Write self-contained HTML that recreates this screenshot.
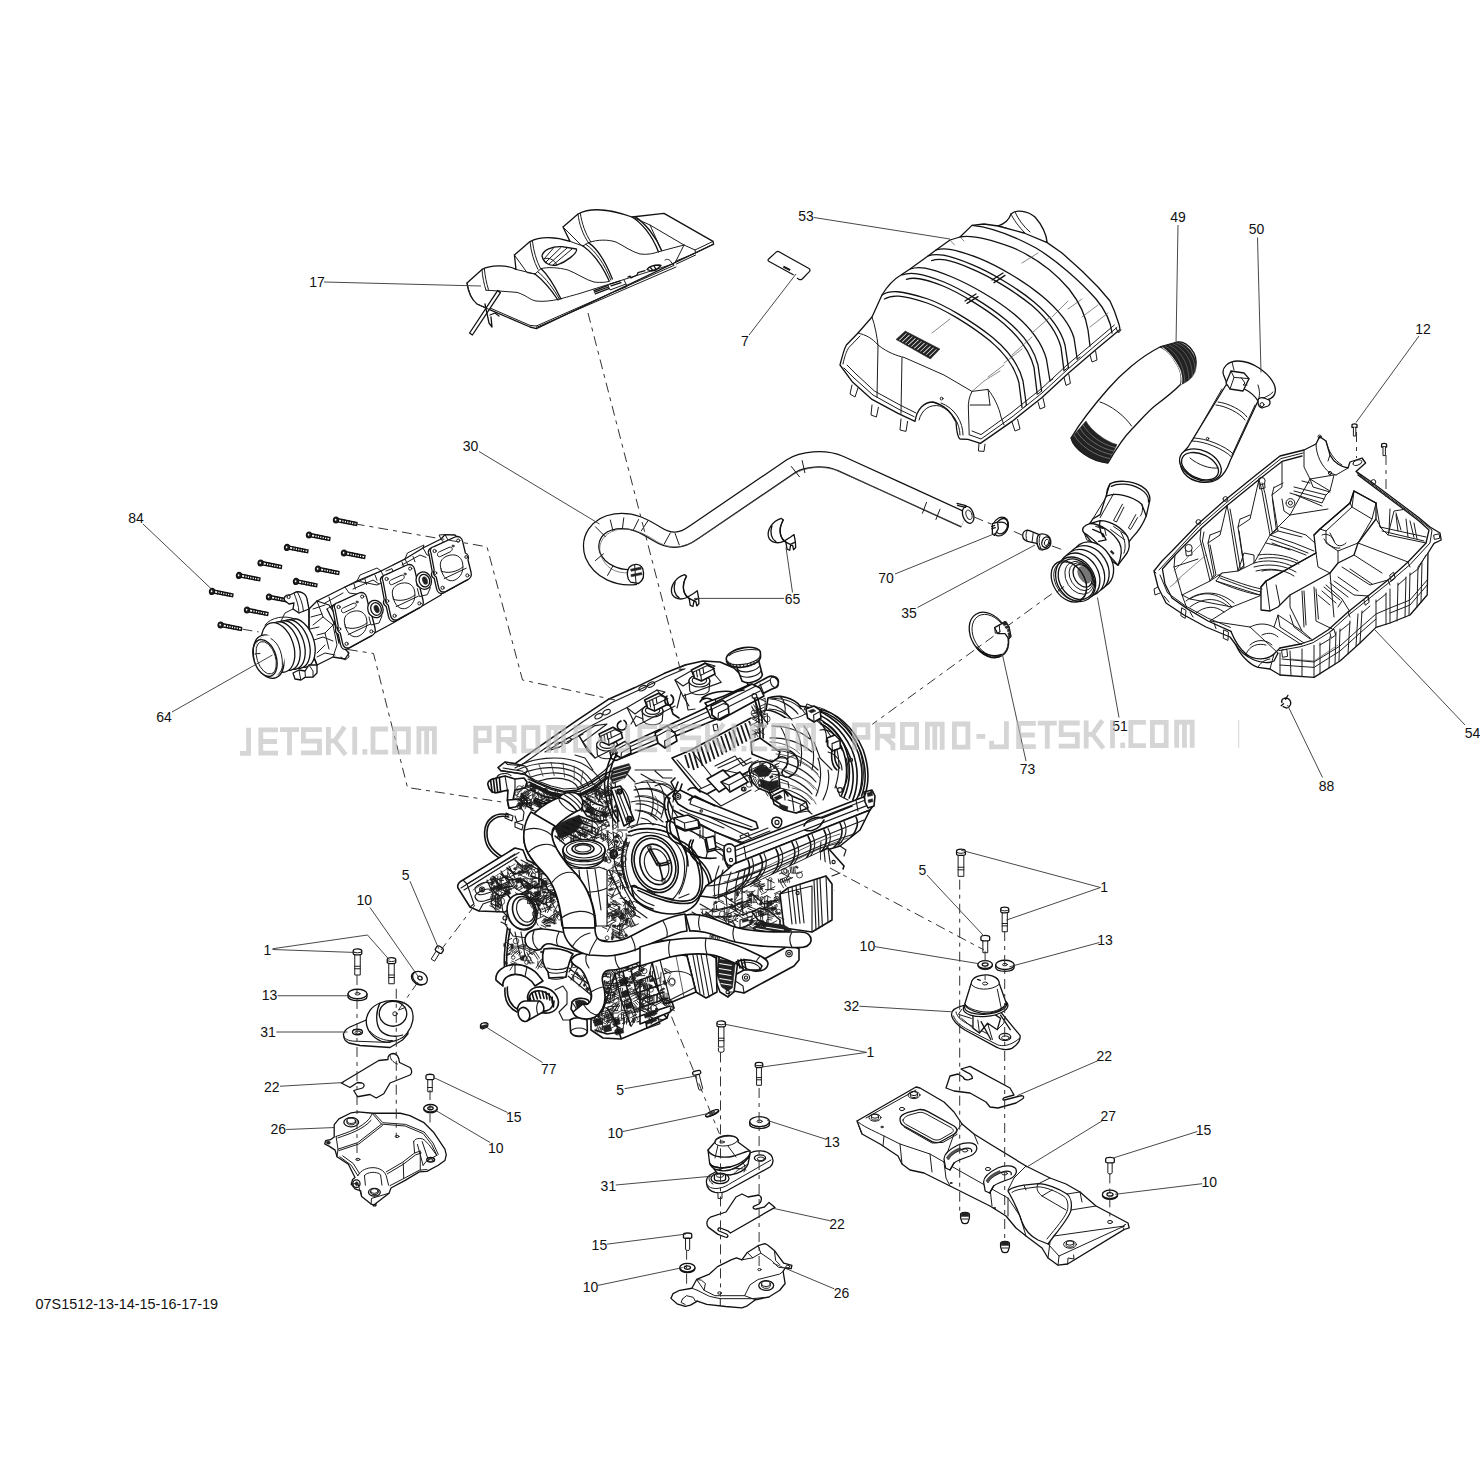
<!DOCTYPE html>
<html><head><meta charset="utf-8"><title>07S1512</title>
<style>
html,body{margin:0;padding:0;background:#fff;}
body{width:1480px;height:1480px;overflow:hidden;font-family:"Liberation Sans",sans-serif;}
svg{display:block}
svg *{vector-effect:non-scaling-stroke}
.l{fill:none;stroke:#1c1c1c;stroke-width:1;stroke-linecap:round;stroke-linejoin:round}
.f{fill:#fff;stroke:#1c1c1c;stroke-width:1;stroke-linecap:round;stroke-linejoin:round}
.k{fill:none;stroke:#111;stroke-width:1.3;stroke-linecap:round;stroke-linejoin:round}
.fk{fill:#fff;stroke:#111;stroke-width:1.3;stroke-linecap:round;stroke-linejoin:round}
.t{fill:none;stroke:#555;stroke-width:.7;stroke-linecap:round;stroke-linejoin:round}
.ft{fill:#fff;stroke:#555;stroke-width:.7}
.b{fill:#222;stroke:#222;stroke-width:.5}
.w{fill:#fff;stroke:none}
.d{fill:none;stroke:#333;stroke-width:1;stroke-dasharray:10 5 4 5}
.ld{fill:none;stroke:#333;stroke-width:.9}
.eng .k,.eng .fk{stroke-width:1.6}
.eng .l,.eng .f{stroke-width:1.15}
.eng .t{stroke-width:.8;stroke:#333}
.fin{fill:none;stroke:#1a1a1a;stroke-width:1.8;stroke-linecap:butt}
text{font-family:"Liberation Sans",sans-serif;font-size:14px;fill:#111}
.wm{fill:none;stroke:#bcbcbc;stroke-width:4.8;stroke-linecap:butt;stroke-linejoin:miter;opacity:.62}
</style></head><body>
<svg width="1480" height="1480" viewBox="0 0 1480 1480">
<rect width="1480" height="1480" fill="#fff"/>
<!-- 20_engineA.svg -->
<g class="eng" transform="translate(455,630) scale(.2)">
<!-- valve cover body -->
<path class="w" d="M215,688 L250,660 L300,668 L615,448 L765,348 L900,288 L1045,218 L1150,175 L1240,155 L1325,160 L1395,190 L1450,245 L1480,300 L1480,700 L800,700 L745,720 L680,765 L610,800 L545,808 L480,790 L400,758 L350,722 L228,703 Z"/>
<path class="k" d="M215,688 L250,660 L300,668 L615,448 L765,348 L900,288 L1045,218 L1150,175 L1240,155 L1325,160 L1395,190 L1450,245 L1480,300 M800,700 L745,720 L680,765 L610,800 L545,808 L480,790 L400,758 L350,722 L228,703 L215,688"/>
<path class="l" d="M228,703 L350,722 L362,700 L350,680 L300,668 M250,660 L262,672 L350,680 M240,690 L340,706"/>
<path class="l" d="M322,682 L632,464 L782,364 L912,304 L1056,234 L1150,194"/>
<path class="l" d="M350,722 L400,750 L480,780 L545,795 L610,790 L680,755 L745,705 L800,650"/>
<path class="l" d="M365,745 L480,797 L550,814 L620,807 L700,768 L760,722"/>
<!-- ovals on top of cover -->
<path class="l" d="M700,440 a18,10 -30 1,0 36,-18 a18,10 -30 1,0 -36,18 M740,420 a18,10 -30 1,0 36,-18 a18,10 -30 1,0 -36,18 M920,300 a18,10 -30 1,0 36,-18 a18,10 -30 1,0 -36,18 M962,282 a18,10 -30 1,0 36,-18 a18,10 -30 1,0 -36,18 M500,585 a18,10 -30 1,0 36,-18 a18,10 -30 1,0 -36,18 M545,562 a18,10 -30 1,0 36,-18 a18,10 -30 1,0 -36,18"/>
<path class="l" d="M1130,185 L1160,172 M1140,195 L1120,200"/>
<!-- coil recess frames -->
<path class="l" d="M620,528 L700,478 L760,470 L640,560 Z M860,388 L1010,300 L1050,310 L900,420 Z M1100,250 L1250,165 L1300,180 L1140,280 Z"/>
<path class="l" d="M620,528 L660,600 L700,640 M860,388 L905,480 M1100,250 L1140,330 L1170,380 M1010,300 L1090,400 M1250,165 L1330,260"/>
<!-- coils: 3 -->
<g id="coil">
<ellipse class="f" cx="760" cy="575" rx="52" ry="30"/>
<path class="f" d="M708,575 L712,625 C730,650 790,650 808,625 L812,575"/>
<ellipse class="f" cx="760" cy="575" rx="52" ry="30"/>
<ellipse class="l" cx="760" cy="572" rx="36" ry="20"/>
<path class="fk" d="M720,520 L790,486 L830,510 L838,540 L770,575 L735,560 Z"/>
<path class="l" d="M735,560 L730,530 L800,498 L830,510 M770,575 L768,545 L836,512 M745,525 L750,555 M760,518 L765,548 M778,510 L782,540"/>
</g>
<use href="#coil" x="228" y="-170"/>
<use href="#coil" x="462" y="-320"/>
<!-- small clips/wires between coils -->
<path class="k" d="M1060,330 C1040,350 1050,380 1075,375 C1095,370 1100,340 1080,325 M1075,375 L1090,420 L1120,440"/>
<path class="l" d="M1130,310 L1110,390 M1150,320 L1165,400 L1200,395"/>
<path class="k" d="M830,455 C800,470 810,500 835,500 C860,498 865,465 845,452"/>
<path class="l" d="M880,470 L905,430 L940,445 M600,625 L650,640 L690,700"/>
<!-- fuel rail -->
<path class="fk" d="M775,612 L1270,382 L1300,368 L1345,355 L1365,385 L1350,430 L1310,445 L805,652 L782,642 Z"/>
<path class="l" d="M790,622 L1290,396 M798,638 L1305,420 M1270,382 L1300,435 M1345,355 L1320,380 L1330,430"/>
<path class="w" d="M1250,365 L1345,330 L1480,270 L1480,330 L1365,395 L1290,420 Z"/>
<path class="k" d="M1250,365 L1345,330 L1480,270 M1480,330 L1365,395 L1290,420 L1250,365"/>
<path class="l" d="M1262,385 L1480,290 M1300,345 L1320,400"/>
<path class="l" d="M1290,475 L1310,470 L1316,500 L1296,505 Z"/>
<!-- rail clamps/injector blocks -->
<path class="fk" d="M1000,515 L1060,480 L1100,515 L1110,555 L1050,590 L1015,565 Z"/>
<path class="l" d="M1015,565 L1010,530 L1065,500 L1100,515 M1050,590 L1048,555 L1105,523"/>
<path class="fk" d="M800,585 L850,557 L875,580 L880,615 L830,640 L805,625 Z"/>
<path class="l" d="M805,625 L808,597 L854,573 M830,640 L832,613 L876,589"/>
<!-- ECU finned box -->
<path class="w" d="M1085,640 L1180,600 L1480,440 L1480,700 L1260,820 L1215,800 Z"/>
<path class="k" d="M1085,640 L1180,600 L1480,440 M1480,700 L1260,820 L1215,800 L1085,640"/>
<path class="l" d="M1110,650 L1230,790 M1180,600 L1290,740 L1480,640 M1215,800 L1300,760 L1290,740"/>
<path class="fin" d="M1150,625 L1170,690 M1170,615 L1195,700 M1190,604 L1215,690 M1210,594 L1238,680 M1230,583 L1258,668 M1250,572 L1278,658 M1270,562 L1298,646 M1290,551 L1318,634 M1310,540 L1338,624 M1330,530 L1358,612 M1350,519 L1378,602 M1370,508 L1398,590 M1390,498 L1418,580 M1410,487 L1438,568 M1430,476 L1458,558 M1450,466 L1478,546 M1470,455 L1480,480"/>
<path class="l" d="M1300,680 L1400,630 L1440,680 L1480,660 M1340,700 L1480,730 M1260,820 L1330,880 L1480,800"/>
<path class="fk" d="M1260,745 L1340,700 L1400,760 L1320,810 Z"/>
<!-- bracket plate under rail -->
<path class="w" d="M1060,830 L1100,800 L1175,840 L1480,1000 L1480,1080 L1300,1010 L1090,900 Z"/>
<path class="k" d="M1060,830 L1100,800 L1175,840 L1480,1000 M1480,1080 L1300,1010 L1090,900 L1060,830"/>
<path class="l" d="M1100,800 L1090,860 M1175,840 L1165,880 L1480,1040"/>
<circle class="l" cx="1105" cy="832" r="14"/><circle class="l" cx="1105" cy="832" r="7"/>
<circle class="l" cx="1240" cy="910" r="6"/><circle class="l" cx="1395" cy="745" r="6"/><circle class="l" cx="1440" cy="795" r="8"/>
</g>
<!-- 21_engineA2.svg -->
<g class="eng" transform="translate(455,630) scale(.2)">
<!-- cylinder head side under valve cover: dark busy region -->

<!-- left sensor (ribbed cylinder) -->
<path class="fk" d="M165,775 C160,760 175,745 200,742 L250,730 L300,745 L345,740 L360,760 L350,790 L300,800 L290,850 L300,880 L270,890 L262,850 L265,800 L215,812 C190,818 170,805 165,775 Z"/>
<path class="k" d="M178,752 L186,812 M192,747 L200,814 M206,744 L214,812 M222,740 L228,808"/>
<path class="l" d="M250,730 L262,800 M300,745 L300,800 M270,890 L300,900 L330,890 L345,910 L340,950 L310,960 L300,930"/>
<path class="fk" d="M262,850 L330,845 L340,870 L300,885 L270,890 Z"/>
<path class="l" d="M210,735 C220,715 260,712 280,728"/>
<!-- wire loop left -->
<path class="k" d="M268,925 C200,905 150,950 148,1010 C146,1070 170,1110 230,1145 L300,1185 M268,935 C205,920 160,960 160,1010 C158,1065 182,1100 238,1135"/>
<path class="l" d="M255,915 L290,930 L285,955 L250,940 Z M300,960 L340,975 L335,1000 L300,985 Z"/>
<!-- detail blocks under cover (dark) -->
<path class="k" d="M380,800 L440,830 L520,850 M400,840 L470,870 M560,830 L640,850 L700,900 L760,920 M620,870 L660,930 L740,960 M640,820 C660,850 700,870 740,880"/>
<path class="b" d="M395,845 l40,18 l-5,22 l-40,-18 Z M570,845 l30,10 l-6,30 l-30,-12 Z M660,880 l35,15 l-8,25 l-35,-15 Z M735,905 l28,10 l-6,26 l-28,-12 Z"/>
<path class="l" d="M330,820 L380,850 L380,900 L420,910 M440,890 L500,900 M700,800 L760,830 L820,800 M700,830 L740,870 M780,760 L790,1000 M800,750 L815,990 M820,780 C860,800 880,860 880,940 L870,980 M760,790 C800,820 820,880 815,960"/>
<circle class="l" cx="822" cy="808" r="12"/><circle class="l" cx="878" cy="945" r="12"/><circle class="l" cx="822" cy="808" r="5"/>
<!-- thin tube going up to rail -->
<path class="k" d="M795,606 C775,640 755,690 748,758 C746,800 752,830 760,855 M812,612 C792,648 772,696 765,760 C763,800 768,828 776,850"/>
<!-- manifold/plenum contour lines in middle -->
<path class="l" d="M900,800 C980,780 1040,800 1060,830 M880,860 C960,840 1020,870 1060,900 M900,900 C960,900 1010,930 1040,960 M1000,780 C1040,760 1080,770 1090,800 M860,990 C920,960 1000,960 1060,990"/>
<path class="t" d="M910,830 C960,820 1010,840 1040,870 M930,760 C980,740 1040,750 1080,780 M1000,830 C1020,860 1020,900 1000,930"/>
<!-- dark area inside hose bend -->
<path class="b" d="M500,990 C520,960 580,940 620,925 L640,960 L600,1010 L560,1030 L520,1040 Z"/>
<path class="k" d="M520,1000 L640,1050 M540,980 L660,1030 M560,965 L680,1010 M590,950 L700,990 M500,1030 L560,1080 L640,1090 M620,930 L700,960 L760,950 M650,905 L720,930"/>
<!-- flywheel cover -->
<ellipse class="fk" cx="1000" cy="1170" rx="112" ry="146" transform="rotate(-20 1000 1170)"/>
<ellipse class="k" cx="1000" cy="1170" rx="100" ry="132" transform="rotate(-20 1000 1170)"/>
<ellipse class="k" cx="1004" cy="1172" rx="76" ry="104" transform="rotate(-20 1004 1172)"/>
<ellipse class="l" cx="1008" cy="1174" rx="58" ry="82" transform="rotate(-20 1008 1174)"/>
<path class="k" d="M1020,1170 L975,1090 M1020,1170 L1065,1160 M1020,1170 L1040,1250 M1010,1175 L968,1098 M1022,1180 L1062,1172"/>
<circle class="l" cx="972" cy="1088" r="9"/><circle class="l" cx="1068" cy="1160" r="9"/><circle class="l" cx="1042" cy="1252" r="9"/><circle class="l" cx="1020" cy="1172" r="8"/>
<!-- casing around flywheel -->
<path class="l" d="M870,1010 C920,990 1000,990 1060,1010 M860,1040 C830,1100 830,1200 870,1290 M1150,1080 C1170,1150 1160,1250 1120,1320 M790,1100 L800,1180 L850,1300 M780,1120 a14,14 0 1,0 28,0 a14,14 0 1,0 -28,0 M770,1200 L830,1330 L900,1400"/>
<!-- wires right of flywheel -->
<path class="k" d="M1065,950 C1050,980 1060,1040 1100,1060 C1160,1080 1200,1120 1215,1180 C1235,1260 1230,1330 1180,1350 C1120,1370 1000,1330 920,1290 L880,1280 M1078,948 C1066,985 1076,1030 1110,1048 C1170,1070 1212,1110 1228,1175 C1248,1260 1240,1340 1185,1362 C1120,1382 1000,1345 915,1302"/>
<path class="k" d="M1180,1050 C1160,1080 1170,1120 1200,1150 C1260,1200 1280,1260 1270,1330 M1192,1050 C1175,1080 1182,1112 1210,1140 C1270,1190 1295,1255 1282,1330"/>
<path class="fk" d="M1100,950 L1180,935 L1220,960 L1225,990 L1150,1005 L1105,985 Z"/>
<path class="l" d="M1140,945 L1146,1000 M1180,938 L1186,992 M1090,940 L1070,955"/>
<path class="fk" d="M1250,1050 L1290,1040 L1300,1100 L1262,1110 Z"/>
<path class="l" d="M1300,1100 L1340,1130 L1340,1150 M1262,1110 L1255,1140"/>
<!-- runner clamps right -->
<path class="w" d="M1345,1120 C1340,1100 1360,1085 1380,1090 L1480,1060 L1480,1180 L1420,1210 L1380,1200 C1360,1190 1345,1150 1345,1120 Z"/>
<path class="k" d="M1345,1120 C1340,1100 1360,1085 1380,1090 L1480,1060 M1480,1180 L1420,1210 L1380,1200 C1360,1190 1345,1150 1345,1120 L1345,1120"/>
<path class="l" d="M1360,1105 L1372,1190 M1380,1090 L1400,1200 M1365,1140 a12,12 0 1,0 24,0 a12,12 0 1,0 -24,0"/>
<path class="l" d="M1300,1010 L1480,1090 M1090,900 C1150,1000 1250,1050 1340,1100"/>
</g>
<!-- 22_engineB.svg -->
<g class="eng" transform="translate(640,630) scale(.2)">
<!-- oil filler cap -->
<path class="fk" d="M478,170 L510,255 C540,275 600,255 612,225 L590,140 Z"/>
<path class="l" d="M490,200 C520,220 580,205 598,180 M500,228 C530,246 590,232 605,205"/>
<path class="fk" d="M432,150 C425,125 470,95 520,88 C570,82 600,95 602,112 L603,135 C600,160 560,180 510,186 C460,190 432,175 432,150 Z"/>
<path class="l" d="M432,150 C440,170 470,178 515,172 C560,166 598,148 602,125 M445,128 C470,105 540,92 590,100"/>
<path class="l" d="M440,158 L441,172 M452,166 L453,180 M466,171 L467,185 M482,174 L483,188 M500,175 L501,188 M518,174 L519,186 M536,171 L537,183 M554,166 L555,178 M570,160 L571,172 M585,152 L586,163 M596,142 L597,152"/>
<!-- rail end tube -->
<path class="fk" d="M520,300 L640,235 C660,225 690,235 692,255 C695,275 680,290 660,295 L560,345 Z"/>
<ellipse class="l" cx="672" cy="262" rx="18" ry="28" transform="rotate(-25 672 262)"/>
<path class="l" d="M540,310 L650,250 M600,270 L620,320"/>
<!-- upper rail (thick) -->
<path class="fk" d="M330,385 L560,270 L600,290 L620,330 L400,450 L355,440 Z"/>
<path class="l" d="M345,400 L580,280 M360,425 L600,305 M400,450 L395,415 L355,400"/>
<path class="fk" d="M355,380 L415,352 L440,375 L445,420 L390,448 L360,425 Z"/>
<path class="l" d="M360,425 L362,395 L418,368 L440,375 M390,448 L392,415 L444,390"/>
<path class="l" d="M560,330 a12,12 0 1,0 24,0 a12,12 0 1,0 -24,0 M572,342 L600,420 L640,470"/>
<path class="k" d="M300,360 C310,340 340,335 360,350 M310,340 C350,310 420,300 470,310 L520,300"/>
<!-- turbo-like duct on right top -->
<path class="fk" d="M640,340 C700,320 770,340 800,380 L830,420 C800,440 760,450 730,440 C700,420 660,400 630,400 Z"/>
<path class="l" d="M660,345 C700,350 760,380 790,420 M640,370 C690,380 730,410 750,440"/>
<!-- plenum big curves -->
<path class="w" d="M800,380 C900,390 1008,455 1074,575 C1120,665 1120,775 1084,845 L1060,880 L700,1000 L640,800 L640,470 L730,440 C760,450 800,440 830,420 Z"/>
<path class="k" d="M800,380 C900,390 1008,455 1074,575 C1120,665 1120,775 1084,845 L1060,880"/>
<path class="k" d="M830,420 C900,430 988,500 1036,600 C1074,680 1074,770 1046,840 M850,410 C930,425 1010,495 1058,595 C1094,680 1094,775 1064,850"/>
<path class="l" d="M880,440 C920,470 940,520 930,560 C960,540 1000,560 1010,600 M900,500 C940,490 980,520 990,560 M940,610 C980,620 1010,660 1010,700 M870,560 L900,640 L960,700 M1030,640 C1050,700 1040,760 1010,800 M980,780 L1000,830 L1040,850"/>
<path class="l" d="M820,400 L835,370 L860,380 L850,410 M860,380 C950,390 1046,468 1094,588 C1124,668 1124,758 1096,828"/>
<circle class="l" cx="1000" cy="800" r="12"/><circle class="l" cx="968" cy="560" r="10"/><circle class="l" cx="1055" cy="650" r="8"/>
<path class="t" d="M700,640 C780,640 860,680 900,740 M720,720 C800,720 860,760 890,810 M760,790 C820,800 860,830 880,870 M650,560 C700,560 760,580 800,620"/>
<!-- S hose center -->
<path class="fk" d="M690,600 C720,590 760,600 780,630 C800,660 790,700 770,720 L745,735 C720,740 700,720 715,700 C735,680 745,660 735,645 C725,632 705,632 690,640 Z"/>
<path class="l" d="M735,645 C750,630 770,625 780,630 M715,700 C730,712 755,725 770,720"/>
<!-- sensor / dark connector center -->
<path class="fk" d="M545,700 C550,670 590,650 630,660 C670,670 700,700 695,740 L700,790 L650,815 L590,790 L560,760 Z"/>
<path class="b" d="M565,705 C575,685 610,675 635,685 L660,705 L640,730 L600,735 Z M600,745 L650,760 L690,750 L695,785 L650,808 L605,785 Z"/>
<path class="l" d="M590,690 a22,14 0 1,0 44,0 a22,14 0 1,0 -44,0"/>
<path class="fk" d="M660,830 L720,800 L760,830 L830,860 L840,890 L780,915 L720,900 L670,870 Z"/>
<path class="b" d="M700,870 l40,14 l-4,20 l-40,-14 Z M670,838 l30,-14 l12,14 l-30,14 Z"/>
<path class="l" d="M720,800 L725,850 M760,830 L770,905 M830,860 L800,880 L805,910 M780,915 L840,905 L860,920"/>
<!-- ECU rest (right part) and bracket below -->
<path class="fk" d="M555,560 L600,540 L700,610 L690,640 L660,660 L560,620 Z"/>
<path class="l" d="M390,690 L500,640 L530,670 M470,740 a6,6 0 1,0 12,0 a6,6 0 1,0 -12,0 M510,795 a10,10 0 1,0 20,0 a10,10 0 1,0 -20,0"/>
<path class="fk" d="M405,760 L500,710 L540,760 L450,810 Z"/>
<path class="l" d="M450,810 L445,775 L405,760 M445,775 L535,728"/>
<!-- triangular bracket -->
<path class="fk" d="M165,830 L200,800 L260,830 L580,960 L590,990 L560,1000 L240,900 L190,870 Z"/>
<path class="l" d="M260,830 L250,870 L560,985 M300,905 a6,6 0 1,0 12,0 a6,6 0 1,0 -12,0"/>
<circle class="l" cx="190" cy="832" r="14"/><circle class="l" cx="190" cy="832" r="6"/>
<path class="k" d="M190,760 L165,830 M210,770 L200,800 M240,800 C260,780 290,790 300,810"/>
<!-- lower long fuel rail -->
<path class="fk" d="M430,1100 L1130,830 L1160,850 L1165,880 L1150,900 L470,1170 L440,1150 Z"/>
<path class="l" d="M445,1115 L1140,845 M460,1140 L1150,872 M470,1170 L465,1135 M520,1080 L530,1140 M1080,850 L1090,905"/>
<path class="fk" d="M420,1090 C420,1075 440,1065 460,1072 L475,1085 L480,1160 L465,1180 L440,1175 C425,1165 420,1120 420,1090 Z"/>
<circle class="l" cx="445" cy="1100" r="10"/><circle class="l" cx="455" cy="1150" r="8"/>
<path class="fk" d="M1120,810 L1160,800 L1175,830 L1170,880 L1140,890 L1125,860 Z"/>
<path class="b" d="M1135,815 l25,-6 l4,18 l-25,6 Z M1140,850 l22,-6 l3,14 l-22,6 Z"/>
<path class="k" d="M820,980 C830,950 880,930 910,940 L1060,880 M825,1000 C850,1010 880,1000 900,980 L920,950"/>
<path class="fk" d="M660,950 C665,935 690,930 705,945 C715,960 705,985 690,990 C670,990 655,970 660,950 Z"/>
<circle class="l" cx="685" cy="962" r="10"/>
<path class="l" d="M640,990 L490,1050 M650,1005 L500,1065 M500,1030 l40,-16 l6,14 l-40,16 Z"/>
<!-- runners under rail -->
<path class="fk" d="M470,1170 L1150,900 L1100,1000 L1000,1080 L900,1110 L520,1290 L380,1340 L300,1330 L330,1280 L400,1230 Z"/>
<path class="k" d="M540,1150 C560,1200 540,1260 480,1300 M600,1125 C630,1180 600,1240 540,1280 M680,1095 C710,1150 690,1210 630,1245 M760,1062 C790,1115 770,1170 720,1205 M840,1030 C870,1080 850,1135 800,1170 M920,1000 C945,1045 930,1095 885,1130 M1000,965 C1020,1005 1010,1050 970,1085 M1080,935 C1095,965 1085,1005 1055,1035"/>
<path class="l" d="M560,1142 C580,1195 560,1250 505,1292 M620,1118 C648,1170 622,1232 562,1270 M700,1088 C730,1140 708,1200 650,1236 M780,1055 C808,1108 790,1160 740,1196 M860,1022 C888,1072 870,1126 820,1160 M940,992 C965,1038 948,1088 905,1120 M1020,958 C1040,998 1030,1042 990,1076"/>
<path class="l" d="M400,1230 C480,1220 560,1190 640,1150 M330,1280 C420,1275 520,1240 620,1195 M380,1340 L520,1260 L900,1090 L1010,1060"/>
<path class="t" d="M420,1260 C500,1240 600,1200 700,1150 C800,1100 900,1050 1000,1020 M440,1300 C540,1270 640,1220 740,1170 C840,1120 940,1070 1040,1040"/>
<!-- engine block right-bottom bits -->
<path class="fk" d="M900,1110 L940,1090 L1020,1180 L1010,1210 L960,1230 L970,1300 L940,1320 L900,1260 Z"/>
<path class="l" d="M940,1090 L960,1230 M920,1100 L935,1250 M960,1160 a8,8 0 1,0 16,0 a8,8 0 1,0 -16,0"/>
<path class="w" d="M520,1290 L900,1110 L900,1260 L940,1320 L950,1480 L560,1480 L540,1380 Z"/>
<path class="l" d="M560,1300 L600,1480 M620,1280 L640,1330 L700,1300 L690,1250 M720,1240 L760,1480 M740,1232 L780,1480 M800,1210 L830,1300 L900,1270 M850,1290 L860,1480 M870,1285 L880,1480 M780,1320 a8,8 0 1,0 16,0 a8,8 0 1,0 -16,0 M600,1410 a12,12 0 1,0 24,0 a12,12 0 1,0 -24,0"/>
<path class="k" d="M540,1380 L620,1350 L700,1380 L740,1360 M620,1350 L640,1480 M660,1440 L760,1400"/>
</g>
<!-- 23_engineC.svg -->
<g class="eng" transform="translate(455,800) scale(.2)">
<!-- rear plate bottom-left -->
<path class="fk" d="M15,440 C10,425 20,410 40,400 L300,240 L340,250 L360,300 L420,330 L420,420 L330,470 L300,520 L250,560 L120,555 L75,535 Z"/>
<path class="l" d="M40,400 L60,420 L95,520 L75,535 M60,420 L320,262 M100,440 C110,425 150,405 170,415 L260,380 M100,440 C100,470 120,480 150,470 L180,460 M120,555 L140,520 L250,480"/>
<circle class="l" cx="135" cy="447" r="12"/><circle class="l" cx="135" cy="447" r="5"/>
<path class="t" d="M80,430 L300,290 M90,450 L300,320"/>
<!-- busy dark mechanical region -->
<path class="k" d="M180,440 L220,480 L260,470 L300,520 M200,400 L240,440 L290,430 M230,370 L270,400 L320,395 L350,440 M260,340 L300,370 L340,360 M300,300 L330,330 L370,330 M340,400 L400,440 L440,430 M380,380 L440,400 L470,460 M330,470 L400,500 L430,560"/>
<path class="b" d="M205,430 l28,-10 l10,22 l-28,10 Z M245,455 l26,-8 l8,22 l-26,8 Z M300,395 l30,-8 l8,22 l-30,8 Z M350,425 l26,-6 l8,24 l-26,6 Z M395,460 l30,-6 l6,24 l-30,6 Z M430,405 l28,-4 l4,22 l-28,4 Z"/>
<path class="l" d="M190,470 L180,520 L210,560 M230,500 L240,560 L280,600 M380,470 L440,520 L500,500 M440,480 L500,470 L520,520 M330,300 L420,350 L480,340"/>
<!-- throttle body circle -->
<ellipse class="fk" cx="335" cy="560" rx="72" ry="92" transform="rotate(-20 335 560)"/>
<ellipse class="k" cx="345" cy="555" rx="55" ry="74" transform="rotate(-20 345 555)"/>
<ellipse class="l" cx="352" cy="552" rx="42" ry="60" transform="rotate(-20 352 552)"/>
<path class="l" d="M270,600 C300,650 360,660 400,620 M262,560 L250,620 L290,680 L360,690"/>
<path class="l" d="M240,590 a10,10 0 1,0 20,0 a10,10 0 1,0 -20,0 M230,610 L260,625"/>
<!-- thin wire down -->
<path class="k" d="M262,640 C250,720 240,800 250,860 M275,645 C262,720 252,800 262,860"/>
<path class="l" d="M300,660 L330,800 L350,780 L330,660"/>
<!-- mesh/grille -->
<path class="l" d="M575,800 L700,900 M570,840 L690,940 M565,880 L680,975 M610,790 L720,880 M580,900 L640,790 M620,930 L690,820 M660,960 L715,870 M570,860 L600,800"/>
<!-- water pump -->
<path class="fk" d="M205,900 C200,860 240,825 300,822 C350,822 400,850 420,880 L440,905 L400,930 C380,895 340,870 300,872 C262,875 235,895 240,930 Z"/>
<path class="l" d="M240,930 C225,920 212,912 205,900 M300,822 L300,872 M360,835 L350,882"/>
<path class="k" d="M250,940 C245,1000 270,1040 310,1060 M262,935 C258,990 280,1030 318,1050"/>
<ellipse class="fk" cx="440" cy="1000" rx="80" ry="62" transform="rotate(25 440 1000)"/>
<ellipse class="k" cx="430" cy="1005" rx="62" ry="48" transform="rotate(25 430 1005)"/>
<path class="k" d="M385,965 L395,1000 M400,958 L412,995 M418,955 L428,992 M436,956 L445,992 M454,960 L460,995 M470,968 L474,1000 M372,980 L382,1012 M365,1000 L378,1030 M486,985 L486,1015 M495,1005 L492,1035"/>
<path class="fk" d="M318,1060 C305,1040 320,1010 350,1005 L420,1005 C440,1010 450,1040 440,1060 L360,1105 C340,1105 325,1085 318,1060 Z"/>
<ellipse class="fk" cx="345" cy="1072" rx="28" ry="36" transform="rotate(-20 345 1072)"/>
<path class="l" d="M420,1005 C405,1020 405,1050 415,1072"/>
<path class="l" d="M500,950 L540,930 L560,960 L560,1020 L520,1060 M520,1060 L540,1100 L575,1100"/>
<!-- fitting under -->
<path class="fk" d="M585,1010 C600,990 640,985 665,1000 L680,1030 L670,1065 L600,1075 L580,1045 Z"/>
<path class="b" d="M600,1005 C620,995 650,1000 660,1015 L662,1040 L612,1050 Z"/>
<path class="l" d="M600,1075 L605,1040 L585,1010"/>
<path class="fk" d="M575,1100 L578,1160 C590,1190 650,1190 662,1160 L660,1100 C640,1085 595,1085 575,1100 Z"/>
<ellipse class="l" cx="620" cy="1160" rx="42" ry="20"/>
<!-- dark mechanical lower center -->
<path class="fk" d="M680,1085 L740,1050 L800,870 L1000,800 L1180,760 L1200,940 L1080,1030 L1060,1090 L960,1140 L830,1195 L740,1190 L680,1150 Z"/>
<path class="b" d="M690,1100 l40,-10 l10,30 l-40,12 Z M740,1130 l36,-8 l8,30 l-36,10 Z M790,1100 l30,-8 l6,28 l-30,8 Z M820,900 l40,-14 l8,30 l-40,14 Z M830,960 l36,-10 l6,28 l-36,10 Z M850,1020 l30,-8 l6,26 l-30,8 Z M800,1150 l40,-10 l4,24 l-40,10 Z"/>
<path class="k" d="M800,870 L830,1000 L860,1080 L880,1130 M840,860 L870,980 L900,1060 M880,850 L905,950 L940,1040 L960,1140 M760,1040 L800,1100 L830,1190 M920,830 L950,940 L1000,1020 L1060,1090 M700,1150 L760,1170 L830,1160 M990,1100 L1060,1060"/>
<path class="l" d="M960,880 L1180,800 M975,920 L1190,850 M1000,960 L1195,900 M1000,1020 L1080,1030 M960,1000 L1050,960 L1080,1030 M1020,980 L1150,930 M900,1090 L1050,1040 M910,1110 L1050,1060 M980,1120 L1000,1090 L1040,1100"/>
<path class="l" d="M1000,800 L1030,960 M1060,785 L1090,940 M1120,775 L1145,930"/>
<!-- right lower block with fins -->
<path class="fk" d="M1180,760 L1280,740 L1300,940 L1200,960 Z"/>
<path class="l" d="M1200,760 L1220,955 M1220,756 L1240,952 M1240,752 L1260,948 M1260,746 L1280,944"/>
</g>
<!-- 24_engineD.svg -->
<g class="eng" transform="translate(640,800) scale(.2)">
<!-- block under runners -->
<path class="w" d="M240,560 L520,440 L900,300 L1020,350 L960,480 L960,640 L860,680 L700,640 L560,640 L380,700 L240,640 Z"/>
<!-- oil cooler box with fins -->
<path class="fk" d="M700,470 L740,440 L930,380 L960,420 L960,600 L860,660 L720,640 Z"/>
<path class="l" d="M740,440 L760,620 M760,434 L780,618 M780,428 L800,616 M800,422 L820,614 M870,402 L880,650 M885,397 L895,640 M900,392 L912,632 M930,380 L940,610"/>
<path class="l" d="M700,470 L860,430 L860,660 M780,465 a8,8 0 1,0 16,0 a8,8 0 1,0 -16,0"/>
<!-- small block -->
<path class="fk" d="M560,560 L600,540 L640,550 L700,600 L700,640 L640,620 L590,600 Z"/>
<circle class="l" cx="605" cy="568" r="12"/><circle class="l" cx="605" cy="568" r="5"/>
<path class="l" d="M500,600 L560,580 L560,620 L500,640 Z M640,550 L640,620"/>
<path class="b" d="M650,540 l30,-8 l4,14 l-30,8 Z M510,600 l30,-8 l3,12 l-30,8 Z"/>
<path class="l" d="M260,560 L330,600 L420,580 M300,520 L370,560 L470,530 M420,480 L480,520 L560,500 M460,600 L480,640 L560,640 M380,620 L420,660"/>
<path class="k" d="M250,590 L300,640 L380,650 M330,560 L380,600 M560,470 L620,520 L690,500"/>
<!-- oil filter bracket plate -->
<path class="fk" d="M465,880 L760,720 L795,745 L795,800 L770,830 L520,965 L470,955 Z"/>
<circle class="l" cx="745" cy="768" r="16"/><circle class="l" cx="745" cy="768" r="7"/>
<circle class="l" cx="530" cy="888" r="18"/><circle class="l" cx="530" cy="888" r="8"/>
<path class="l" d="M520,965 L515,930 L470,900"/>
<!-- oil filter (dark ribbed) -->
<path class="fk" d="M385,770 C395,745 440,740 470,760 L490,800 L470,960 L440,985 L400,960 L370,880 Z"/>
<path class="b" d="M392,775 C402,755 440,752 462,768 L478,805 L462,940 L438,955 L408,935 L382,870 Z"/>
<path class="w" d="M400,790 l60,10 l-1,5 l-60,-10 Z M397,815 l62,10 l-1,5 l-62,-10 Z M395,840 l62,10 l-1,5 l-62,-10 Z M395,865 l62,10 l-1,5 l-62,-10 Z M398,890 l60,10 l-1,5 l-60,-10 Z M404,915 l54,9 l-1,5 l-54,-9 Z"/>
<path class="l" d="M440,985 L450,960 L470,960 M430,960 a8,8 0 1,0 16,0 a8,8 0 1,0 -16,0"/>
<!-- ribbed cap top (black band) -->
<path class="b" d="M560,640 L610,610 L720,625 L760,650 L700,690 L600,680 Z"/>
<path class="w" d="M580,640 l120,22 l-2,5 l-120,-22 Z M600,628 l120,20 l-2,5 l-120,-20 Z"/>
<!-- left: starter/casing light box -->
<path class="w" d="M0,830 L150,785 L380,790 L380,960 L260,1030 L160,1060 L0,1120 Z"/>
<path class="fk" d="M230,760 L300,745 L380,790 L385,960 L330,990 L280,960 Z"/>
<path class="l" d="M260,752 L300,965 M280,748 L320,975 M300,745 L345,985 M330,765 L365,970 M300,740 a6,6 0 1,0 12,0 a6,6 0 1,0 -12,0"/>
<path class="fk" d="M60,810 L230,760 L280,960 L160,1010 L100,990 Z"/>
<path class="l" d="M100,800 L150,1000 M60,810 L40,900 L60,1000 L100,990 M120,870 C160,850 220,850 260,880 M150,1000 L270,940"/>
<path class="t" d="M80,830 L120,990 M180,780 L220,985"/>
<path class="fk" d="M0,900 L60,880 L120,1020 L160,1010 L170,1040 L150,1060 L0,1120 Z"/>
<path class="k" d="M0,960 L100,925 M0,1000 L120,960 M0,1040 L140,990 M0,1080 L150,1030"/>
<path class="b" d="M20,1075 l60,-22 l6,16 l-60,22 Z M30,1110 l50,-18 l4,12 l-50,18 Z"/>
<path class="l" d="M150,1060 L155,1030 L170,1040 M40,1140 L100,1118 L90,1090"/>
</g>
<!-- 25_engineA_detail.svg -->
<g class="eng" transform="translate(455,630) scale(.2)">
<!-- valve cover: curved fan ribs (front-left) -->
<path class="l" d="M310,700 C400,660 520,650 610,690 C650,710 680,745 690,770 M340,715 C420,685 520,675 600,710 C636,728 660,755 668,780 M380,735 C440,712 520,705 585,732 C615,747 636,768 644,790 M420,755 C470,738 520,735 570,752 C596,762 612,780 618,798 M300,690 C380,640 520,620 630,665 C680,688 715,728 728,752"/>
<path class="t" d="M360,690 L380,740 M420,672 L440,730 M480,662 L496,728 M540,664 L548,735 M596,680 L596,750 M640,704 L628,770"/>
<!-- recess channel line along cover -->
<path class="l" d="M560,560 L640,520 M450,610 L600,520 L860,388 M700,640 L800,590 M905,480 L1100,380 M1140,330 L1330,262 M640,560 L700,640"/>
<path class="l" d="M440,800 C445,790 460,790 462,800 M470,585 L480,600 L520,585"/>
<!-- gasket band below cover -->
<path class="k" d="M370,760 L480,812 L560,828 L630,818 L712,778 M385,778 L480,828 L560,844 L640,832 L722,792"/>
<path class="l" d="M400,772 L398,790 M425,784 L423,802 M450,796 L448,814 M476,808 L474,826 M505,816 L503,834 M535,822 L533,840 M565,826 L564,844 M595,822 L595,840 M625,816 L626,834 M655,802 L658,820 M682,790 L686,806"/>
<!-- row of small components under gasket -->
<path class="k" d="M330,830 L360,850 L358,880 L390,895 M400,850 L440,870 L470,860 L500,880 M520,850 L560,860 M470,880 L470,910 L500,920"/>
<path class="b" d="M412,868 l22,10 l-3,14 l-22,-10 Z M455,842 l26,8 l-3,12 l-26,-8 Z M540,838 l22,6 l-2,12 l-22,-6 Z M585,840 l24,2 l0,12 l-24,-2 Z M318,860 l18,10 l-4,14 l-18,-10 Z"/>
<circle class="l" cx="378" cy="872" r="7"/><circle class="l" cx="505" cy="862" r="6"/><circle class="l" cx="608" cy="862" r="8"/>
<!-- tube bracket plate -->
<path class="fk" d="M780,792 L828,780 L895,950 L845,980 Z"/>
<circle class="k" cx="822" cy="808" r="12"/><circle class="l" cx="822" cy="808" r="5"/><circle class="k" cx="872" cy="945" r="12"/><circle class="l" cx="872" cy="945" r="5"/>
<path class="l" d="M800,800 L860,965 M812,796 L876,958"/>
<path class="k" d="M760,855 C768,900 780,935 805,965 M776,850 C784,895 796,928 820,955"/>
<!-- manifold contour arcs -->
<path class="l" d="M900,770 C960,750 1040,760 1085,800 M895,800 C960,785 1030,800 1070,840 M900,835 C950,825 1010,845 1050,880 M905,870 C950,865 1000,888 1030,920 M915,905 C950,905 985,925 1010,950 M930,940 C955,942 975,955 990,975 M880,990 C930,960 1000,960 1060,990"/>
<path class="l" d="M960,760 C990,800 1000,860 980,930 M1020,770 C1050,810 1055,870 1030,940 M900,780 C930,830 935,900 910,970"/>
<path class="k" d="M1060,830 C1040,850 1045,900 1065,950 M1075,840 C1058,860 1062,905 1080,948"/>
<!-- casing arcs around flywheel -->
<path class="k" d="M868,1010 C920,985 1010,985 1080,1020 C1130,1050 1165,1110 1165,1180 M855,1045 C825,1110 825,1200 865,1295 C885,1340 930,1380 990,1395"/>
<path class="l" d="M880,1030 C930,1005 1005,1005 1070,1038 C1115,1066 1148,1120 1148,1185 M872,1060 C845,1120 845,1200 880,1285 C900,1328 940,1362 995,1378 M1148,1185 C1150,1250 1125,1310 1085,1350"/>
<path class="l" d="M790,1010 L800,1090 M800,1180 L850,1300 L905,1400 L960,1440 M770,1200 L830,1330 L900,1420 M760,1010 L770,1100 M810,1000 L860,1000"/>
<ellipse class="k" cx="794" cy="1120" rx="18" ry="22"/><ellipse class="l" cx="794" cy="1120" rx="8" ry="10"/>
<!-- wire connectors near flywheel -->
<path class="k" d="M915,1290 C900,1270 880,1275 885,1300 L895,1340 C930,1390 1010,1420 1090,1420 C1160,1418 1210,1380 1225,1330"/>
<path class="l" d="M960,1300 L1000,1320 M1040,1335 L1090,1345 M1120,1340 L1170,1320"/>
<!-- ribbed cylinder under cap -->
<path class="l" d="M590,1200 L612,1380 M605,1196 L628,1390 M635,1196 L658,1410 M680,1196 L706,1410 M722,1192 L748,1400 M745,1190 L765,1380"/>
<path class="l" d="M600,1240 C640,1260 720,1256 760,1236 M606,1330 C650,1350 730,1346 765,1326 M612,1390 C660,1410 740,1400 770,1385"/>
<!-- cap concentric rings -->
<path class="l" d="M543,1112 C560,1150 730,1150 748,1112 M546,1132 C575,1172 715,1172 746,1132 M550,1152 C585,1192 705,1192 743,1152"/>
<!-- bits between cover and ECU/rail -->
<path class="l" d="M900,700 L1085,700 M930,720 L1000,760 M1000,705 L1040,740 L1085,740 M860,720 L900,760"/>
<path class="k" d="M1100,800 L1080,760 L1100,740 M1170,850 L1200,830 L1300,880"/>
<path class="l" d="M1200,960 L1300,1010 L1300,1060 M1240,985 L1240,1040 M1300,1100 C1330,1090 1345,1105 1345,1120"/>
<path class="l" d="M1320,1180 C1300,1230 1290,1290 1300,1340 M1340,1200 C1322,1250 1312,1300 1320,1350 M1380,1210 C1360,1260 1350,1320 1360,1380 M1420,1210 C1402,1265 1395,1330 1402,1400 M1450,1200 C1436,1260 1430,1340 1440,1420"/>
<path class="l" d="M1290,1330 C1340,1320 1420,1300 1480,1270 M1300,1400 C1360,1390 1430,1370 1480,1345 M1240,1420 C1300,1440 1400,1440 1480,1410"/>
<!-- rear plate / left bottom extra -->
<path class="l" d="M30,1290 L300,1120 M45,1300 L310,1135 M100,1330 C110,1310 150,1290 175,1296 L260,1262 M100,1330 C100,1352 122,1362 150,1354 L200,1338"/>
<path class="l" d="M190,1230 L230,1300 M230,1205 L268,1270 M270,1180 L300,1240 M160,1250 L190,1320"/>
<!-- dark gasket band -->
<path d="M380,775 L480,822 L555,838 L625,826 L695,790 L760,738" fill="none" stroke="#1a1a1a" stroke-width="3.2" stroke-linecap="round" stroke-linejoin="round"/>
<path d="M395,790 L480,832 L555,848 L630,836 L702,800" fill="none" stroke="#fff" stroke-width=".6"/>
<!-- dark hatched patch inside tube loop -->
<path class="b" d="M790,690 L870,668 L880,690 L850,740 L790,770 L775,740 Z"/>
<path d="M792,704 L872,680 M788,722 L866,700 M786,742 L856,722 M790,760 L846,742" fill="none" stroke="#fff" stroke-width=".7"/>
</g>
<!-- 25_engineB_detail.svg -->
<g class="eng" transform="translate(640,630) scale(.2)">
<!-- wires along plenum edge -->
<path class="k" d="M870,400 C960,410 1052,485 1102,605 C1132,685 1132,765 1108,830 M885,395 C975,405 1066,480 1116,600 C1146,685 1146,770 1120,838"/>
<path class="k" d="M905,470 C955,490 1008,560 1026,640 C1040,710 1030,780 1006,830 M918,462 C968,482 1022,552 1040,635 C1054,710 1044,785 1020,838"/>
<path class="l" d="M840,430 C900,450 960,520 985,600 C1000,660 995,730 975,790"/>
<!-- connectors on top right of plenum -->
<path class="fk" d="M830,395 L870,380 L900,400 L905,440 L870,460 L838,440 Z"/>
<path class="b" d="M842,405 l24,-10 l14,10 l-24,10 Z"/>
<path class="l" d="M870,460 L868,425 L900,408"/>
<path class="fk" d="M935,540 L975,525 L1000,550 L1002,590 L962,605 L938,580 Z"/>
<path class="l" d="M962,605 L960,568 L1000,552 M938,580 L940,552"/>
<path class="k" d="M960,600 C955,640 960,680 985,700 M975,600 C970,635 975,670 998,690"/>
<!-- contour arcs on plenum surface -->
<path class="l" d="M660,600 C740,600 830,640 890,700 M650,650 C740,655 830,700 880,760 M660,720 C740,725 820,770 860,820 M700,790 C760,800 820,830 850,870 M740,850 C790,860 830,880 850,910 M650,540 C720,535 800,560 860,610 M660,480 C730,480 800,505 850,545"/>
<path class="l" d="M760,470 C800,520 820,600 800,680 M820,480 C860,530 880,610 860,700 M700,480 C740,540 750,620 730,690 M890,640 C910,700 905,770 880,830 M940,700 C950,750 940,800 915,850"/>
<path class="t" d="M680,620 C760,625 840,665 890,720 M670,690 C750,695 830,740 870,795 M690,760 C760,770 830,805 860,850"/>
<!-- lobes detail -->
<path class="l" d="M650,345 C700,335 770,355 805,395 M645,395 C690,395 740,420 760,450 M700,330 C720,350 730,380 725,420"/>
<!-- sensor extra -->
<path class="l" d="M560,700 L545,740 L560,780 M600,660 L600,690 M650,665 L655,695 M700,745 L740,760 L745,790"/>
<path class="k" d="M720,800 L740,830 M650,815 L655,840 L700,870"/>
<!-- between ECU and plenum: hose clamp & tube -->
<path class="k" d="M572,342 C590,400 600,470 600,540 M588,338 C606,400 616,470 616,540"/>
<path class="l" d="M560,420 L630,400 M562,440 L632,420 M600,540 L560,560"/>
<path class="b" d="M590,470 l22,-6 l4,16 l-22,6 Z"/>
<!-- bracket region left-bottom of tile B -->
<path class="l" d="M200,900 L420,990 M260,960 L400,1020 M165,880 L160,940 L240,1000 L420,1080 M300,1000 L300,1040 M360,1030 L362,1065"/>
<path class="k" d="M130,960 C150,950 175,960 180,985 L200,1060 C230,1120 300,1150 380,1140"/>
<path class="fk" d="M170,940 L240,925 L290,950 L295,985 L225,1000 L175,975 Z"/>
<path class="l" d="M225,1000 L222,965 L170,940 M222,965 L290,950"/>
<path class="fk" d="M330,1040 L370,1030 L380,1090 L342,1100 Z"/>
<!-- runner zone: extra longitudinal contour -->
<path class="l" d="M480,1210 C600,1170 760,1100 900,1040 C980,1005 1060,975 1120,950 M470,1250 C600,1210 760,1140 900,1080 C960,1055 1020,1035 1070,1020"/>
<!-- small bits right-bottom -->
<path class="l" d="M1000,1080 L1030,1100 L1020,1130 M960,1230 L1000,1215 M900,1110 L905,1060"/>
<path class="b" d="M1152,806 l10,-3 l3,10 l-10,3 Z"/>
</g>
<!-- 26_enginetex.svg -->
<g><path d="M580.0,794.9l4.2,7.6M583.6,792.7l9.7,5.2M526.8,796.0l-0.1,4.5l0.0,2.3M582.9,800.3l3.1,1.5M544.2,798.4l9.6,-4.5M517.1,800.9l3.2,-0.1M609.5,817.9l3.3,0.1M520.9,803.5l10.2,-0.5M530.5,803.2l6.2,3.1M520.5,798.9l3.9,2.5M521.4,797.5l3.9,2.5M522.2,796.1l3.9,2.5M523.0,794.7l3.9,2.5M523.9,793.3l3.9,2.5M524.7,791.9l3.9,2.5M595.8,811.8l2.8,1.5l2.8,-1.4M596.8,812.8l-0.1,7.1M594.4,812.7l-0.1,7.1M521.9,804.6l2.0,2.7M523.3,803.9l2.0,2.7M524.8,803.3l2.0,2.7M526.2,802.6l2.0,2.7M527.7,801.9l2.0,2.7M547.6,799.1l8.6,-4.5M537.3,801.9l10.1,-5.7M538.7,804.3l10.1,-5.7M533.2,788.2l6.0,0.2M601.6,789.2l10.3,4.8M600.8,791.0l10.3,4.8M602.0,808.4l5.1,-2.4M523.1,804.0l4.0,-1.8M605.8,814.2l0.1,5.5M520.3,802.0l5.8,-3.0l3.1,-1.6M597.5,820.2l10.1,5.4M597.5,818.6l0.1,3.6M606.3,797.1l1.6,-3.0M581.6,802.2l8.5,-4.5M564.6,795.4l7.5,0.2M592.3,804.8l4.2,-1.9M601.6,798.6l4.6,-2.2M528.1,790.7l7.6,-0.3M590.0,816.3l2.9,-1.4M587.7,795.6l3.2,5.9M601.2,798.8l4.8,2.5M587.1,797.0l-0.0,3.6M516.8,797.6l4.1,2.3M550.1,793.7l-0.0,3.8M604.5,815.4l8.4,-4.1M603.4,813.7l0.2,8.3M600.6,813.8l0.2,8.3M522.4,788.5l5.8,-2.9M607.3,816.1l4.1,-7.9M603.9,789.5l8.3,4.5M590.3,802.6l0.2,6.0M587.6,802.7l0.2,6.0M515.7,795.5l11.6,5.3M514.5,798.1l11.6,5.3M598.6,785.6l-5.6,-1.2M598.6,787.8l-5.6,-1.2M598.6,790.0l-5.6,-1.2M586.4,804.3l10.2,5.8M519.9,796.6l10.2,-5.7M520.7,798.2l10.2,-5.7M539.5,794.3l3.1,4.3M541.2,793.5l3.1,4.3M542.8,792.8l3.1,4.3M544.5,792.0l3.1,4.3M598.4,792.1l-0.0,3.0M583.1,803.8l6.9,-3.8M584.2,805.8l6.9,-3.8M598.3,822.3l8.3,4.4M572.4,795.0l8.5,4.2M571.1,797.5l8.5,4.2M589.0,815.3l2.2,3.3M590.5,814.5l2.2,3.3M592.0,813.7l2.2,3.3M535.3,784.3l-0.5,12.0M533.3,784.2l-0.5,12.0M595.3,796.6l8.4,-4.8M584.0,796.6l7.8,3.7M528.6,785.3l7.7,3.5M527.7,787.2l7.7,3.5M605.6,804.1l3.6,1.0M606.7,802.3l3.6,1.0M607.7,800.5l3.6,1.0M608.8,798.7l3.6,1.0M517.3,795.3l6.0,-9.9M599.2,789.8l0.4,9.2M596.7,789.9l0.4,9.2M603.1,801.7l3.5,0.2l4.1,2.1M590.5,814.5l6.2,-0.3M580.5,799.4l4.6,7.5M578.1,800.8l4.6,7.5M590.2,789.6l2.3,4.2M528.4,804.4l5.9,-9.4M530.5,805.7l5.9,-9.4M523.7,800.2l6.0,0.2M561.9,794.0l4.0,2.3l4.3,-2.2M601.0,795.8l5.3,-3.0M521.6,805.7l4.5,0.2M605.9,785.5l3.2,3.3M607.6,784.5l3.2,3.3M609.3,783.5l3.2,3.3M594.1,792.4l4.5,-7.8M596.2,793.7l4.5,-7.8M605.8,815.9l6.3,-0.1M525.0,808.9l3.1,-5.5l3.6,-1.8M524.2,795.5l-0.2,7.4M521.6,795.4l-0.2,7.4M585.4,795.1l10.6,-5.6M586.6,797.5l10.6,-5.6M594.3,785.4l11.1,6.1M593.2,787.3l11.1,6.1M524.4,792.7l9.6,-5.2M591.9,796.5l3.2,1.7l0.0,4.0M524.4,803.7l3.3,-1.7l0.0,2.8M600.1,786.9l5.8,10.1M577.1,798.6l3.8,-7.4M578.9,799.6l3.8,-7.4M546.0,789.3l2.9,5.0M580.1,799.8l5.1,2.8l0.0,4.3M608.5,786.7l-4.3,1.9M608.5,788.4l-4.3,1.9M608.5,790.0l-4.3,1.9M608.6,791.7l-4.3,1.9M590.0,811.8l6.9,-3.6M585.1,807.7l5.6,2.8M529.0,796.3l3.3,-1.7M541.0,790.7l7.2,4.1M590.5,799.1l2.8,1.6M523.6,787.4l7.3,3.7M530.6,789.5l3.5,-1.9M567.1,795.7l11.9,-0.1M567.1,798.6l11.9,-0.1M534.9,785.2l10.5,5.5M599.7,807.5l-1.1,3.6M601.6,808.5l-1.1,3.6M603.5,809.5l-1.1,3.6M605.3,810.5l-1.1,3.6M604.5,797.3l4.4,-8.7M585.9,818.7l6.2,2.8M584.8,821.4l6.2,2.8M558.8,833.0l-1.3,5.6M560.9,833.0l-1.3,5.6M563.1,833.1l-1.3,5.6M584.5,832.2l0.9,4.2M585.9,831.4l0.9,4.2M587.2,830.7l0.9,4.2M588.5,830.0l0.9,4.2M589.9,829.2l0.9,4.2M591.2,828.5l0.9,4.2M560.5,838.2l7.3,-4.0M570.2,837.7l3.0,1.4M562.7,828.8l1.7,3.2M580.5,844.9l3.0,-1.4M592.3,830.6l8.8,4.7M584.6,831.5l4.1,-1.9M556.1,829.6l9.9,4.8M571.4,824.4l11.1,-5.8M572.7,826.8l11.1,-5.8M574.8,829.5l7.4,3.9M587.7,822.1l5.4,-2.7l0.0,2.2M582.4,827.2l-0.2,7.6M580.5,833.2l-0.0,4.2M575.3,843.1l11.5,-0.4M575.4,845.2l11.5,-0.4M579.1,841.5l0.2,5.0M573.8,832.5l-0.4,10.7M571.2,832.4l-0.4,10.7M584.1,822.0l3.2,1.6M580.0,832.7l4.7,2.7l0.0,2.4M577.5,833.8l10.7,5.0M585.3,829.9l11.4,5.5M584.3,832.1l11.4,5.5M576.9,835.9l-3.8,-0.2M576.9,837.4l-3.8,-0.2M576.9,839.0l-3.8,-0.2M576.9,840.6l-3.8,-0.2M576.9,842.2l-3.8,-0.2M577.0,843.8l-3.8,-0.2M594.1,834.8l11.3,0.1M577.8,816.8l0.6,11.6M592.2,818.6l-0.1,11.3M572.6,823.9l3.8,-2.2M579.5,827.8l4.8,-9.2M582.0,829.1l4.8,-9.2M580.8,843.7l9.4,-5.3M590.9,826.7l4.7,2.3M591.0,838.0l9.8,-4.4M592.1,840.4l9.8,-4.4M603.8,833.6l-0.1,6.7M566.3,830.8l7.6,-3.8M562.8,830.5l10.4,5.8M561.5,832.7l10.4,5.8M561.4,836.2l11.2,-6.2M562.4,837.9l11.2,-6.2M573.0,842.9l9.9,4.5M572.1,844.9l9.9,4.5M568.9,831.9l6.3,-3.0M562.3,833.9l3.5,-0.1l2.2,-1.1M601.7,825.2l-0.0,8.9M575.3,834.3l0.0,3.7M558.8,832.8l4.8,7.9M581.6,820.1l1.8,2.9M563.9,828.1l7.2,3.3M573.3,824.8l7.3,-3.8M592.2,842.1l5.3,-8.5M599.9,830.9l6.7,-3.1M572.1,820.7l5.9,9.6M569.7,822.1l5.9,9.6M583.0,820.5l5.3,3.0M571.6,822.9l9.6,0.1M596.2,834.6l3.9,-7.0M602.4,841.3l5.0,-2.6l2.3,1.2M594.6,820.8l4.6,7.8M576.1,837.4l3.3,-1.8M590.7,837.6l6.7,-0.3M566.9,823.9l9.4,-0.2M566.9,826.4l9.4,-0.2M578.6,829.8l3.3,5.5M602.7,832.7l2.7,4.7M600.3,834.1l2.7,4.7M574.1,827.3l4.9,8.1M596.6,828.4l8.9,-4.3M592.0,824.9l0.1,7.8M569.6,826.5l0.2,5.1l2.4,-1.2M559.7,841.0l7.7,-4.0M559.5,836.9l4.1,-7.5M576.1,826.9l11.7,0.3M590.7,834.9l4.9,9.0M597.8,829.2l0.2,7.0M595.6,829.3l0.2,7.0M556.0,837.6l3.4,-1.7M555.3,829.4l8.0,-3.9M556.1,831.1l8.0,-3.9M559.0,833.7l6.0,-9.2M560.6,834.8l6.0,-9.2M599.5,822.7l5.2,-2.7l4.1,2.1M567.2,831.9l6.0,-3.1M580.8,828.2l6.9,-0.2M617.3,849.0l10.5,-5.4M618.1,850.7l10.5,-5.4M620.8,849.3l4.6,-7.5M610.8,868.6l8.4,-4.3M626.2,833.5l0.1,10.9M619.8,922.9l-0.8,3.0M621.2,923.7l-0.8,3.0M622.7,924.6l-0.8,3.0M614.0,862.3l8.6,4.9M623.4,906.1l3.2,-5.8M612.2,914.3l0.1,3.0M614.2,913.4l0.1,3.0M616.2,912.6l0.1,3.0M618.2,911.7l0.1,3.0M620.1,910.8l0.1,3.0M620.0,898.3l3.5,0.2l2.3,-1.2M612.6,871.0l9.0,-0.3M607.5,849.9l6.8,-3.3M612.5,839.6l4.1,7.0M610.4,840.9l4.1,7.0M619.0,835.0l4.6,7.5M617.1,836.2l4.6,7.5M612.1,890.0l8.3,-3.8M605.6,834.3l0.1,4.3M625.3,842.1l2.3,3.9M610.6,907.0l9.5,4.7M609.7,909.0l9.5,4.7M613.6,911.6l10.8,5.8M612.4,913.8l10.8,5.8M615.3,900.6l-3.7,1.6M616.1,902.0l-3.7,1.6M616.9,903.5l-3.7,1.6M617.7,904.9l-3.7,1.6M616.5,856.1l7.2,-3.4M617.6,858.5l7.2,-3.4M612.9,832.1l5.5,2.5M615.6,910.4l5.1,10.0M617.9,875.8l3.6,2.0M628.1,842.7l-4.7,-0.8M628.0,844.4l-4.7,-0.8M628.0,846.1l-4.7,-0.8M621.1,910.3l-0.2,11.6M617.4,867.0l3.6,-6.7M617.3,846.2l2.6,4.6M622.7,925.5l4.7,-2.6M608.6,885.7l4.4,-6.9M610.3,886.7l4.4,-6.9M625.5,907.7l-2.2,3.7M626.8,908.4l-2.2,3.7M628.1,909.1l-2.2,3.7M629.5,909.9l-2.2,3.7M630.8,910.6l-2.2,3.7M632.1,911.4l-2.2,3.7M613.9,853.7l-0.1,5.2M611.3,853.7l-0.1,5.2M616.7,844.1l-0.1,6.9M613.1,864.8l-0.1,6.1M610.6,899.0l3.0,-4.8M610.1,884.3l4.0,-7.5M619.2,925.2l4.4,-2.3M620.5,884.8l3.0,1.6l3.1,1.6M606.3,853.5l4.4,7.7M618.0,847.1l3.1,-5.8M628.1,904.7l6.1,-3.4l3.8,1.9M610.6,904.3l8.8,0.4M623.9,899.6l6.4,3.3M622.6,902.0l6.4,3.3M608.6,890.2l4.9,-2.4M611.0,897.6l9.6,-5.4M611.8,899.6l9.5,5.2M610.4,902.1l9.5,5.2M633.5,908.2l0.2,4.7M608.5,834.5l-3.9,3.6M609.4,836.1l-3.9,3.6M610.2,837.7l-3.9,3.6M611.0,839.2l-3.9,3.6M611.8,840.8l-3.9,3.6M612.6,842.4l-3.9,3.6M612.4,883.2l6.9,-3.2M613.2,884.9l6.9,-3.2M612.0,871.1l10.0,5.1M615.3,861.6l9.8,5.1M614.2,863.9l9.8,5.1M609.0,893.4l4.5,2.6M608.0,895.2l4.5,2.6M612.0,895.7l5.7,-9.7M612.0,841.1l2.8,-4.3M622.6,877.0l2.6,4.8l2.5,1.3M609.1,856.9l5.6,2.6M607.5,913.7l10.8,-5.1M615.9,914.7l-4.5,-1.1M615.9,916.2l-4.5,-1.1M616.0,917.8l-4.5,-1.1M616.0,919.3l-4.5,-1.1M616.1,920.9l-4.5,-1.1M627.9,901.2l0.4,12.5M625.1,901.3l0.4,12.5M605.9,830.5l5.9,3.3M629.8,906.2l3.9,2.2l2.1,-1.0M608.0,830.4l-0.3,7.2M629.7,900.5l-0.3,5.6l3.7,1.9M616.6,846.0l9.1,4.1M615.7,848.0l9.1,4.1M622.5,883.0l-0.0,6.1M620.4,883.0l-0.0,6.1M535.9,919.7l7.9,-3.7M491.4,897.1l6.3,-2.9l4.2,2.2M542.0,909.8l11.0,-5.3M542.9,911.8l11.0,-5.3M500.5,880.5l3.0,-0.0M516.9,865.2l-0.0,3.7M505.6,875.5l8.4,3.8M535.5,896.8l5.3,-2.6M536.4,898.5l5.3,-2.6M554.3,893.6l-4.2,-0.9M554.2,895.6l-4.2,-0.9M554.1,897.5l-4.2,-0.9M554.0,899.4l-4.2,-0.9M553.9,901.4l-4.2,-0.9M553.9,903.3l-4.2,-0.9M507.9,872.4l4.9,9.4M508.6,884.0l-4.6,1.0M509.4,885.5l-4.6,1.0M510.3,887.1l-4.6,1.0M511.2,888.6l-4.6,1.0M511.3,879.0l4.9,7.6M508.8,880.6l4.9,7.6M533.8,881.5l4.4,2.0M501.9,875.0l4.8,2.2M548.6,875.8l4.6,2.2M546.5,889.2l2.8,1.6M548.9,890.2l6.4,3.4M538.0,868.5l-0.0,4.4M547.5,912.5l1.7,-3.3M553.4,912.1l3.1,-1.7M529.2,903.0l3.1,5.2M506.7,891.0l10.9,-5.1M518.4,867.8l8.4,0.2M543.4,922.4l8.1,-3.8M541.4,903.7l3.6,-6.8M509.8,873.9l5.3,-2.7M511.0,876.4l5.3,-2.7M536.4,900.5l11.6,-5.3M537.2,902.3l11.6,-5.3M546.4,899.4l0.2,6.5M532.3,884.8l2.4,4.1M500.3,876.3l-0.2,5.7M497.8,876.2l-0.2,5.7M531.0,869.0l2.5,4.1M539.9,913.5l9.0,4.7M541.8,875.2l-0.5,11.3M551.9,884.1l4.4,2.4M514.3,868.3l4.9,-2.3M500.5,900.7l4.8,-8.7M544.0,906.8l1.5,3.0l0.0,2.3M534.1,912.2l8.4,-3.9M553.8,909.9l5.0,2.6M555.5,885.2l4.1,1.6M556.6,883.4l4.1,1.6M557.6,881.6l4.1,1.6M502.5,877.0l7.8,0.3M522.7,871.6l6.2,0.2l0.0,2.1M491.0,894.7l7.8,-4.3M521.6,869.3l2.2,3.9M549.3,896.3l5.6,-3.1M550.4,898.3l5.6,-3.1M550.5,890.4l0.3,8.7M517.2,888.6l11.2,-6.2M518.2,890.5l11.2,-6.2M539.0,899.6l3.9,1.7M554.9,886.1l-0.0,11.5M490.6,887.4l7.6,4.0M489.2,890.0l7.6,4.0M524.2,868.8l3.6,-6.0M526.0,869.9l3.6,-6.0M524.9,876.8l3.3,1.9M543.4,889.6l10.8,0.3M543.4,892.6l10.8,0.3M545.3,885.5l6.6,-3.3M546.3,887.5l6.6,-3.3M501.5,884.6l10.0,5.3M518.2,875.8l8.8,-4.2M495.9,902.6l6.2,-10.2M497.8,903.7l6.2,-10.2M537.8,889.0l-0.1,9.8M494.4,877.4l5.6,3.0M530.9,890.8l-0.5,12.1M528.1,890.7l-0.5,12.1M496.9,887.2l9.7,4.9M495.9,889.3l9.7,4.9M515.4,892.7l3.5,2.0l1.9,-1.0M551.2,901.5l4.5,7.6M494.5,885.5l4.5,2.3M546.8,895.2l-2.0,2.6M548.5,896.2l-2.0,2.6M550.3,897.2l-2.0,2.6M552.0,898.2l-2.0,2.6M553.8,899.2l-2.0,2.6M517.5,872.3l4.0,1.9M547.1,904.3l0.1,3.9l4.1,2.1M550.1,891.8l7.6,-4.2M551.2,893.8l7.6,-4.2M554.8,910.2l5.7,-10.3M550.7,893.1l3.2,1.8l2.8,1.4M527.7,868.0l6.1,-3.2M536.1,916.7l2.3,-3.9M527.0,891.0l6.2,3.4M521.9,870.6l9.2,-4.2M522.9,872.7l9.2,-4.2M530.7,896.5l7.5,4.0M490.7,879.0l1.6,2.6l0.0,2.7M531.1,896.1l-2.0,2.7M532.9,897.0l-2.0,2.7M534.7,898.0l-2.0,2.7M536.5,899.0l-2.0,2.7M528.3,900.8l8.1,4.1M489.4,883.7l6.7,3.5M555.1,895.7l5.7,10.3M527.3,903.3l5.5,-0.0M499.8,897.4l0.5,9.7M505.7,883.5l2.0,2.5M507.5,882.6l2.0,2.5M509.2,881.7l2.0,2.5M540.3,912.4l0.1,4.9M521.1,866.6l6.6,3.8M520.1,868.4l6.6,3.8M543.5,919.8l12.9,0.3M543.4,922.8l12.9,0.3M542.4,871.5l11.1,5.2M541.5,873.3l11.1,5.2M496.7,902.8l5.6,2.9M495.5,905.0l5.6,2.9M528.3,899.7l10.8,-5.6M529.6,902.2l10.8,-5.6M554.0,912.0l-0.0,8.2M516.7,883.8l0.0,5.9M539.1,884.2l-0.4,11.1M520.7,882.3l3.4,-1.8l3.2,1.6M545.6,918.8l9.7,4.6M540.4,875.0l5.7,-3.2M525.2,863.9l-0.0,8.5M522.3,863.9l-0.0,8.5M529.8,878.2l6.7,0.2M529.6,881.1l6.7,0.2M548.3,877.3l5.0,0.1M533.7,898.9l8.8,-0.1M533.8,901.7l8.8,-0.1M526.9,862.7l0.1,11.3M519.3,879.3l5.4,-0.1M498.2,892.6l-0.0,13.0M495.8,892.6l-0.0,13.0M512.1,881.1l5.9,-3.2M513.1,883.0l5.9,-3.2M541.6,871.0l-3.1,-0.1M541.6,873.0l-3.1,-0.1M541.6,874.9l-3.1,-0.1M541.6,876.9l-3.1,-0.1M541.6,878.8l-3.1,-0.1M541.6,880.7l-3.1,-0.1M542.8,922.4l5.1,-2.5M544.0,924.8l5.1,-2.5M491.2,903.2l9.4,4.9M489.9,905.7l9.4,4.9M541.1,925.1l4.6,2.3M540.0,927.4l4.6,2.3M529.4,864.7l5.7,2.9M528.3,867.0l5.7,2.9M549.4,917.2l2.5,2.6M550.9,916.4l2.5,2.6M552.5,915.5l2.5,2.6M554.1,914.7l2.5,2.6M555.7,913.9l2.5,2.6M557.3,913.1l2.5,2.6M550.1,883.9l7.4,3.9M501.4,878.4l-0.1,7.5M528.6,872.5l0.1,3.8M534.7,883.7l2.8,1.4M538.0,905.6l-0.0,3.6M530.7,883.5l8.1,3.9M528.6,870.4l-1.9,3.9M530.4,871.4l-1.9,3.9M532.1,872.4l-1.9,3.9M546.2,883.4l-5.2,-1.2M546.1,885.1l-5.2,-1.2M546.0,886.8l-5.2,-1.2M546.0,888.5l-5.2,-1.2M545.9,890.1l-5.2,-1.2M545.8,891.8l-5.2,-1.2M500.0,884.8l-2.0,5.6M501.8,884.8l-2.0,5.6M503.6,884.9l-2.0,5.6M505.4,884.9l-2.0,5.6M507.2,885.0l-2.0,5.6M498.4,884.0l2.9,1.6M533.0,864.0l6.3,3.1M541.5,902.3l6.4,3.6M526.3,885.2l1.7,3.1M550.6,916.3l8.5,-4.8M521.3,879.2l-0.2,9.0M552.2,920.1l4.5,-8.4M554.2,921.1l4.5,-8.4M527.7,878.2l3.9,1.8l4.2,-2.1M556.5,915.5l5.7,-3.1M542.2,892.8l2.7,-1.3M543.9,891.7l3.8,2.0M535.3,872.9l4.3,-2.2M544.2,904.5l4.9,-7.8M551.0,887.2l3.0,-1.4M538.6,903.0l6.3,-10.6M540.6,904.2l6.3,-10.6M507.9,869.9l-0.3,8.6M492.5,901.0l4.1,-6.6M494.1,902.0l4.1,-6.6M520.4,879.0l2.7,5.0M511.7,881.6l3.9,6.8M548.5,890.0l7.2,4.1M547.4,892.0l7.2,4.1M550.3,904.6l5.7,-3.1M527.7,890.4l10.0,5.3M526.8,892.0l10.0,5.3M531.2,903.4l7.8,-3.7M532.5,906.0l7.8,-3.7M514.5,887.8l9.9,5.7M491.0,903.4l5.5,3.0l3.8,-1.9M544.8,916.7l10.8,5.1M544.0,918.5l10.8,5.1M526.9,866.7l5.3,-2.6M528.2,869.3l5.3,-2.6M535.2,915.2l3.6,-7.0M517.8,873.4l4.4,-2.3l3.2,1.6M497.6,896.4l0.3,11.2M495.4,896.4l0.3,11.2M515.0,872.5l9.9,4.7M546.3,896.4l-0.3,8.7M544.0,896.3l-0.3,8.7M537.4,872.0l1.9,-3.3M532.9,915.3l5.2,10.1M554.0,921.2l0.1,3.1M542.8,887.1l0.1,6.0M540.6,887.2l0.1,6.0M530.1,901.6l3.6,1.9M532.1,878.9l-0.1,4.4M524.2,886.2l10.7,-5.1M544.0,919.8l6.3,3.0M502.9,875.4l-0.1,3.8M525.2,942.6l7.5,3.6M524.2,944.7l7.5,3.6M542.9,951.3l0.2,7.2M506.1,955.4l3.8,-1.8M518.0,946.7l4.5,-2.4l2.8,1.4M511.8,961.0l4.6,2.3M510.9,962.8l4.6,2.3M513.8,947.6l-3.2,3.0M515.4,948.5l-3.2,3.0M517.0,949.4l-3.2,3.0M518.5,950.3l-3.2,3.0M520.1,951.1l-3.2,3.0M521.7,952.0l-3.2,3.0M537.9,961.1l-0.1,4.6l3.8,1.9M515.3,960.8l10.4,-5.3M535.2,951.6l4.3,6.6M533.4,952.8l4.3,6.6M506.1,942.4l7.3,3.6M509.1,944.9l-2.3,2.8M510.2,946.7l-2.3,2.8M511.2,948.4l-2.3,2.8M512.2,950.2l-2.3,2.8M513.3,951.9l-2.3,2.8M514.3,953.7l-2.3,2.8M507.3,940.5l4.4,-2.1M544.9,961.7l-0.0,4.2M529.6,953.0l3.1,1.4M517.6,946.8l5.0,2.3M510.0,970.1l4.3,-6.7M527.3,955.0l8.4,-4.4M526.8,952.3l5.8,10.4M524.6,953.6l5.8,10.4M527.7,962.8l6.4,0.2M536.0,968.0l4.7,-8.0M537.8,969.0l4.7,-8.0M524.6,947.3l7.5,3.7M523.8,948.9l7.5,3.7M514.5,946.1l10.9,0.3M514.5,947.9l10.9,0.3M514.5,952.8l3.7,-1.8M613.1,931.2l9.5,4.8M611.7,933.8l9.5,4.8M632.3,913.8l7.8,3.6M604.6,915.1l2.0,3.8M605.2,911.0l-1.7,5.1M607.0,911.9l-1.7,5.1M608.8,912.7l-1.7,5.1M610.6,913.5l-1.7,5.1M630.3,916.3l5.0,9.3M630.4,926.7l4.7,-2.4M605.1,920.0l0.1,5.7M621.1,930.6l10.4,-5.7M630.8,914.3l1.7,2.9M614.8,910.5l7.8,3.7M601.6,925.5l7.3,-0.0M604.7,924.3l9.5,-5.3M606.0,926.7l9.5,-5.3M629.6,921.3l2.0,-3.0M591.6,911.3l10.4,4.9M601.3,922.5l9.6,4.9M621.5,925.8l3.7,-2.1l3.1,1.6M617.3,926.9l3.4,-1.6M610.7,915.1l2.2,3.6l3.7,-1.9M611.8,913.3l2.4,4.7M633.7,914.3l6.3,3.4M612.3,932.5l-0.4,5.4M613.9,932.5l-0.4,5.4M615.4,932.4l-0.4,5.4M617.0,932.4l-0.4,5.4M618.5,932.3l-0.4,5.4M620.1,932.2l-0.4,5.4M613.1,926.9l9.8,4.9M612.0,929.0l9.8,4.9M598.4,910.2l0.0,5.4M595.6,910.3l0.0,5.4M618.1,937.8l5.4,-0.2M626.1,918.6l4.1,-0.2M606.0,915.8l2.8,-1.6M600.3,916.0l6.0,0.1M607.4,931.8l4.1,-7.8M615.2,927.1l8.0,-4.4M629.3,921.9l1.3,3.0M630.7,921.3l1.3,3.0M632.1,920.6l1.3,3.0M602.3,926.9l4.7,2.2M616.4,937.1l4.6,2.1l2.2,1.1M631.3,927.1l7.2,-3.3M595.9,918.3l3.4,-5.4l0.0,2.5M623.3,929.7l3.6,6.9M620.8,931.0l3.6,6.9M606.5,914.7l5.8,-2.6M607.5,917.0l5.8,-2.6M613.0,929.1l-0.4,8.0M596.7,911.5l-0.0,8.4M625.3,913.9l-4.0,1.1M625.3,915.8l-4.0,1.1M625.2,917.8l-4.0,1.1M601.4,911.1l8.5,4.3M621.5,916.0l2.2,5.5M623.1,915.2l2.2,5.5M624.8,914.4l2.2,5.5M626.5,913.6l2.2,5.5M603.3,917.4l0.0,4.7M622.8,921.3l4.1,-1.9M627.7,918.9l0.2,4.6M619.6,924.1l-0.0,11.5M621.3,929.9l2.7,-5.1M602.9,974.3l6.1,0.0M602.9,976.4l6.1,0.0M636.5,991.9l5.7,0.0M612.2,961.9l-0.1,3.6M613.7,961.8l-0.1,3.6M615.2,961.8l-0.1,3.6M616.7,961.7l-0.1,3.6M618.2,961.7l-0.1,3.6M619.7,961.6l-0.1,3.6M647.4,1009.6l3.2,-1.8M634.4,985.5l5.8,1.3M635.2,984.1l5.8,1.3M636.0,982.8l5.8,1.3M636.7,981.5l5.8,1.3M637.5,980.1l5.8,1.3M592.6,996.4l0.2,8.9M635.9,1010.0l9.0,-4.3M637.0,1012.5l9.0,-4.3M590.6,974.6l4.7,-2.3M603.7,981.5l10.8,5.1M607.2,962.3l0.9,5.5M608.8,962.3l0.9,5.5M610.4,962.2l0.9,5.5M612.0,962.2l0.9,5.5M613.6,962.2l0.9,5.5M616.4,970.6l3.6,1.7M602.0,1006.0l10.0,4.7M629.6,976.9l8.3,4.7M632.2,1008.2l3.7,4.5M634.1,1007.2l3.7,4.5M635.9,1006.3l3.7,4.5M615.1,1010.0l2.9,-5.7M616.7,1010.9l2.9,-5.7M641.2,967.6l-0.0,3.3M592.8,1011.1l4.7,2.5l2.3,-1.2M630.4,1017.9l6.3,-3.4M625.5,990.1l-2.7,3.2M627.3,991.0l-2.7,3.2M629.0,991.9l-2.7,3.2M605.9,1011.4l-1.3,5.5M607.5,1012.1l-1.3,5.5M609.2,1012.8l-1.3,5.5M610.8,1013.6l-1.3,5.5M612.5,1014.3l-1.3,5.5M630.1,976.7l6.1,-3.4M604.0,992.2l10.6,0.0M615.1,968.5l6.5,-3.3M616.1,970.4l6.5,-3.3M623.0,958.8l0.1,6.0M604.1,1016.4l0.1,3.8M601.5,984.6l-0.2,4.1M597.3,997.9l10.8,-5.0M598.5,1000.4l10.8,-5.0M594.0,966.1l6.7,-0.3M593.7,983.5l10.4,6.0M618.4,980.6l8.4,4.5M602.5,1018.9l0.2,10.7M632.4,974.4l10.9,-5.9M633.3,976.0l10.9,-5.9M612.1,968.3l4.2,-2.4l1.8,0.9M606.6,982.6l8.2,-4.3M594.1,980.2l-0.5,3.9M595.9,981.2l-0.5,3.9M597.8,982.1l-0.5,3.9M599.6,983.0l-0.5,3.9M601.5,984.0l-0.5,3.9M603.3,984.9l-0.5,3.9M601.0,990.2l5.6,2.7M651.0,1013.5l5.6,-2.7M602.0,1011.7l2.0,-3.4M618.3,1012.3l4.5,-2.4M594.2,1006.6l2.7,-1.4M632.6,979.0l4.4,2.5M609.9,958.3l-1.5,5.6M611.9,958.3l-1.5,5.6M613.9,958.4l-1.5,5.6M615.9,958.4l-1.5,5.6M605.3,995.3l-4.7,1.5M605.4,996.9l-4.7,1.5M605.4,998.5l-4.7,1.5M605.4,1000.1l-4.7,1.5M598.6,980.5l4.1,-1.9M633.1,1002.8l2.5,2.7M635.0,1001.8l2.5,2.7M636.9,1000.8l2.5,2.7M638.7,999.8l2.5,2.7M640.6,998.8l2.5,2.7M642.5,997.7l2.5,2.7M622.2,1023.7l5.1,-2.8M616.8,988.4l-1.0,5.1M618.7,988.3l-1.0,5.1M620.7,988.3l-1.0,5.1M622.7,988.2l-1.0,5.1M621.7,1010.7l11.3,0.5M621.6,1012.6l11.3,0.5M610.7,981.4l9.0,-4.3M646.5,1009.5l5.4,2.5l2.7,-1.4M638.9,992.5l-4.9,0.8M639.7,993.9l-4.9,0.8M640.5,995.2l-4.9,0.8M641.2,996.6l-4.9,0.8M642.0,998.0l-4.9,0.8M648.2,1015.7l5.9,3.2l3.7,-1.9M629.5,996.1l2.3,4.3M599.7,999.6l10.4,-4.7M600.7,1001.8l10.4,-4.7M592.1,990.8l-0.1,7.5M612.4,971.5l7.3,3.8M597.3,971.2l12.4,0.0M597.3,973.7l12.4,0.0M632.6,992.9l6.0,-11.3M634.8,994.0l6.0,-11.3M626.7,959.3l0.1,5.5M591.0,980.7l11.1,0.3M591.0,983.1l11.1,0.3M635.1,982.3l7.0,0.0M635.1,984.1l7.0,0.0M636.1,981.9l8.6,3.9M606.6,957.7l6.7,3.5M610.9,1016.5l8.7,4.8M631.4,970.0l5.1,-2.4M590.8,1016.1l8.0,0.3M623.4,992.0l8.5,-4.3M629.4,1025.1l2.9,-4.9M631.4,1026.2l2.9,-4.9M612.1,989.9l10.5,-4.8M600.4,1017.6l4.0,2.0M626.6,1022.5l2.8,-1.5M594.1,1004.8l8.6,-4.7M624.0,999.8l7.0,3.5M613.4,1024.4l4.4,2.1l2.5,1.3M594.6,998.0l2.8,5.3M597.6,1026.7l-1.9,5.4M599.4,1026.7l-1.9,5.4M601.2,1026.8l-1.9,5.4M602.9,1026.8l-1.9,5.4M639.7,997.6l-0.2,6.6M596.6,994.8l6.5,-3.6M598.6,985.2l9.1,4.7M597.6,987.1l9.1,4.7M607.7,1000.5l5.8,-3.2M608.9,1002.7l5.8,-3.2M606.3,1022.5l9.2,-4.9M638.4,980.3l6.0,0.1M593.2,1012.5l6.3,3.6M624.6,1000.4l-0.2,10.2M609.1,1021.3l9.3,-4.4M624.6,995.1l9.1,-4.5M625.6,997.0l9.1,-4.5M591.9,1017.1l10.4,5.3M590.9,1019.1l10.4,5.3M623.4,962.6l5.5,3.0M627.0,1003.8l0.1,11.2M604.0,985.9l-4.8,1.1M604.8,987.2l-4.8,1.1M605.6,988.6l-4.8,1.1M606.5,989.9l-4.8,1.1M629.0,1011.5l-0.2,9.4M597.6,1004.2l10.2,-4.7M590.0,981.0l8.1,-3.8M606.3,965.8l-0.3,5.6M627.6,1016.1l0.2,4.0M639.3,1007.0l4.3,-7.1M635.9,989.5l8.2,-4.7M606.8,1010.6l-5.6,1.5M607.9,1012.3l-5.6,1.5M608.9,1014.1l-5.6,1.5M610.0,1015.8l-5.6,1.5M611.0,1017.5l-5.6,1.5M612.1,1019.2l-5.6,1.5M602.2,976.8l0.7,12.7M599.8,977.0l0.7,12.7M621.1,1019.1l5.3,-2.4l2.6,1.3M604.1,968.4l-0.0,5.3M613.6,984.1l-0.1,3.1M615.8,984.1l-0.1,3.1M617.9,984.1l-0.1,3.1M612.1,958.1l8.5,0.1M626.6,1018.4l-0.1,5.7M624.5,1018.3l-0.1,5.7M634.7,1014.0l3.0,5.5M632.9,1015.0l3.0,5.5M612.3,1010.8l5.6,-0.3M612.4,1013.2l5.6,-0.3M639.3,999.4l3.6,-6.0M603.7,963.7l-3.8,0.5M603.7,965.3l-3.8,0.5M603.6,967.0l-3.8,0.5M625.4,1004.4l2.8,1.4M623.6,977.3l3.6,5.8M602.0,1000.5l-1.3,3.1M603.8,1000.5l-1.3,3.1M605.6,1000.6l-1.3,3.1M607.3,1000.6l-1.3,3.1M609.1,1000.6l-1.3,3.1M610.9,1000.7l-1.3,3.1M619.4,969.9l0.5,9.9M599.0,1016.7l3.4,-1.8M614.4,963.2l5.0,2.8M596.6,966.1l6.5,-3.3M623.7,965.3l7.8,3.8M597.8,1004.2l3.1,-1.6M604.5,980.5l0.2,4.0M609.8,1010.0l3.0,-1.5l3.7,1.9M638.0,992.8l5.9,2.7M610.4,970.7l2.7,3.8M611.9,970.0l2.7,3.8M613.4,969.2l2.7,3.8M615.0,968.4l2.7,3.8M592.4,971.7l4.5,2.5M618.2,998.4l5.4,3.1M616.9,985.6l4.5,-2.5M617.9,987.4l4.5,-2.5M639.1,1009.1l5.3,2.9M640.5,1000.3l0.2,7.2M598.3,1004.0l9.5,-4.9M599.7,1006.6l9.5,-4.9M631.9,976.5l3.9,2.2M616.6,979.4l-0.1,10.0M633.0,962.6l8.5,4.4M608.4,1000.9l4.5,2.1M599.4,991.1l-0.3,9.3M606.6,1015.5l8.6,-5.0M601.2,999.1l-0.3,8.8M598.6,999.0l-0.3,8.8M594.4,988.3l-0.8,4.2M596.0,989.2l-0.8,4.2M597.6,990.0l-0.8,4.2M599.2,990.9l-0.8,4.2M591.1,978.1l0.8,3.6M592.5,977.4l0.8,3.6M593.9,976.8l0.8,3.6M595.2,976.1l0.8,3.6M596.6,975.5l0.8,3.6M594.9,1008.5l7.8,0.2M624.1,981.7l8.3,0.4M620.9,979.4l2.8,2.0M621.7,978.1l2.8,2.0M622.4,976.7l2.8,2.0M595.6,978.4l7.1,3.9M601.2,1005.4l0.3,9.5M635.7,990.9l6.1,-9.9M639.6,1006.7l10.5,5.2M638.7,1008.6l10.5,5.2M632.3,981.1l3.5,-6.6M607.0,1024.5l2.4,-4.5M609.5,1025.8l2.4,-4.5M591.9,1009.6l8.4,4.8M590.6,1012.0l8.4,4.8M601.9,997.7l-0.1,10.5M599.6,997.7l-0.1,10.5M616.8,1019.5l3.3,-1.6M615.2,1031.3l2.8,-4.4M616.9,1032.4l2.8,-4.4M598.5,1009.1l4.8,-8.7M610.3,993.2l10.6,-5.2M604.3,991.1l7.9,4.5M601.5,1007.5l-3.6,1.5M601.6,1009.5l-3.6,1.5M601.6,1011.6l-3.6,1.5M613.1,974.0l-0.1,9.0M610.5,974.0l-0.1,9.0M636.6,975.7l8.2,-0.1M621.4,998.8l-0.0,10.9M605.5,1017.2l6.6,-3.7M602.2,1007.7l-0.0,9.1M599.7,1007.7l-0.0,9.1M621.3,985.7l8.8,-0.1M634.6,1009.8l8.8,-4.3M635.6,1011.8l8.8,-4.3M631.1,974.8l8.5,-4.2M632.4,977.4l8.5,-4.2M636.8,966.9l8.2,-4.3M638.1,969.5l8.2,-4.3M600.3,1024.2l3.1,-1.6l2.7,1.4M594.3,989.7l-0.4,11.3M607.9,1006.6l11.0,-0.3M639.9,1005.3l3.0,1.4l4.1,-2.1M591.5,985.6l5.5,-2.6M592.9,1007.4l-2.5,5.2M594.6,1008.2l-2.5,5.2M596.2,1009.0l-2.5,5.2M597.8,1009.8l-2.5,5.2M599.5,1010.6l-2.5,5.2M601.1,1011.4l-2.5,5.2M590.7,995.1l10.7,0.3M612.6,1004.8l5.6,-3.2M613.8,1007.0l5.6,-3.2M597.0,975.6l7.4,0.3M631.4,996.4l5.4,-2.8M632.8,999.0l5.4,-2.8M627.5,977.5l1.1,2.8M629.1,977.5l1.1,2.8M630.8,977.5l1.1,2.8M632.4,977.5l1.1,2.8M634.0,977.5l1.1,2.8M611.3,1028.1l4.1,-2.2M627.1,998.0l-0.5,10.0M604.1,989.7l4.3,-7.7M605.8,990.6l4.3,-7.7M623.6,1019.2l-0.2,8.9M600.6,975.8l5.2,-2.5M601.6,977.9l5.2,-2.5M605.0,983.2l11.4,0.3M605.0,985.5l11.4,0.3M606.8,964.1l11.5,-5.3M607.7,966.2l11.5,-5.3M593.7,995.1l3.1,5.3M618.4,976.0l5.0,-9.8M637.4,964.9l7.2,3.8M623.4,1013.8l0.1,5.0M621.5,1013.8l0.1,5.0M593.4,1014.9l6.2,3.1M592.6,1016.6l6.2,3.1M605.7,1008.9l7.2,-4.0M606.8,1010.8l7.2,-4.0M593.1,980.1l6.7,-3.7M616.7,998.4l6.0,-2.8l2.7,1.4M610.6,1012.2l5.6,-8.7M612.5,1013.4l5.6,-8.7M590.9,994.0l-0.3,7.7M612.5,1000.6l4.5,-2.4M605.9,964.0l10.5,-4.9M606.9,966.1l10.5,-4.9M599.7,1027.8l5.2,3.0M617.0,982.5l7.8,-0.1M611.0,993.1l-0.9,5.7M612.9,993.9l-0.9,5.7M614.7,994.8l-0.9,5.7M593.5,1022.4l8.6,-4.6M630.9,976.5l9.9,-5.2M632.2,979.0l9.9,-5.2M623.5,1013.8l7.4,-3.4M624.4,1015.7l7.4,-3.4M613.3,992.9l5.9,3.2M612.3,994.7l5.9,3.2M651.1,1006.1l-0.0,5.1M648.2,1006.1l-0.0,5.1M633.7,1001.4l5.0,-2.4M610.6,994.7l-0.1,4.6M613.3,1024.9l6.7,3.3M613.2,1013.7l-0.2,11.0M621.0,975.0l8.5,4.4M619.9,977.1l8.5,4.4M573.6,976.4l0.1,4.6M575.1,973.0l5.3,2.9M586.9,972.0l0.1,11.0M584.1,969.9l-1.6,2.6M585.7,970.6l-1.6,2.6M587.2,971.3l-1.6,2.6M588.7,972.0l-1.6,2.6M584.3,982.4l2.8,5.2M571.5,974.5l6.4,3.3M589.5,990.8l5.0,2.4M588.8,992.4l5.0,2.4M577.5,978.1l8.9,4.4M580.0,976.9l1.5,2.8M581.7,976.0l1.5,2.8M583.3,975.1l1.5,2.8M590.9,977.9l3.8,6.0M588.7,979.3l3.8,6.0M587.2,990.3l10.0,-5.7M570.6,962.3l5.6,3.0M592.5,985.8l4.4,-8.3M713.7,928.6l3.9,-7.1M764.2,901.4l8.4,-0.0M764.2,903.3l8.4,-0.0M708.9,922.6l-1.2,4.0M710.6,923.6l-1.2,4.0M712.2,924.5l-1.2,4.0M713.9,925.5l-1.2,4.0M715.6,926.4l-1.2,4.0M737.4,916.7l5.2,-9.1M731.1,906.2l7.2,3.8M730.2,908.0l7.2,3.8M732.3,907.9l3.7,-1.8M753.8,895.6l0.1,7.2M751.1,895.6l0.1,7.2M728.8,904.1l8.9,4.8M729.1,906.9l8.2,4.1M727.4,914.5l9.3,-4.5M761.4,894.4l5.3,-2.7M728.6,920.9l6.7,3.7M727.2,923.5l6.7,3.7M717.2,924.9l3.7,-2.1M775.1,911.4l4.2,2.2M726.6,927.5l3.0,4.8M724.7,928.7l3.0,4.8M758.4,911.5l10.7,-5.2M767.0,919.3l4.3,0.7M768.2,917.5l4.3,0.7M769.3,915.7l4.3,0.7M770.5,913.9l4.3,0.7M700.2,927.1l7.6,0.1M740.7,890.7l4.5,2.1M764.3,908.0l9.3,-4.5M725.7,928.8l5.7,0.1M725.6,931.1l5.7,0.1M747.9,925.2l3.5,1.9M729.8,908.6l8.8,-4.4M701.4,912.1l4.1,6.5M689.6,924.3l-0.2,3.7l0.0,3.2M702.4,910.5l0.1,3.9M728.6,918.8l0.1,6.6M778.5,916.7l2.9,1.4l2.5,1.3M713.3,904.4l5.5,-3.1M760.8,921.3l-1.4,5.0M762.7,922.3l-1.4,5.0M764.6,923.3l-1.4,5.0M746.2,911.1l0.1,4.1M768.5,925.0l8.4,-4.3M735.7,901.3l6.1,-2.9M736.9,903.8l6.1,-2.9M727.1,906.9l-0.3,12.4M724.4,906.8l-0.3,12.4M737.5,903.2l3.2,1.8l4.4,2.2M722.7,916.6l5.1,8.4M779.1,899.2l0.1,4.5M741.0,905.1l0.9,4.0M742.3,904.3l0.9,4.0M743.6,903.6l0.9,4.0M745.0,902.8l0.9,4.0M746.3,902.1l0.9,4.0M747.6,901.3l0.9,4.0M720.6,900.4l3.0,1.6M737.6,909.2l8.3,4.6M712.3,937.6l2.7,-4.5M764.4,905.7l-0.6,5.5M766.0,905.8l-0.6,5.5M767.6,905.9l-0.6,5.5M738.0,908.2l10.5,-5.6M739.2,910.6l10.5,-5.6M747.0,925.1l8.0,-4.2M761.0,905.9l6.1,3.4l1.9,-1.0M719.9,924.5l-0.0,9.8M755.3,899.9l2.6,4.4M705.7,922.3l5.7,9.3M723.3,933.2l11.7,-0.1M723.3,935.2l11.7,-0.1M742.8,915.3l4.4,-2.1M719.0,901.1l6.2,3.4M714.2,901.8l-0.3,9.6M739.8,930.1l9.9,-5.2M688.9,916.7l4.1,6.9M724.0,918.1l3.7,-1.7M700.7,909.2l7.2,-0.0M734.2,919.7l3.7,2.0M718.1,935.4l5.3,-2.8M747.0,893.8l3.8,7.4M749.0,892.8l7.9,3.7M733.0,918.8l2.7,-5.1M734.7,919.7l2.7,-5.1M774.3,897.5l4.0,1.8l2.2,-1.1M766.5,895.6l3.8,1.9M706.1,924.4l2.7,-4.4M766.6,920.5l-0.2,4.9M694.2,916.1l9.7,-0.3M694.2,918.3l9.7,-0.3M741.1,893.3l6.2,-3.0M712.4,908.5l-0.1,6.1M774.4,893.7l6.0,-2.9l0.0,3.6M718.1,915.7l9.0,4.1M717.3,917.3l9.0,4.1M747.9,902.1l8.8,0.1M751.2,892.6l3.7,-2.0M753.2,922.6l5.4,2.9M695.1,920.7l0.1,5.3M692.1,920.8l0.1,5.3M716.5,905.2l0.0,3.9M731.2,913.8l-5.2,-1.1M731.2,915.8l-5.2,-1.1M731.2,917.8l-5.2,-1.1M731.1,919.8l-5.2,-1.1M731.1,921.7l-5.2,-1.1M720.4,932.7l5.8,-3.1l0.0,4.4M749.0,920.8l9.3,0.0M719.2,931.5l0.0,7.2M729.0,909.0l-0.1,3.1M727.4,923.9l10.5,-5.6M711.5,936.8l5.2,-8.9M752.9,925.3l10.4,-4.7M735.6,899.5l5.8,-10.3M740.4,929.0l6.1,-3.2M735.0,910.8l9.2,5.1M733.8,913.0l9.2,5.1M708.7,912.3l8.5,-3.9M711.0,910.2l2.9,-1.6M749.0,920.7l6.4,-3.1M757.9,922.9l4.1,-2.0l3.6,1.8M710.4,934.3l-0.6,4.0M712.3,934.3l-0.6,4.0M714.3,934.4l-0.6,4.0M716.2,934.4l-0.6,4.0M718.1,934.5l-0.6,4.0M785.8,880.0l4.0,-6.9M760.6,914.9l6.8,-3.7M761.5,916.6l6.8,-3.7M765.3,889.6l8.8,-0.0M760.7,898.6l6.4,-3.0M746.3,892.0l6.5,-0.3l0.0,2.8M767.0,905.2l1.9,3.6l4.2,-2.2M761.3,911.5l-0.2,3.8M767.1,890.5l7.9,-3.8M791.8,873.1l6.9,0.2l3.5,-1.8M774.4,905.8l2.6,-1.5l0.0,2.3M758.6,884.4l4.5,7.0M756.8,885.5l4.5,7.0M790.1,867.0l0.6,5.7M791.6,867.0l0.6,5.7M793.2,866.9l0.6,5.7M794.7,866.9l0.6,5.7M787.1,880.4l5.7,-3.0M759.0,886.1l5.2,-2.3M759.8,887.7l5.2,-2.3M780.2,879.9l8.1,-3.7M781.3,882.3l8.1,-3.7M766.7,903.9l9.7,-4.9M767.7,905.8l9.7,-4.9M758.2,889.6l-0.4,9.3M748.6,906.1l10.7,4.9M747.7,908.2l10.7,4.9M767.8,896.5l-0.5,11.2M764.9,896.3l-0.5,11.2M788.3,870.5l-0.2,4.6M772.3,906.9l-0.2,6.2M769.3,906.8l-0.2,6.2M758.3,911.5l4.6,-0.2M754.1,883.9l10.0,0.2M754.0,886.1l10.0,0.2M763.1,914.6l6.4,0.1M781.8,879.1l4.2,7.3M779.3,880.5l4.2,7.3M750.5,886.6l10.2,-5.2M778.3,879.0l0.6,3.5M780.4,879.0l0.6,3.5M782.5,878.9l0.6,3.5M784.6,878.9l0.6,3.5M786.7,878.8l0.6,3.5M788.8,878.8l0.6,3.5M766.1,878.9l8.2,3.9M770.9,879.7l-0.0,10.0M768.0,879.7l-0.0,10.0M779.4,873.9l2.8,-1.4M753.8,913.6l5.1,-2.5l0.0,2.6M756.3,913.5l0.1,3.8l3.5,-1.8M762.5,913.9l0.2,5.6M760.5,913.9l0.2,5.6M766.6,900.5l5.8,3.1M781.4,873.1l10.4,5.1M751.9,896.8l-4.6,-1.2M751.8,898.9l-4.6,-1.2M751.8,901.1l-4.6,-1.2M751.7,903.2l-4.6,-1.2M751.7,905.4l-4.6,-1.2M751.6,907.5l-4.6,-1.2M769.3,767.8l7.9,-4.0M770.6,770.3l7.9,-4.0M752.9,762.6l5.5,-2.5M764.4,778.2l5.3,-8.5M765.9,792.6l2.1,3.5M767.5,791.8l2.1,3.5M769.2,791.0l2.1,3.5M770.9,790.1l2.1,3.5M752.0,761.4l-0.5,9.4M773.5,779.2l5.0,-2.5M763.6,784.9l1.5,2.8M762.2,777.9l5.0,9.7M759.6,779.2l5.0,9.7M779.8,772.2l0.1,3.2M775.4,765.3l4.1,-2.4M769.6,785.6l0.7,3.5M771.4,785.6l0.7,3.5M773.2,785.6l0.7,3.5M768.2,785.8l3.6,-6.3M769.6,785.1l3.2,-6.1M768.7,771.2l7.7,0.4M758.8,774.6l0.2,6.8M769.6,781.7l9.5,4.6M768.4,784.2l9.5,4.6M752.2,773.2l4.9,2.3M751.1,775.5l4.9,2.3M758.7,786.9l4.9,-2.3M751.0,772.5l7.8,4.4M775.0,776.5l3.1,-1.6M755.0,791.4l6.5,-3.5M754.0,778.0l-2.2,4.2M755.5,778.9l-2.2,4.2M757.1,779.7l-2.2,4.2M758.7,780.6l-2.2,4.2M749.4,770.5l8.4,-4.1M750.7,773.0l8.4,-4.1M762.6,764.0l3.1,-1.4M759.9,698.9l5.8,2.7M758.0,726.3l4.2,-2.2M755.7,720.7l4.0,1.9M760.1,706.3l5.5,-2.5M757.7,727.8l2.7,4.5l3.8,1.9M759.8,726.0l2.5,-4.3M754.4,725.2l4.8,2.4M757.4,731.0l2.6,4.3M755.3,732.3l2.6,4.3M752.9,717.5l4.2,2.2M761.0,713.1l4.9,-2.4M765.2,702.6l-0.6,11.9M752.1,730.2l6.4,3.2M756.0,706.4l1.7,2.9M762.9,730.7l3.1,-5.7M754.8,729.9l4.8,0.2M757.5,710.4l6.5,-3.1M761.1,712.3l2.7,1.4M767.4,713.7l0.2,10.6M751.6,724.9l8.0,-4.1M752.0,734.7l3.0,-1.7l0.0,4.6M753.7,704.8l2.7,4.9M751.6,706.0l2.7,4.9M759.2,714.2l5.3,2.6M753.2,716.2l8.6,4.4M751.9,718.7l8.6,4.4M761.9,699.8l3.2,-1.7l0.0,3.2M752.0,707.5l3.1,5.5l2.8,-1.4M753.2,734.7l8.4,-3.8M665.4,968.6l6.4,3.6M664.4,970.3l6.4,3.6M647.0,985.5l0.5,9.2M644.5,985.6l0.5,9.2M647.7,1011.3l5.0,9.0M646.1,1012.2l5.0,9.0M641.6,980.4l-1.5,5.6M643.2,981.3l-1.5,5.6M644.9,982.3l-1.5,5.6M646.6,983.2l-1.5,5.6M648.3,984.1l-1.5,5.6M649.9,985.0l-1.5,5.6M650.2,981.0l4.7,-2.4M644.9,1001.3l5.7,3.1M653.1,995.9l-5.2,-1.4M653.1,997.6l-5.2,-1.4M653.1,999.3l-5.2,-1.4M653.2,1001.0l-5.2,-1.4M653.2,1002.7l-5.2,-1.4M653.2,1004.4l-5.2,-1.4M645.8,1001.3l10.5,4.7M644.1,990.9l4.0,-2.0l0.0,2.3M670.0,1008.6l4.5,2.1M649.3,984.0l0.1,11.8M647.1,984.0l0.1,11.8M664.0,968.4l2.3,4.0M657.5,993.9l-0.4,8.3M652.5,971.2l-0.1,5.6M650.6,971.1l-0.1,5.6M649.4,993.0l0.2,9.1M647.2,993.1l0.2,9.1M643.6,994.2l5.6,3.1M645.8,983.1l-0.2,5.8M643.7,983.1l-0.2,5.8M663.8,984.1l4.9,-2.7M646.6,976.8l4.5,-0.1M648.2,1004.0l0.3,5.9M656.7,994.5l0.1,8.4M653.9,994.6l0.1,8.4M645.8,978.4l-0.4,3.6M647.6,978.3l-0.4,3.6M649.5,978.2l-0.4,3.6M651.3,978.1l-0.4,3.6M653.2,978.0l-0.4,3.6M670.4,999.7l-5.5,-2.1M670.5,1001.9l-5.5,-2.1M670.5,1004.1l-5.5,-2.1M667.4,980.8l2.7,-5.0M653.9,1005.9l7.3,-3.7M655.0,980.1l5.6,-2.7M661.7,998.1l-3.0,3.8M663.4,999.1l-3.0,3.8M665.0,1000.0l-3.0,3.8M666.7,1000.9l-3.0,3.8M668.3,1001.9l-3.0,3.8M670.0,1002.8l-3.0,3.8M667.1,993.2l-0.4,12.2M664.9,993.1l-0.4,12.2M661.0,972.5l-0.3,10.4M669.2,999.5l3.4,1.9M645.7,1009.5l3.6,-1.6M655.0,987.7l9.5,-4.5M649.2,1016.3l5.3,2.5M648.0,1018.8l5.3,2.5" fill="none" stroke="#1c1c1c" stroke-width=".9" stroke-linecap="round" stroke-linejoin="round"/>
<path d="M601.6,794.7l1.3,2.4l-2.0,1.2l-1.3,-2.4ZM595.7,792.3l1.6,2.8l-1.7,1.0l-1.6,-2.8ZM613.8,807.4l1.8,-3.0l1.2,0.7l-1.8,3.0ZM589.9,809.2l3.7,-1.7l0.9,2.0l-3.7,1.7ZM521.5,806.0l0.1,3.2l-2.0,0.1l-0.1,-3.2ZM582.5,807.7l-0.0,3.6l-1.3,-0.0l0.0,-3.6ZM597.7,801.5l1.8,-2.8l1.1,0.7l-1.8,2.8ZM552.0,796.7l4.1,0.2l-0.1,2.3l-4.1,-0.2ZM523.3,793.1l-0.2,3.8l-2.2,-0.1l0.2,-3.8ZM613.8,810.4l2.0,-0.9l0.9,2.0l-2.0,0.9ZM525.1,786.7l1.3,-2.4l1.3,0.7l-1.3,2.4ZM604.2,809.7l2.5,-4.1l1.1,0.7l-2.5,4.1ZM534.6,788.9l1.1,1.9l-1.5,0.9l-1.1,-1.9ZM593.2,789.7l3.7,-0.0l0.0,1.8l-3.7,0.0ZM592.4,810.1l2.8,1.3l-0.8,1.9l-2.8,-1.3ZM600.3,792.1l2.3,3.9l-1.2,0.7l-2.3,-3.9ZM608.8,824.3l1.1,1.7l-1.0,0.6l-1.1,-1.7ZM604.4,802.2l3.5,-1.9l1.0,1.8l-3.5,1.9ZM591.8,831.0l1.4,2.5l-1.2,0.6l-1.4,-2.5ZM557.4,830.0l2.2,1.1l-1.0,1.9l-2.2,-1.1ZM601.0,837.2l2.8,1.6l-0.6,1.1l-2.8,-1.6ZM560.8,828.6l1.3,2.3l-1.2,0.7l-1.3,-2.3ZM619.0,872.2l3.5,1.7l-0.8,1.7l-3.5,-1.7ZM631.5,907.3l1.8,-0.9l0.7,1.3l-1.8,0.9ZM620.3,866.0l2.6,-4.1l1.4,0.9l-2.6,4.1ZM619.9,906.7l0.0,3.6l-1.5,0.0l-0.0,-3.6ZM608.5,889.2l3.3,-1.5l0.9,1.9l-3.3,1.5ZM627.3,834.9l3.4,0.0l-0.0,1.2l-3.4,-0.0ZM614.3,836.2l3.9,-2.0l1.1,2.2l-3.9,2.0ZM609.1,878.1l2.6,-1.3l0.9,1.8l-2.6,1.3ZM625.5,909.5l2.5,-1.2l0.5,1.1l-2.5,1.2ZM615.4,912.1l3.3,1.9l-0.8,1.5l-3.3,-1.9ZM621.2,914.8l1.5,-2.5l1.2,0.7l-1.5,2.5ZM607.0,856.8l-0.1,4.9l-2.4,-0.0l0.1,-4.9ZM610.6,903.9l-0.1,3.1l-2.5,-0.1l0.1,-3.1ZM615.6,839.6l3.2,1.7l-1.1,2.1l-3.2,-1.7ZM620.9,915.4l1.2,-2.2l1.6,0.9l-1.2,2.2ZM612.3,924.9l3.7,0.1l-0.1,1.9l-3.7,-0.1ZM549.5,917.2l2.0,0.9l-0.6,1.4l-2.0,-0.9ZM493.7,886.2l4.1,2.0l-0.8,1.6l-4.1,-2.0ZM549.6,901.0l2.2,-3.8l1.1,0.6l-2.2,3.8ZM542.4,886.9l0.1,2.0l-1.3,0.0l-0.1,-2.0ZM514.1,867.8l2.5,1.1l-0.6,1.4l-2.5,-1.1ZM525.5,892.0l2.7,1.5l-1.1,2.0l-2.7,-1.5ZM545.7,925.0l4.8,0.1l-0.0,1.3l-4.8,-0.1ZM529.1,891.0l0.1,2.6l-1.9,0.1l-0.1,-2.6ZM548.1,906.6l2.4,-1.1l0.9,1.9l-2.4,1.1ZM518.3,870.9l3.5,-0.1l0.0,1.5l-3.5,0.1ZM490.9,879.3l4.2,-2.0l0.8,1.6l-4.2,2.0ZM490.7,883.2l2.8,-1.6l1.0,1.7l-2.8,1.6ZM540.3,903.6l-0.1,2.6l-2.5,-0.1l0.1,-2.6ZM559.8,901.7l4.1,0.1l-0.1,2.4l-4.1,-0.1ZM509.7,879.2l0.1,4.5l-1.8,0.0l-0.1,-4.5ZM517.6,863.0l3.8,1.8l-0.7,1.5l-3.8,-1.8ZM491.0,888.9l2.6,-1.2l0.7,1.5l-2.6,1.2ZM527.0,943.8l4.1,2.0l-0.6,1.3l-4.1,-2.0ZM513.2,943.9l0.1,4.8l-2.4,0.0l-0.1,-4.8ZM506.2,961.2l1.2,2.1l-2.0,1.2l-1.2,-2.1ZM505.3,943.5l0.0,3.0l-1.5,0.0l-0.0,-3.0ZM540.6,951.2l4.9,0.0l-0.0,1.6l-4.9,-0.0ZM505.9,954.6l3.7,-1.7l0.6,1.3l-3.7,1.7ZM524.0,955.9l-0.1,4.3l-2.3,-0.1l0.1,-4.3ZM619.7,915.6l4.3,1.9l-0.9,1.9l-4.3,-1.9ZM613.0,936.8l0.0,3.0l-1.6,0.0l-0.0,-3.0ZM601.6,916.4l2.7,0.1l-0.1,2.2l-2.7,-0.1ZM626.5,933.7l1.2,2.0l-2.0,1.2l-1.2,-2.0ZM627.7,919.3l-0.1,3.7l-2.1,-0.1l0.1,-3.7ZM624.3,967.2l4.3,-0.1l0.0,1.3l-4.3,0.1ZM639.9,970.6l3.6,-1.8l0.7,1.4l-3.6,1.8ZM599.5,995.4l0.1,2.9l-1.8,0.1l-0.1,-2.9ZM607.3,986.5l3.4,1.5l-0.9,2.1l-3.4,-1.5ZM617.6,965.8l3.0,1.6l-0.7,1.3l-3.0,-1.6ZM642.8,997.3l4.2,-2.3l0.6,1.1l-4.2,2.3ZM629.4,981.4l3.1,-0.1l0.1,2.2l-3.1,0.1ZM636.7,975.0l4.0,-1.9l0.6,1.2l-4.0,1.9ZM599.3,977.0l2.2,1.3l-1.0,1.8l-2.2,-1.3ZM641.2,1002.9l3.0,1.6l-1.0,1.9l-3.0,-1.6ZM612.5,995.6l1.8,-3.1l1.7,1.0l-1.8,3.1ZM606.0,991.8l2.8,-1.5l1.0,1.8l-2.8,1.5ZM634.9,1018.2l-0.2,4.3l-2.4,-0.1l0.2,-4.3ZM624.0,959.0l3.7,-1.7l1.0,2.0l-3.7,1.7ZM627.5,985.3l2.3,-1.2l0.7,1.5l-2.3,1.2ZM626.2,999.7l3.0,-1.5l0.5,1.1l-3.0,1.5ZM584.2,983.4l1.8,1.0l-1.2,2.2l-1.8,-1.0ZM585.5,988.6l2.7,-1.5l0.8,1.6l-2.7,1.5ZM577.2,972.0l2.1,3.6l-1.2,0.7l-2.1,-3.6ZM749.2,922.6l2.4,-3.7l2.1,1.4l-2.4,3.7ZM705.2,913.1l2.4,1.2l-0.7,1.4l-2.4,-1.2ZM739.4,931.4l2.5,-1.3l1.2,2.2l-2.5,1.3ZM771.9,900.6l-0.1,4.8l-2.0,-0.0l0.1,-4.8ZM713.9,922.9l3.5,1.9l-0.9,1.6l-3.5,-1.9ZM713.0,919.2l2.2,0.0l-0.0,1.9l-2.2,-0.0ZM731.2,903.8l2.0,0.9l-0.6,1.3l-2.0,-0.9ZM720.8,935.5l4.6,-0.2l0.1,1.2l-4.6,0.2ZM766.6,903.8l2.5,-1.1l0.7,1.6l-2.5,1.1ZM714.5,902.8l1.1,-1.9l1.7,1.0l-1.1,1.9ZM738.5,891.2l-0.1,4.6l-2.2,-0.0l0.1,-4.6ZM776.5,913.7l3.2,-1.8l0.6,1.1l-3.2,1.8ZM729.6,899.6l2.5,-1.3l0.7,1.4l-2.5,1.3ZM759.8,888.2l2.1,-1.2l1.0,1.7l-2.1,1.2ZM795.8,865.9l2.4,1.2l-0.6,1.3l-2.4,-1.2ZM758.8,903.7l2.1,-1.2l0.9,1.6l-2.1,1.2ZM748.3,894.8l3.7,-1.8l1.0,2.2l-3.7,1.8ZM764.3,924.9l2.0,1.1l-1.1,2.0l-2.0,-1.1ZM762.0,900.0l0.1,4.9l-1.5,0.0l-0.1,-4.9ZM755.6,922.2l3.6,1.7l-1.0,2.1l-3.6,-1.7ZM759.0,784.1l1.9,1.0l-0.7,1.4l-1.9,-1.0ZM763.2,763.5l-0.0,3.9l-1.8,-0.0l0.0,-3.9ZM773.3,767.0l2.4,-1.3l0.9,1.6l-2.4,1.3ZM769.5,776.7l2.8,-1.4l0.9,1.7l-2.8,1.4ZM649.8,980.0l3.9,-2.1l1.0,1.8l-3.9,2.1ZM659.7,990.2l4.3,-2.4l0.7,1.3l-4.3,2.4ZM664.8,980.2l2.2,3.8l-2.0,1.2l-2.2,-3.8ZM650.3,985.5l2.1,0.1l-0.1,1.4l-2.1,-0.1ZM651.4,984.9l-0.1,3.1l-1.6,-0.1l0.1,-3.1ZM657.8,1008.1l-0.0,3.8l-2.2,-0.0l0.0,-3.8Z" fill="#222" stroke="#222" stroke-width=".6"/>
<path d="M516.7,788.6a2.8,2.8 0 1 0 5.7,0a2.8,2.8 0 1 0 -5.7,0M604.4,814.0a2.2,2.2 0 1 0 4.4,0a2.2,2.2 0 1 0 -4.4,0M607.3,793.3a2.3,2.3 0 1 0 4.5,0a2.3,2.3 0 1 0 -4.5,0M594.4,820.3a3.2,3.2 0 1 0 6.3,0a3.2,3.2 0 1 0 -6.3,0M526.8,788.6a2.2,2.2 0 1 0 4.4,0a2.2,2.2 0 1 0 -4.4,0M595.1,816.3a2.6,2.6 0 1 0 5.1,0a2.6,2.6 0 1 0 -5.1,0M522.6,802.4a2.3,2.3 0 1 0 4.6,0a2.3,2.3 0 1 0 -4.6,0M540.9,797.6a2.1,2.1 0 1 0 4.2,0a2.1,2.1 0 1 0 -4.2,0M532.9,796.8a2.8,2.8 0 1 0 5.5,0a2.8,2.8 0 1 0 -5.5,0M604.6,824.4a2.3,2.3 0 1 0 4.6,0a2.3,2.3 0 1 0 -4.6,0M515.0,793.4a1.6,1.6 0 1 0 3.2,0a1.6,1.6 0 1 0 -3.2,0M602.7,808.8a2.8,2.8 0 1 0 5.7,0a2.8,2.8 0 1 0 -5.7,0M612.7,826.6a1.9,1.9 0 1 0 3.8,0a1.9,1.9 0 1 0 -3.8,0M537.1,793.9a1.4,1.4 0 1 0 2.9,0a1.4,1.4 0 1 0 -2.9,0M523.0,794.5a3.0,3.0 0 1 0 5.9,0a3.0,3.0 0 1 0 -5.9,0M520.2,800.3a2.2,2.2 0 1 0 4.3,0a2.2,2.2 0 1 0 -4.3,0M554.8,792.2a1.5,1.5 0 1 0 3.0,0a1.5,1.5 0 1 0 -3.0,0M586.6,806.1a1.7,1.7 0 1 0 3.4,0a1.7,1.7 0 1 0 -3.4,0M527.5,784.7a2.0,2.0 0 1 0 3.9,0a2.0,2.0 0 1 0 -3.9,0M516.8,805.7a2.6,2.6 0 1 0 5.3,0a2.6,2.6 0 1 0 -5.3,0M598.2,784.6a1.8,1.8 0 1 0 3.7,0a1.8,1.8 0 1 0 -3.7,0M537.8,793.6a3.2,3.2 0 1 0 6.3,0a3.2,3.2 0 1 0 -6.3,0M579.4,832.7a2.2,2.2 0 1 0 4.3,0a2.2,2.2 0 1 0 -4.3,0M582.4,834.9a1.7,1.7 0 1 0 3.4,0a1.7,1.7 0 1 0 -3.4,0M594.6,831.0a2.2,2.2 0 1 0 4.4,0a2.2,2.2 0 1 0 -4.4,0M571.3,841.0a1.5,1.5 0 1 0 2.9,0a1.5,1.5 0 1 0 -2.9,0M607.0,851.2a1.8,1.8 0 1 0 3.7,0a1.8,1.8 0 1 0 -3.7,0M607.1,872.9a2.9,2.9 0 1 0 5.8,0a2.9,2.9 0 1 0 -5.8,0M607.9,880.0a2.0,2.0 0 1 0 4.1,0a2.0,2.0 0 1 0 -4.1,0M628.2,903.0a2.1,2.1 0 1 0 4.3,0a2.1,2.1 0 1 0 -4.3,0M616.6,834.7a3.0,3.0 0 1 0 5.9,0a3.0,3.0 0 1 0 -5.9,0M620.7,859.1a2.8,2.8 0 1 0 5.7,0a2.8,2.8 0 1 0 -5.7,0M630.6,913.4a2.2,2.2 0 1 0 4.5,0a2.2,2.2 0 1 0 -4.5,0M607.0,861.1a1.9,1.9 0 1 0 3.9,0a1.9,1.9 0 1 0 -3.9,0M609.8,850.1a2.5,2.5 0 1 0 5.0,0a2.5,2.5 0 1 0 -5.0,0M531.6,875.3a1.9,1.9 0 1 0 3.7,0a1.9,1.9 0 1 0 -3.7,0M495.4,906.4a2.7,2.7 0 1 0 5.4,0a2.7,2.7 0 1 0 -5.4,0M490.4,879.0a2.5,2.5 0 1 0 5.0,0a2.5,2.5 0 1 0 -5.0,0M491.2,885.1a2.9,2.9 0 1 0 5.7,0a2.9,2.9 0 1 0 -5.7,0M541.9,921.8a1.4,1.4 0 1 0 2.9,0a1.4,1.4 0 1 0 -2.9,0M503.7,889.6a1.5,1.5 0 1 0 3.0,0a1.5,1.5 0 1 0 -3.0,0M542.1,882.0a3.0,3.0 0 1 0 5.9,0a3.0,3.0 0 1 0 -5.9,0M533.2,912.3a1.9,1.9 0 1 0 3.8,0a1.9,1.9 0 1 0 -3.8,0M496.1,881.7a2.1,2.1 0 1 0 4.1,0a2.1,2.1 0 1 0 -4.1,0M533.8,886.2a2.7,2.7 0 1 0 5.5,0a2.7,2.7 0 1 0 -5.5,0M540.1,872.3a1.5,1.5 0 1 0 3.1,0a1.5,1.5 0 1 0 -3.1,0M498.1,901.4a3.2,3.2 0 1 0 6.3,0a3.2,3.2 0 1 0 -6.3,0M490.5,897.7a2.2,2.2 0 1 0 4.4,0a2.2,2.2 0 1 0 -4.4,0M534.4,870.2a1.8,1.8 0 1 0 3.7,0a1.8,1.8 0 1 0 -3.7,0M533.1,898.7a2.8,2.8 0 1 0 5.6,0a2.8,2.8 0 1 0 -5.6,0M535.2,912.0a1.5,1.5 0 1 0 3.0,0a1.5,1.5 0 1 0 -3.0,0M557.3,917.2a2.3,2.3 0 1 0 4.5,0a2.3,2.3 0 1 0 -4.5,0M532.4,913.6a2.5,2.5 0 1 0 5.0,0a2.5,2.5 0 1 0 -5.0,0M521.8,880.9a2.7,2.7 0 1 0 5.5,0a2.7,2.7 0 1 0 -5.5,0M541.7,964.9a2.2,2.2 0 1 0 4.4,0a2.2,2.2 0 1 0 -4.4,0M540.9,961.0a2.5,2.5 0 1 0 5.0,0a2.5,2.5 0 1 0 -5.0,0M522.1,958.3a2.1,2.1 0 1 0 4.1,0a2.1,2.1 0 1 0 -4.1,0M529.6,951.2a2.4,2.4 0 1 0 4.7,0a2.4,2.4 0 1 0 -4.7,0M511.4,957.5a1.8,1.8 0 1 0 3.6,0a1.8,1.8 0 1 0 -3.6,0M524.6,962.4a1.9,1.9 0 1 0 3.8,0a1.9,1.9 0 1 0 -3.8,0M513.2,941.1a2.8,2.8 0 1 0 5.6,0a2.8,2.8 0 1 0 -5.6,0M526.2,958.9a2.4,2.4 0 1 0 4.8,0a2.4,2.4 0 1 0 -4.8,0M625.1,923.0a2.5,2.5 0 1 0 4.9,0a2.5,2.5 0 1 0 -4.9,0M617.4,927.4a1.9,1.9 0 1 0 3.7,0a1.9,1.9 0 1 0 -3.7,0M602.0,912.8a2.8,2.8 0 1 0 5.7,0a2.8,2.8 0 1 0 -5.7,0M603.3,911.0a2.1,2.1 0 1 0 4.2,0a2.1,2.1 0 1 0 -4.2,0M629.0,913.7a3.2,3.2 0 1 0 6.4,0a3.2,3.2 0 1 0 -6.4,0M605.2,937.8a1.9,1.9 0 1 0 3.8,0a1.9,1.9 0 1 0 -3.8,0M621.5,912.0a2.9,2.9 0 1 0 5.7,0a2.9,2.9 0 1 0 -5.7,0M587.5,977.8a3.1,3.1 0 1 0 6.3,0a3.1,3.1 0 1 0 -6.3,0M592.1,966.0a2.7,2.7 0 1 0 5.5,0a2.7,2.7 0 1 0 -5.5,0M624.9,1004.3a2.8,2.8 0 1 0 5.5,0a2.8,2.8 0 1 0 -5.5,0M630.9,1009.2a2.7,2.7 0 1 0 5.3,0a2.7,2.7 0 1 0 -5.3,0M596.8,989.3a2.1,2.1 0 1 0 4.1,0a2.1,2.1 0 1 0 -4.1,0M650.5,1007.9a3.0,3.0 0 1 0 6.1,0a3.0,3.0 0 1 0 -6.1,0M615.0,1031.9a2.5,2.5 0 1 0 4.9,0a2.5,2.5 0 1 0 -4.9,0M614.6,984.2a1.9,1.9 0 1 0 3.8,0a1.9,1.9 0 1 0 -3.8,0M624.1,962.4a2.7,2.7 0 1 0 5.5,0a2.7,2.7 0 1 0 -5.5,0M627.7,960.2a2.7,2.7 0 1 0 5.4,0a2.7,2.7 0 1 0 -5.4,0M592.8,1015.5a1.8,1.8 0 1 0 3.7,0a1.8,1.8 0 1 0 -3.7,0M603.7,1019.3a2.4,2.4 0 1 0 4.8,0a2.4,2.4 0 1 0 -4.8,0M607.2,1020.1a2.8,2.8 0 1 0 5.6,0a2.8,2.8 0 1 0 -5.6,0M605.9,975.0a2.7,2.7 0 1 0 5.5,0a2.7,2.7 0 1 0 -5.5,0M618.1,1017.2a2.8,2.8 0 1 0 5.5,0a2.8,2.8 0 1 0 -5.5,0M639.4,996.2a3.1,3.1 0 1 0 6.3,0a3.1,3.1 0 1 0 -6.3,0M611.1,990.0a2.2,2.2 0 1 0 4.3,0a2.2,2.2 0 1 0 -4.3,0M650.8,1013.5a2.3,2.3 0 1 0 4.7,0a2.3,2.3 0 1 0 -4.7,0M606.1,1000.6a2.2,2.2 0 1 0 4.4,0a2.2,2.2 0 1 0 -4.4,0M594.3,1018.7a2.5,2.5 0 1 0 5.1,0a2.5,2.5 0 1 0 -5.1,0M629.7,991.6a2.5,2.5 0 1 0 5.0,0a2.5,2.5 0 1 0 -5.0,0M595.3,975.0a2.7,2.7 0 1 0 5.4,0a2.7,2.7 0 1 0 -5.4,0M627.0,968.2a2.9,2.9 0 1 0 5.7,0a2.9,2.9 0 1 0 -5.7,0M641.9,971.1a2.5,2.5 0 1 0 5.1,0a2.5,2.5 0 1 0 -5.1,0M622.5,967.4a2.9,2.9 0 1 0 5.7,0a2.9,2.9 0 1 0 -5.7,0M613.5,1001.5a2.8,2.8 0 1 0 5.7,0a2.8,2.8 0 1 0 -5.7,0M601.3,974.0a2.6,2.6 0 1 0 5.2,0a2.6,2.6 0 1 0 -5.2,0M603.8,982.8a1.7,1.7 0 1 0 3.5,0a1.7,1.7 0 1 0 -3.5,0M602.4,999.2a2.2,2.2 0 1 0 4.4,0a2.2,2.2 0 1 0 -4.4,0M606.0,990.6a2.9,2.9 0 1 0 5.8,0a2.9,2.9 0 1 0 -5.8,0M642.2,1001.9a1.8,1.8 0 1 0 3.7,0a1.8,1.8 0 1 0 -3.7,0M620.5,999.4a2.6,2.6 0 1 0 5.3,0a2.6,2.6 0 1 0 -5.3,0M632.4,1013.7a1.5,1.5 0 1 0 3.1,0a1.5,1.5 0 1 0 -3.1,0M571.4,965.0a2.7,2.7 0 1 0 5.4,0a2.7,2.7 0 1 0 -5.4,0M775.8,912.0a2.7,2.7 0 1 0 5.5,0a2.7,2.7 0 1 0 -5.5,0M758.4,923.7a3.1,3.1 0 1 0 6.2,0a3.1,3.1 0 1 0 -6.2,0M727.5,915.4a1.9,1.9 0 1 0 3.9,0a1.9,1.9 0 1 0 -3.9,0M719.4,914.0a3.0,3.0 0 1 0 6.0,0a3.0,3.0 0 1 0 -6.0,0M746.8,914.3a3.0,3.0 0 1 0 6.0,0a3.0,3.0 0 1 0 -6.0,0M730.7,931.6a1.7,1.7 0 1 0 3.5,0a1.7,1.7 0 1 0 -3.5,0M773.0,911.7a2.1,2.1 0 1 0 4.2,0a2.1,2.1 0 1 0 -4.2,0M721.3,930.3a2.0,2.0 0 1 0 4.0,0a2.0,2.0 0 1 0 -4.0,0M737.0,904.8a2.5,2.5 0 1 0 5.1,0a2.5,2.5 0 1 0 -5.1,0M707.7,919.3a3.2,3.2 0 1 0 6.4,0a3.2,3.2 0 1 0 -6.4,0M783.7,870.9a1.6,1.6 0 1 0 3.1,0a1.6,1.6 0 1 0 -3.1,0M774.3,899.5a2.6,2.6 0 1 0 5.1,0a2.6,2.6 0 1 0 -5.1,0M760.1,898.2a1.6,1.6 0 1 0 3.2,0a1.6,1.6 0 1 0 -3.2,0M756.3,922.9a2.7,2.7 0 1 0 5.4,0a2.7,2.7 0 1 0 -5.4,0M781.5,871.2a2.9,2.9 0 1 0 5.8,0a2.9,2.9 0 1 0 -5.8,0M760.2,911.2a3.1,3.1 0 1 0 6.3,0a3.1,3.1 0 1 0 -6.3,0M768.6,879.4a1.7,1.7 0 1 0 3.4,0a1.7,1.7 0 1 0 -3.4,0M775.2,895.8a2.3,2.3 0 1 0 4.6,0a2.3,2.3 0 1 0 -4.6,0M754.2,897.6a2.4,2.4 0 1 0 4.8,0a2.4,2.4 0 1 0 -4.8,0M796.6,875.0a2.9,2.9 0 1 0 5.9,0a2.9,2.9 0 1 0 -5.9,0M753.9,882.7a2.8,2.8 0 1 0 5.5,0a2.8,2.8 0 1 0 -5.5,0M758.3,783.1a2.6,2.6 0 1 0 5.3,0a2.6,2.6 0 1 0 -5.3,0M746.3,784.5a2.7,2.7 0 1 0 5.5,0a2.7,2.7 0 1 0 -5.5,0M747.1,774.1a3.2,3.2 0 1 0 6.3,0a3.2,3.2 0 1 0 -6.3,0M751.1,713.1a3.1,3.1 0 1 0 6.2,0a3.1,3.1 0 1 0 -6.2,0M763.9,719.0a3.1,3.1 0 1 0 6.2,0a3.1,3.1 0 1 0 -6.2,0M755.8,711.4a2.7,2.7 0 1 0 5.5,0a2.7,2.7 0 1 0 -5.5,0M649.0,999.4a1.8,1.8 0 1 0 3.6,0a1.8,1.8 0 1 0 -3.6,0M669.5,981.4a2.8,2.8 0 1 0 5.5,0a2.8,2.8 0 1 0 -5.5,0M659.2,997.9a2.2,2.2 0 1 0 4.4,0a2.2,2.2 0 1 0 -4.4,0M648.4,989.7a2.5,2.5 0 1 0 5.0,0a2.5,2.5 0 1 0 -5.0,0M668.7,982.4a3.1,3.1 0 1 0 6.1,0a3.1,3.1 0 1 0 -6.1,0M657.3,995.5a3.1,3.1 0 1 0 6.2,0a3.1,3.1 0 1 0 -6.2,0" fill="none" stroke="#1c1c1c" stroke-width=".8"/></g>
<!-- 27_hoses.svg -->
<g class="eng" transform="translate(455,630) scale(.2)">
<!-- turbo/oil cap cylinder -->
<ellipse class="fk" cx="645" cy="1105" rx="105" ry="52"/>
<path class="fk" d="M540,1105 C545,1160 570,1185 645,1190 C720,1185 745,1160 750,1105"/>
<ellipse class="fk" cx="645" cy="1100" rx="105" ry="52"/>
<ellipse class="l" cx="645" cy="1098" rx="88" ry="42"/><ellipse class="k" cx="640" cy="1094" rx="55" ry="26"/><ellipse class="l" cx="640" cy="1092" rx="40" ry="18"/>
<path class="l" d="M545,1125 C570,1170 720,1170 748,1125 M548,1145 C580,1185 710,1185 745,1145"/>
<path class="f" d="M575,1185 C590,1230 600,1300 600,1360 L640,1480 L760,1480 L760,1200 L720,1185 C700,1195 600,1195 575,1185 Z"/>
<path class="l" d="M620,1200 L640,1400 M660,1200 L690,1420 M700,1195 L730,1400 M600,1300 C640,1320 720,1310 760,1290"/>
<!-- big hose H1 -->
<path class="fk" d="M520,838 C440,870 360,930 345,1010 C335,1090 380,1150 440,1210 C490,1260 520,1330 535,1480 L705,1480 C700,1380 665,1290 605,1220 C545,1160 490,1080 485,1030 C482,990 530,950 610,905 C620,880 600,840 580,832 Z"/>
<path class="l" d="M520,838 C510,860 590,930 610,905 M345,1010 C390,985 460,1000 485,1030 M368,1110 C410,1070 470,1060 500,1085 M485,1262 C525,1210 590,1190 625,1240 M532,1440 C585,1400 660,1395 702,1430"/>

<!-- hose clamp/cuff at top of H1 -->
<path class="fk" d="M520,838 C540,810 600,800 625,830 C650,860 640,900 610,905 C590,880 560,850 520,838 Z"/>
<path class="l" d="M545,822 C575,840 615,870 628,898 M565,812 C600,830 632,865 640,885"/>
</g>
<g class="eng" transform="translate(455,800) scale(.2)">
<!-- hose H2 horizontal (left S) -->
<path class="fk" d="M350,700 C350,665 390,640 440,645 C520,650 600,680 720,700 L760,705 L750,785 C640,775 560,740 480,720 C450,715 440,730 430,745 C400,760 350,740 350,700 Z"/>
<path class="l" d="M395,655 C380,690 390,730 420,750 M520,660 C505,690 505,715 515,730 M680,695 C672,720 672,755 680,775"/>
<!-- big hose continuation from tile A (H1 lower) -->
<path class="fk" d="M345,160 C335,240 380,300 440,360 C490,410 520,480 540,640 L700,640 C700,530 665,440 605,370 C545,310 490,230 485,180 C483,160 490,140 500,130 L380,60 C360,90 348,120 345,160 Z"/>
<path class="l" d="M368,260 C410,220 470,210 500,235 M485,412 C525,360 590,340 625,390 M532,590 C585,550 660,545 700,580 M350,150 C400,130 460,150 488,182"/>

<!-- vertical hose from H2 down to pump -->
<path class="fk" d="M445,745 C430,790 440,830 465,860 L470,890 L555,885 L560,855 C570,820 575,790 590,770 C560,750 500,735 445,745 Z"/>
<path class="l" d="M465,860 C490,870 535,868 560,855 M462,840 C490,852 540,850 563,836 M470,890 C490,900 535,898 555,885"/>
<!-- H6: second hose below, going right then down -->
<path class="fk" d="M580,800 C600,760 660,760 720,770 C800,780 880,740 960,720 C1040,700 1100,690 1150,720 L1160,780 C1100,760 1040,770 980,790 C900,815 840,850 780,850 C740,850 730,880 740,920 C760,990 750,1050 700,1085 C660,1105 600,1095 590,1060 L640,1020 C670,1030 690,1000 680,960 C665,900 640,850 620,840 C600,830 585,820 580,800 Z"/>
<path class="l" d="M660,765 C650,790 655,820 670,840 M800,775 C800,800 810,830 825,845 M960,720 C965,745 975,775 990,788 M680,960 C705,945 730,935 745,935 M640,1020 C660,1050 690,1075 715,1075"/>
<!-- H1 end merges to horizontal hose H5 going right -->
<path class="fk" d="M540,640 C545,700 590,760 670,775 L760,780 C900,770 1000,700 1130,660 L1160,655 L1150,570 C1050,585 960,640 860,690 C790,718 730,712 712,690 C702,675 700,655 700,640 Z"/>
<path class="l" d="M585,735 C605,700 640,672 675,665 M670,775 C680,740 695,715 712,690 M880,680 C895,710 905,735 900,755 M1040,605 C1055,630 1065,660 1060,682"/>
</g>
<g class="eng" transform="translate(640,800) scale(.2)">
<!-- lower tube -->
<path class="fk" d="M0,735 C100,700 200,690 300,690 C400,690 480,720 560,760 C600,780 635,790 640,815 C640,845 610,860 570,855 C540,850 470,810 400,785 C340,765 250,765 150,785 L0,830 Z"/>
<path class="l" d="M150,700 C140,730 142,760 150,785 M330,692 C325,715 328,750 335,770 M600,782 C580,800 570,830 575,853"/>
<path class="fk" d="M480,810 C520,790 590,800 610,830 L600,850 L520,850 Z"/>
<ellipse class="l" cx="555" cy="832" rx="45" ry="18" transform="rotate(15 555 832)"/>
<path class="k" d="M490,800 L500,840 M505,797 L515,842 M520,796 L530,846"/>
<!-- upper tube -->
<path class="fk" d="M228,575 C300,560 380,600 460,630 C560,665 700,660 800,660 C840,660 858,680 855,705 C850,730 820,740 780,738 C680,735 560,735 440,700 C380,680 320,650 250,655 Z"/>
<path class="l" d="M300,572 C290,600 292,630 300,650 M470,635 C462,660 465,690 475,708 M760,660 C745,685 748,715 760,737"/>
</g>
<!-- 30_lid53.svg -->
<g transform="translate(832,205) scale(.2)">
<!-- snorkel -->
<path class="fk" d="M830,105 C860,95 885,75 895,45 C920,20 980,30 1015,60 C1050,100 1072,150 1076,188 L1000,170 L900,130 Z"/>
<path class="l" d="M895,45 C905,70 935,110 965,140 M915,35 C930,70 960,110 990,135 M830,105 C870,110 930,140 975,175"/>
<!-- body -->
<path class="fk" d="M40,800 C50,760 60,720 72,700 L130,640 L200,560 L250,450 C280,400 310,370 345,350 L390,320 L480,255 L520,225 L590,175 L640,160 L700,102 L760,95 L830,105 L960,140 L1076,188 L1150,240 L1250,330 L1330,410 L1390,480 L1412,530 L1436,600 L1440,622 L1320,722 L1180,842 L1050,962 L900,1082 L742,1192 L680,1172 L640,1170 C625,1160 622,1120 620,1085 C600,1040 560,1000 505,985 C460,985 425,1020 415,1082 L330,1042 L200,972 L100,882 Z"/>
<!-- rim lip -->
<path class="l" d="M55,795 C62,760 72,730 85,712 L140,655 M60,815 L110,865 L205,950 L335,1022 L410,1058 M75,800 L120,845 L212,930 L340,1000 L420,1040"/>
<path class="l" d="M690,1150 L745,1170 L900,1060 L1050,940 L1180,820 L1320,700 L1425,612 M700,1130 L745,1148 L895,1040 L1045,920 L1175,800 L1315,682 L1412,600"/>
<path class="l" d="M640,1150 C640,1090 600,1030 540,1005 C490,995 450,1020 435,1075 M655,1150 C655,1085 615,1015 545,990"/>
<circle class="l" cx="548" cy="968" r="7"/>
<!-- tabs -->
<g class="l"><path d="M100,900 L90,945 L115,960 L130,915 M200,1000 L195,1050 L222,1060 L232,1012 M345,1070 L340,1125 L370,1132 L378,1082 M735,1192 L732,1230 L760,1232 L765,1196 M900,1085 L915,1130 L940,1120 L928,1072 M1030,985 L1040,1020 L1065,1010 L1055,965 M1160,862 L1170,902 L1192,892 L1184,846 M1290,750 L1300,785 L1325,775 L1318,730 M1420,615 L1432,640 L1445,625"/></g>
<!-- ribs (double lines) -->
<g class="k">
<path d="M250,450 C290,425 340,425 480,470 C560,498 700,580 800,660 C880,725 935,800 955,880 L972,1000"/>
<path d="M262,470 C300,448 345,448 475,490 C555,518 690,598 788,678 C865,742 915,812 935,890 L950,1012"/>
<path d="M350,350 C390,335 440,338 560,385 C640,418 780,500 870,575 C950,640 1010,720 1030,800 L1048,930"/>
<path d="M372,372 C405,360 450,362 555,405 C635,438 770,518 858,592 C935,658 990,735 1010,812 L1026,945"/>
<path d="M392,320 C430,305 480,310 600,360 C690,398 820,470 910,545 C990,612 1050,690 1072,770 L1090,880"/>
<path d="M480,255 C520,240 570,245 700,298 C790,335 920,410 1010,485 C1090,552 1145,625 1165,700 L1182,812"/>
<path d="M498,278 C535,265 580,268 695,318 C785,355 912,430 1000,503 C1075,568 1125,638 1145,712 L1160,828"/>
<path d="M520,225 C560,212 610,218 740,268 C830,305 960,380 1050,455 C1130,522 1190,595 1210,665 L1226,770"/>
<path d="M640,160 C690,150 760,160 900,212 C990,250 1100,320 1185,420 C1240,490 1270,560 1280,625 L1290,705"/>
<path d="M700,102 C780,110 900,150 1020,215 C1120,275 1240,380 1320,470 C1370,530 1395,590 1400,640"/>
</g>
<path class="k" d="M800,375 L855,340 M810,388 L865,352 M665,480 L720,445 M675,492 L730,458"/>
<!-- rib vertical drops at right side -->
<path class="l" d="M972,1000 L960,1012 M1048,930 L1030,945 M1090,880 L1105,870 M1182,812 L1160,828 M1226,770 L1240,760"/>
<!-- face panel lines -->
<path class="l" d="M130,640 C170,650 200,665 230,700 C280,740 330,755 360,762 L560,850 L700,932 L780,922 C810,960 835,1010 845,1060 L860,1100"/>
<path class="l" d="M200,560 C215,600 225,660 230,700 L225,962 M350,762 L345,1042 M700,932 C685,960 680,990 682,1020 L686,1150 M780,922 L790,1000"/>
<path class="l" d="M690,1000 L790,1000"/>
<path class="t" d="M500,640 L590,570 M950,290 L1030,240 M1180,520 L1250,470 M1250,560 L1330,500 M1290,610 L1380,540 M780,860 L860,800 M860,790 L950,720 M900,750 L1000,660 M1000,640 L1090,560 M1100,560 L1180,480 M700,932 L760,880 L840,830 M640,160 L660,180 M590,175 L612,200"/>
<!-- vent grille -->
<path class="b" d="M320,672 L366,630 L540,720 L492,770 Z"/>
<path class="w" d="M335,675 l36,-34 l3,2 l-36,34 Z M350,683 l36,-34 l3,2 l-36,34 Z M365,691 l36,-34 l3,2 l-36,34 Z M380,699 l36,-34 l3,2 l-36,34 Z M395,707 l36,-34 l3,2 l-36,34 Z M410,715 l36,-34 l3,2 l-36,34 Z M425,723 l36,-34 l3,2 l-36,34 Z M440,731 l36,-34 l3,2 l-36,34 Z M455,739 l36,-34 l3,2 l-36,34 Z M470,747 l36,-34 l3,2 l-36,34 Z M485,755 l36,-34 l3,2 l-36,34 Z"/>
</g>
<!-- 31_base54.svg -->
<g transform="translate(1150,415) scale(.2)">
<!-- outer wall -->
<path class="fk" d="M20,780 L60,730 L110,680 L240,545 L370,430 L530,300 L650,205 L770,175 L830,145 L848,108 L880,130 L900,200 C920,240 960,262 990,265 L1000,235 L1060,215 L1078,240 L1030,282 L1100,330 L1180,390 L1260,450 L1340,510 L1400,560 L1450,590 L1456,625 L1420,642 L1390,690 L1386,900 L1300,1000 L1200,1040 L1130,1062 L1050,1140 L950,1230 L820,1312 L650,1300 L600,1270 L540,1262 C500,1250 450,1200 430,1150 L400,1110 L280,1060 L170,1000 L80,940 L40,860 Z"/>
<!-- rim inner edge -->
<path class="k" d="M62,770 L125,700 L255,568 L385,452 L545,322 L660,232 L760,205 M1040,300 L1110,352 L1190,412 L1270,472 L1345,530 L1395,575 L1380,640 L1290,735 L1190,825 L1090,905 L990,985 L890,1075 L812,1125 L752,1145 L650,1165 M62,770 L75,845 L110,915 L185,968 L290,1030 L405,1082"/>
<path class="l" d="M45,775 L110,705 L245,558 L378,442 L538,312 L655,218 L765,190 M1035,290 L1105,342 L1185,402 L1265,462 L1342,520 L1410,575 L1400,640 L1300,748 L1195,838 L1095,918 L995,998 L895,1088 L816,1138 L756,1158 L645,1178"/>
<!-- scallop -->
<path class="k" d="M405,1082 C420,1120 440,1160 480,1195 C520,1225 580,1230 620,1195 L650,1165 M430,1150 C470,1215 560,1255 620,1230 L640,1190"/>
<path class="l" d="M480,1195 C500,1150 540,1140 580,1150 M620,1195 L600,1270 M540,1262 C550,1240 570,1225 600,1220"/>
<!-- saddle -->
<path class="l" d="M830,145 C830,200 860,260 900,290 L930,300 M770,175 L770,260 L800,320 L900,380 L920,300 M900,200 L890,230 M880,130 C890,180 920,225 960,250 M930,300 L990,265"/>
<path class="l" d="M1015,245 a22,12 -20 1,0 44,-14 a22,12 -20 1,0 -44,14"/>
<circle class="l" cx="848" cy="108" r="8"/><circle class="l" cx="900" cy="290" r="8"/>
<!-- pegs on left rim -->
<g class="l"><path d="M540,330 a18,18 0 1,0 36,0 a18,18 0 1,0 -36,0 M545,345 L548,370 L575,365 L573,342 M175,665 a18,18 0 1,0 36,0 a18,18 0 1,0 -36,0 M178,678 L182,705 L210,700 L208,676 M680,440 a22,22 0 1,0 44,0 a22,22 0 1,0 -44,0 M692,440 a10,10 0 1,0 20,0 a10,10 0 1,0 -20,0 M660,420 L670,480 L700,500"/>
<path d="M365,420 a12,12 0 1,0 24,0 a12,12 0 1,0 -24,0 M230,535 a12,12 0 1,0 24,0 a12,12 0 1,0 -24,0 M1105,335 a12,12 0 1,0 24,0 a12,12 0 1,0 -24,0 M1420,600 l25,-6 l4,22 l-25,6 Z"/></g>
<!-- left inner wall ribs -->
<g class="l">
<path d="M255,568 L250,620 L300,830 L320,800 L290,640 L350,600 L385,452 M385,452 L395,500 L440,780 L470,760 L440,560 L500,520 L545,322"/>
<path d="M545,322 L560,380 L600,600 L640,580 L610,400 L660,360 L660,232 M290,640 L300,600 M440,560 L450,520 M610,400 L620,360"/>
<path d="M125,700 L120,760 L160,900 L300,830 M160,900 L185,968 M120,760 L240,720"/>
<path d="M300,830 L360,790 L440,780 L520,740 L600,600 L700,500 L800,320"/>
<path d="M360,790 L330,830 L550,900 L560,860 M440,780 L470,690 L520,700 L520,740"/>
</g>
<!-- floor panels -->
<g class="l">
<path d="M160,900 L200,920 L410,960 L300,1030 M200,920 C260,880 340,880 410,960 M330,830 C400,860 480,890 550,900 M520,740 C580,720 660,730 720,760 M600,600 L720,640 L820,680 M640,580 L760,610 M700,500 L890,470 M800,320 L920,300 M720,360 L880,400 L900,380 M700,390 L860,440 L880,400"/>
<path d="M560,780 C600,770 650,775 690,790 M540,700 C600,690 680,700 740,730 M580,640 L700,670 L780,700"/>
<path d="M410,960 L560,900 M300,1030 L500,1060 L640,1190 M500,1060 C540,1040 580,1040 620,1060 L760,1150 M620,1060 L640,1000 L760,1080 L812,1125"/>
</g>
<!-- central divider -->
<path class="fk" d="M555,860 L580,830 L830,690 L820,600 L850,570 L1000,440 L1020,380 L1130,440 L1130,520 L1040,640 L1020,700 L940,740 L900,790 L700,900 L640,960 L600,980 L555,975 Z"/>
<path class="l" d="M580,830 L600,980 M630,850 L650,950 L700,900 M830,690 L840,760 L900,790 M850,570 L880,580 L1010,460 L1000,440 M880,580 L880,640 L940,680 L1040,640 M1020,380 L1010,460 L1110,520 L1130,440 M1110,520 L1040,640 M940,680 L940,740"/>
<path class="l" d="M860,600 C880,590 910,600 920,630 C930,660 960,660 980,640 M870,620 C890,650 920,670 950,665 M900,590 L920,630"/>
<path class="l" d="M700,900 L700,960 L760,1080 M760,880 L770,1060 M820,860 L830,1030 L912,1070 M900,790 L920,1010 M880,850 L960,920 L1000,985 M920,830 L1020,900 L1090,905 M960,760 L1100,850 L1190,825 M1020,700 L1160,790 M1040,640 L1290,735"/>
<path class="l" d="M840,900 L900,950 M860,880 L930,940 M960,930 L940,960"/>
<!-- right inner wall -->
<g class="l">
<path d="M1130,440 L1150,560 L1190,600 L1220,480 L1270,472 M1190,600 L1380,640 M1230,500 L1240,580 M1280,520 L1290,610 M1320,540 L1335,620 M1130,520 L1160,570"/>
<path d="M990,985 L1000,1010 M1090,905 L1095,925 M1190,825 L1200,850 M1290,735 L1300,760"/>
</g>
<!-- outer right wall ribs -->
<g class="l">
<path d="M1390,690 L1340,760 L1335,960 M1360,740 L1355,935 M1300,790 L1295,1000 M1280,810 L1275,1010 M1240,840 L1235,1030 M1200,870 L1200,1040 M1180,890 L1180,1048 M1130,925 L1130,1062 M1060,980 L1050,1140 M1040,995 L1030,1155 M1000,1030 L990,1195 M950,1070 L945,1230 M930,1085 L925,1245 M900,1110 L895,1265 M850,1140 L850,1295 M820,1152 L820,1312 M760,1170 L760,1308 M700,1180 L705,1303 M650,1190 L650,1300"/>
<path d="M650,1250 L820,1262 L950,1180 L1050,1090 L1130,1020 M1200,990 L1300,950 L1386,850"/>
</g>
<!-- clips on rim -->
<g class="l"><path d="M160,965 l20,12 l-4,40 l-20,-12 Z M370,1075 l22,10 l-2,42 l-22,-10 Z M660,1175 l24,-4 l4,36 l-24,4 Z M900,1085 l20,-14 l8,30 l-20,14 Z M1070,920 l18,-14 l8,30 l-18,14 Z M1200,800 l18,-14 l8,30 l-18,14 Z M40,860 L20,870 L25,900 L50,890"/></g>
<path class="t" d="M120,780 L260,640 M100,860 L150,820 M700,1220 L820,1230 L940,1150 M130,830 L280,700"/>
<!-- extra detail -->
<g class="l">
<path d="M50,800 L88,890 L178,955 L288,1015 L402,1062 M30,790 L20,780 M70,905 L95,935 M200,985 L215,1010 M320,1040 L330,1068"/>
<path d="M270,585 L262,630 L312,815 M400,470 L408,512 L452,770 M560,340 L575,392 L612,590 M300,600 L352,580 M452,520 L500,500 M622,362 L665,340"/>
<path d="M312,815 L330,800 L300,650 M452,770 L470,750 L445,580 M612,590 L632,575 L612,420"/>
<path d="M180,930 C240,880 340,870 420,940 M200,960 C260,915 330,905 395,960 M230,990 C275,955 325,950 370,985 M340,800 C420,830 500,860 560,870 M350,815 C430,845 505,875 556,885"/>
<path d="M520,760 C590,740 670,750 730,785 M530,780 C600,762 670,772 720,805 M545,720 C610,705 680,715 745,745 M600,620 L700,655 L790,690 M610,640 L700,675 M650,560 L780,600 L825,640"/>
<path d="M720,380 L870,420 M730,400 L860,455 M760,330 L800,340 M800,320 L815,360 L900,385"/>
<path d="M640,1000 L650,1060 L770,1140 M700,1000 L720,1060 L800,1120 M770,880 L780,1050 M830,870 L842,1020 M870,860 L950,925 M900,840 L990,910 M940,810 L1040,880 M1000,770 L1110,845"/>
<path d="M1150,560 L1380,610 M1160,580 L1370,630 M1230,490 L1255,575 M1300,530 L1320,612 M1200,470 L1195,585"/>
<path d="M1340,770 L1380,700 M1300,800 L1340,770 M1240,850 L1280,815 M1130,935 L1180,895 M1060,990 L1100,955 M950,1080 L1000,1040 M850,1150 L900,1120"/>
<path d="M660,1220 L820,1235 L950,1155 L1050,1065 L1130,995 L1200,965 L1300,925 L1386,825"/>
<path d="M560,1100 C590,1085 620,1090 640,1110 M500,1150 C530,1120 580,1120 610,1150"/>
</g>
<path class="k" d="M555,860 L580,830 L830,690 M820,600 L850,570 L1000,440 L1020,380 L1130,440"/>
</g>
<!-- 32_manifold64.svg -->
<g transform="translate(205,505) scale(.2)">
<!-- bolts -->
<defs><g id="bolt84">
<path d="M0,-9 L105,13 L103,27 L-2,7 Z" fill="#fff" stroke="#111" stroke-width="1.4"/>
<path class="k" d="M30,-2 L28,12 M42,0 L40,14 M54,3 L52,17 M66,5 L64,19 M78,8 L76,22 M90,10 L88,24"/>
<ellipse cx="0" cy="0" rx="13" ry="15" fill="#222" stroke="#111" stroke-width="1.2"/><ellipse class="w" cx="-2" cy="-1" rx="4" ry="5"/>
</g></defs>
<use href="#bolt84" x="655" y="75"/><use href="#bolt84" x="520" y="150"/><use href="#bolt84" x="410" y="212"/><use href="#bolt84" x="695" y="240"/>
<use href="#bolt84" x="278" y="290"/><use href="#bolt84" x="565" y="320"/><use href="#bolt84" x="170" y="352"/><use href="#bolt84" x="455" y="382"/>
<use href="#bolt84" x="35" y="432"/><use href="#bolt84" x="320" y="460"/><use href="#bolt84" x="210" y="525"/><use href="#bolt84" x="78" y="600"/>
<!-- back blocks behind flanges -->
<path class="fk" d="M560,480 L700,410 L760,380 L880,330 L1000,270 L1090,215 L1180,170 L1200,148 L1250,150 L1270,170 L1180,450 L940,590 L700,720 L600,700 Z"/>
<path class="l" d="M700,410 L720,440 L790,450 M760,380 L860,400 L880,390 M1000,270 L1020,310 M1090,215 L1110,250 L1120,250 M880,330 L900,370 M620,460 L640,530 M1180,170 L1200,195 M1200,148 L1215,175"/>
<path class="l" d="M740,420 L840,375 L870,395 M985,300 L1075,250 L1105,262 M600,490 L690,440"/>
<!-- throttle body casting -->
<path class="fk" d="M520,520 L560,480 L620,500 L660,560 L680,640 L700,720 L720,740 L700,770 L640,760 L560,800 L520,700 Z"/>
<path class="l" d="M560,480 L590,560 L640,600 L660,700 L640,760 M590,560 L540,600 M640,600 L600,640 L620,720 M600,640 L560,650 M660,560 L640,600 M680,640 L720,660 M600,700 L560,740"/>
<path class="k" d="M610,520 L650,600 L670,690"/>
<path class="l" d="M700,410 L790,372 L880,330 M760,380 L775,350 L860,315 L880,330 M1000,270 L1012,240 L1095,200 L1090,215 M940,300 L1000,270 M1180,170 L1170,150 L1200,148"/>
<path class="l" d="M745,395 L752,420 M800,372 L808,398 M850,350 L860,376 M985,285 L994,310 M1040,258 L1050,284 M905,330 L935,318 L945,345"/>
<path class="l" d="M540,520 L600,500 M530,560 L585,545 M525,620 L570,610 M530,680 L590,660 L640,680 M560,760 L600,740 L650,750 M610,520 L640,500 L700,520"/>
<path class="k" d="M520,520 L520,700 L560,800"/>
<!-- flanges -->
<g id="fl64">
<path class="fk" transform="translate(-10,7)" d="M650,520 C640,505 650,490 665,488 L770,440 C790,432 805,445 808,462 L822,520 C835,525 840,540 835,555 L850,615 C855,635 845,650 828,655 L725,712 C705,720 690,710 688,692 L676,640 C662,632 660,618 666,605 Z"/>
<path class="fk" d="M650,520 C640,505 650,490 665,488 L770,440 C790,432 805,445 808,462 L822,520 C835,525 840,540 835,555 L850,615 C855,635 845,650 828,655 L725,712 C705,720 690,710 688,692 L676,640 C662,632 660,618 666,605 Z"/>
<path class="l" d="M685,535 C678,528 682,518 692,514 L740,492 C750,488 758,494 756,502 C754,510 748,514 740,517 L696,538 C690,540 688,538 685,535 Z"/>
<path class="l" d="M700,600 C690,570 700,548 730,535 C770,520 800,535 808,570 C815,610 800,640 770,655 C735,670 708,640 700,600 Z"/>
<path class="l" d="M700,610 C730,625 780,615 810,590 M716,648 L826,596"/>
<circle class="l" cx="668" cy="510" r="8"/><circle class="l" cx="786" cy="458" r="8"/><circle class="l" cx="832" cy="632" r="8"/><circle class="l" cx="708" cy="694" r="8"/><circle class="l" cx="672" cy="620" r="7"/><circle class="l" cx="826" cy="540" r="7"/><circle class="l" cx="760" cy="485" r="5"/>
</g>
<use href="#fl64" x="240" y="-140"/><use href="#fl64" x="480" y="-280"/>
<!-- injector bosses -->
<g id="inj64"><ellipse class="fk" cx="852" cy="520" rx="38" ry="44" transform="rotate(-20 852 520)"/><ellipse class="k" cx="855" cy="520" rx="26" ry="32" transform="rotate(-20 855 520)"/><ellipse class="b" cx="858" cy="520" rx="12" ry="20" transform="rotate(-20 858 520)"/>
<path class="l" d="M820,560 L830,600 L870,590 L885,555"/></g>
<use href="#inj64" x="242" y="-142"/>
<!-- bellows / rings -->
<g class="fk"><ellipse cx="470" cy="690" rx="75" ry="125" transform="rotate(-18 470 690)"/><ellipse cx="445" cy="695" rx="75" ry="125" transform="rotate(-18 445 695)"/><ellipse cx="420" cy="700" rx="75" ry="125" transform="rotate(-18 420 700)"/><ellipse cx="395" cy="705" rx="75" ry="125" transform="rotate(-18 395 705)"/><ellipse cx="365" cy="712" rx="78" ry="128" transform="rotate(-18 365 712)"/></g>
<path class="l" d="M300,600 C330,560 400,550 450,570"/>
<ellipse class="fk" cx="318" cy="758" rx="72" ry="112" transform="rotate(-18 318 758)"/>
<ellipse class="k" cx="322" cy="757" rx="62" ry="100" transform="rotate(-18 322 757)"/>
<path class="f" d="M250,720 C262,650 320,640 350,660 L392,690 C410,760 390,830 350,860 L300,850 C255,830 240,780 250,720 Z" style="stroke:none"/>
<ellipse class="k" cx="300" cy="765" rx="56" ry="95" transform="rotate(-18 300 765)"/>
<ellipse class="l" cx="306" cy="764" rx="46" ry="84" transform="rotate(-18 306 764)"/>
<path class="l" d="M330,668 C370,690 395,750 385,830 M250,745 L275,742"/>
<!-- elbow fitting top -->
<path class="fk" d="M398,478 C390,462 405,445 425,450 L445,440 C470,425 505,440 510,470 L520,520 L470,540 L440,520 L445,490 L420,495 Z"/>
<path class="l" d="M445,440 C455,470 470,500 470,540 M460,432 C475,460 490,495 492,530 M410,460 a8,8 0 1,0 16,0 a8,8 0 1,0 -16,0 M440,520 L400,540 L380,580"/>
<!-- bottom bracket -->
<path class="fk" d="M440,840 L470,825 L500,830 L520,800 L560,800 L560,840 L540,860 L500,862 L480,875 L450,870 Z"/>
<path class="l" d="M470,825 L478,870 M500,830 L502,860 M520,800 L540,830 L540,860"/>
<path class="l" d="M680,760 L700,775 L720,760 L715,735"/>
</g>
<!-- 33_cover17.svg -->
<g transform="translate(450,195) scale(.2)">
<!-- silhouette fill -->
<path class="fk" d="M85,440 L160,372 C200,350 285,348 330,372 L322,300 L400,233 C450,205 530,208 600,232 L565,160 L640,95 C700,62 800,70 910,110 L1070,92 L1315,232 L1318,246 L432,668 L400,660 L195,572 L135,545 C105,520 90,480 85,440 Z"/>
<!-- hump1 -->
<path class="l" d="M160,372 C162,410 170,445 180,476 M172,370 C175,405 182,440 192,472"/>
<path class="l" d="M330,372 L425,395 M180,476 L245,480 L335,487 C380,500 400,525 430,530 C470,535 510,528 540,522 C580,512 620,500 640,495 L720,470"/>
<!-- hump2 -->
<path class="l" d="M322,300 L385,388 L425,395 M400,233 C405,285 420,335 440,372 M412,230 C418,280 432,330 452,366"/>
<path class="l" d="M600,232 L665,255 M425,395 L455,368 C490,360 540,362 590,375 C630,390 680,425 720,435 C760,440 790,435 800,430"/>
<path class="k" d="M455,368 C490,400 525,460 555,520 M425,395 C470,430 510,480 540,525"/>
<path class="l" d="M440,385 C480,415 518,470 548,522"/>
<!-- cutout in hump 2 -->
<path class="fk" d="M460,305 C465,275 510,255 560,258 L632,270 C640,290 580,335 535,350 C500,358 468,340 460,305 Z"/>
<path class="l" d="M470,320 L520,262 M480,335 L555,262 M495,345 L585,265 M515,350 L610,270 M470,320 C490,310 520,320 535,350"/>
<!-- hump3 -->
<path class="l" d="M565,160 L655,250 L665,255 M640,95 C645,145 665,200 692,238 M652,92 C658,140 678,196 704,234"/>
<path class="l" d="M665,255 L692,238 C740,222 790,222 830,235 C870,255 910,285 950,295 C990,300 1020,292 1042,284"/>
<path class="k" d="M692,238 C740,270 780,340 812,420 M665,255 C715,290 760,350 795,428"/>
<path class="l" d="M680,247 C728,280 772,345 804,424"/>
<path class="k" d="M910,110 C960,140 1012,205 1042,284 M925,108 C975,140 1028,205 1058,278"/>
<!-- right tab -->
<path class="l" d="M910,110 L1000,150 L1170,250 L1225,275 L1315,232 M1000,150 L1058,278 M1170,250 L1042,284 M1170,250 L1130,330 L1115,345 M1225,275 L1228,290 L1318,246 M1130,330 L1228,290 M1132,345 L1228,300"/>
<!-- front strip -->
<path class="l" d="M1115,345 L720,470 M1120,352 L432,655 M1130,360 L432,662 M195,572 L245,480 M200,565 L400,652 L432,655"/>
<path class="l" d="M1075,325 C1085,318 1100,322 1105,335 L1118,348"/>
<!-- logo squiggles -->
<path class="k" d="M720,478 L790,452 M722,486 L792,460 M726,494 L794,468 M800,446 L850,430 M805,454 L855,438 M890,410 L900,405 L905,415 L935,400 L940,388 L975,378 M985,372 C995,360 1020,350 1045,350 L1055,352 L1030,375 L1005,380 Z M1000,360 L1015,378 M1020,355 L1030,372"/>
<path class="l" d="M790,452 L800,475 L880,445 L885,458 L830,480 M880,445 L870,425"/>
<!-- left rod & clip -->
<path class="fk" d="M238,478 L252,488 L112,700 L98,690 Z"/>
<path class="k" d="M175,545 L195,640 L210,660 L205,610 M200,600 L225,590 L245,605"/>
<path class="l" d="M85,440 C95,490 110,525 135,545 M135,545 L195,572"/>
</g>
<!-- part 7 label plate -->
<path class="k" d="M793.3,274.7 L768.7,261.2 Q767.4,260.3 768.4,259.3 L776.4,251.9 Q777.6,251 779,251.8 L809,268.6 Q810.6,269.8 809.6,271.4 L802.2,279 Q800.8,280.2 799.2,279.4 L797.3,278.3" style="stroke-width:1.2"/>
<path d="M783.4,266.6 L790.2,270.2" stroke="#111" stroke-width="2" fill="none"/>
<!-- 34_hose30.svg -->
<g transform="translate(440,420) scale(.27027)">
<!-- hose 30: tube ~55 wide, drawn as thick white stroke with outline -->
<path d="M725,580 C660,590 590,560 565,500 C545,440 580,385 650,375 C715,368 755,392 800,420 C850,452 890,452 940,415 L1300,170 C1340,145 1420,135 1480,160 L1700,260 L1940,370" fill="none" stroke="#111" stroke-width="16.5" stroke-linecap="butt"/>
<path d="M725,580 C660,590 590,560 565,500 C545,440 580,385 650,375 C715,368 755,392 800,420 C850,452 890,452 940,415 L1300,170 C1340,145 1420,135 1480,160 L1700,260 L1940,370" fill="none" stroke="#fff" stroke-width="14" stroke-linecap="butt"/>
<path class="t" d="M700,565 C650,570 610,545 595,500 C580,455 610,415 660,405 C715,398 755,420 800,448 C850,478 900,478 955,440 L1310,200 C1350,175 1420,165 1475,190 L1700,290 L1930,395"/>
<path class="l" d="M575,395 L612,432 M630,370 L640,410 M680,362 L675,402 M735,368 L715,408 M745,410 L770,372 M830,458 L852,418 M885,462 L870,420 M575,520 L605,495 M620,575 L640,540 M1300,172 L1330,210 M1340,150 L1350,195 M1800,305 L1785,345 M1850,330 L1835,368"/>
<!-- end cap with clamp at lower end -->
<path class="fk" d="M700,545 C715,530 740,530 750,550 C758,575 750,595 735,605 L705,600 C690,585 690,560 700,545 Z"/>
<path class="b" d="M705,552 l38,-8 l2,8 l-38,8 Z M706,572 l40,-8 l2,8 l-40,8 Z"/>
<path class="l" d="M720,535 L725,602"/>
</g>
<g transform="translate(850,460) scale(.22297)">
<!-- hose 30 right end -->
<ellipse class="fk" cx="530" cy="246" rx="24" ry="39" transform="rotate(-18 530 246)"/>
<ellipse class="l" cx="534" cy="246" rx="13" ry="22" transform="rotate(-18 534 246)"/>
<path class="k" d="M480,195 L520,205 M482,203 L518,212"/>
</g>
<!-- clips 65 -->
<g transform="translate(440,420) scale(.27027)">
<g id="clip65">
<path class="fk" d="M905,572 C872,582 850,615 858,642 C865,662 892,668 915,656 L938,642 L952,632 L957,660 L938,668 L925,662 C900,650 892,615 912,578 Z"/>
<path class="k" d="M912,578 C892,612 898,645 925,662 M870,600 C862,625 868,648 885,658"/>
<path class="k" d="M922,662 L926,686 L936,690 L939,672 L947,672 L950,688 L958,680 L957,660"/>
</g>
<use href="#clip65" x="358" y="-208"/>
</g>
<!-- 35_hose49_50.svg -->
<g transform="translate(1060,325) scale(.2)">
<!-- 49 body -->
<path class="fk" d="M500,110 C400,160 300,250 240,320 C170,400 100,490 55,565 C70,620 150,680 240,690 C280,620 330,550 360,520 C400,480 440,430 480,400 C520,370 570,330 600,300 C660,260 700,200 670,140 C650,100 610,80 590,85 Z"/>
<!-- top threaded band -->
<path class="b" d="M500,110 L590,85 C640,95 690,160 680,215 C672,260 640,285 600,300 C612,260 600,220 575,185 C555,150 530,125 500,110 Z"/>
<path d="M512,112 C545,135 580,180 600,225 C610,255 612,280 606,298" fill="none" stroke="#fff" stroke-width="1"/>
<g fill="none" stroke="#888" stroke-width=".5"><path d="M525,105 C575,130 620,190 625,290 M545,100 C600,125 645,190 645,278 M565,94 C625,120 665,185 662,262 M580,88 C645,112 682,180 675,240"/></g>
<!-- bottom threaded band -->
<path class="b" d="M55,565 L130,480 C150,520 220,580 285,598 L240,690 C150,680 70,620 55,565 Z"/>
<g fill="none" stroke="#999" stroke-width=".6"><path d="M70,548 C95,600 175,655 250,668 M85,532 C110,582 190,636 260,648 M100,515 C125,565 200,618 270,630 M115,498 C140,548 212,600 278,613"/></g>
<path class="l" d="M200,385 C250,400 320,450 358,505"/>
<!-- 50 flange -->
<path class="fk" d="M818,250 C805,215 840,180 890,180 C960,180 1040,235 1070,295 C1085,330 1075,365 1040,372 L1000,375 L985,385 L850,330 Z"/>
<path class="l" d="M860,185 L870,225 M990,300 C1000,330 1000,355 990,380 M1000,375 C1020,360 1050,355 1065,335"/>
<!-- clip -->
<path class="fk" d="M990,385 C985,370 1000,360 1020,365 L1045,375 C1055,385 1050,400 1040,405 L1010,415 C995,410 990,400 990,385 Z"/>
<circle class="l" cx="1010" cy="398" r="10"/>
<!-- tube body -->
<path class="fk" d="M830,300 L640,610 C600,650 590,700 620,740 C660,790 740,800 790,770 C820,750 840,710 850,680 L990,380 C960,330 880,290 830,300 Z"/>
<!-- boss -->
<path class="fk" d="M830,290 L855,230 L920,240 L945,268 L915,330 L850,320 Z"/>
<path class="l" d="M855,230 L870,262 L850,320 M870,262 L945,268 M905,262 L925,290 L915,300 L935,300"/>
<path class="l" d="M780,400 C830,405 900,440 925,475 M790,385 C840,390 910,425 935,460 M660,580 C720,580 820,620 858,660 M668,565 C728,565 828,605 866,645 M810,320 L660,580 M975,400 L860,650"/>
<circle class="l" cx="738" cy="568" r="6"/>
<!-- bottom opening -->
<ellipse class="fk" cx="702" cy="700" rx="110" ry="72" transform="rotate(25 702 700)"/>
<ellipse class="k" cx="700" cy="706" rx="98" ry="60" transform="rotate(25 700 706)"/>
<path class="l" d="M650,665 C690,700 750,720 790,715"/>
</g>
<!-- 36_hose51.svg -->
<g transform="translate(950,470) scale(.14866)">
<!-- 70 clamp -->
<ellipse class="fk" cx="340" cy="380" rx="50" ry="66" transform="rotate(25 340 380)"/>
<ellipse class="k" cx="348" cy="378" rx="38" ry="54" transform="rotate(25 348 378)"/>
<path class="fk" d="M285,360 L320,350 L325,395 L300,440 L285,430 Z"/>
<path class="k" d="M280,380 L300,372 M282,395 L305,388 M330,352 C360,345 385,360 390,385"/>
<!-- 35 fitting -->
<path class="fk" d="M490,430 C495,410 515,400 535,408 L600,435 L590,495 L520,480 C495,470 485,450 490,430 Z"/>
<path class="l" d="M520,405 C508,425 508,455 520,480 M560,420 L552,485"/>
<path class="fk" d="M590,445 C600,425 630,425 655,440 C680,455 685,490 670,515 C655,535 620,540 600,525 C585,510 580,470 590,445 Z"/>
<ellipse class="k" cx="645" cy="485" rx="26" ry="36" transform="rotate(20 645 485)"/>
<ellipse class="l" cx="650" cy="487" rx="14" ry="22" transform="rotate(20 650 487)"/>
<path class="l" d="M605,440 C595,470 598,505 612,528 M585,500 L600,535 L625,540"/>
<!-- 51: upper cuff -->
<path class="fk" d="M1075,95 C1120,65 1220,70 1290,110 C1330,135 1345,170 1345,200 L1320,310 C1300,360 1260,420 1230,450 L1190,500 L1130,640 L1010,560 L900,420 L960,330 L1010,300 Z"/>
<path class="k" d="M1085,110 C1130,85 1215,90 1280,128 C1320,152 1338,185 1335,215 M1075,95 C1060,120 1050,150 1055,175 C1110,150 1220,170 1290,230 L1320,310"/>
<path class="l" d="M1055,175 L960,330 M1100,160 L1010,320 M1160,230 L1100,340 L1120,350 L1170,250 M1250,300 L1200,390 L1215,400 L1262,320 M1290,230 C1300,260 1295,290 1280,310"/>
<!-- middle clamp band region -->
<path class="fk" d="M900,420 C880,400 900,370 940,360 L1010,340 C1080,340 1160,390 1195,450 C1215,490 1205,540 1190,560 L1130,640 C1060,560 980,470 900,420 Z"/>
<path class="k" d="M940,360 C1010,360 1100,420 1140,490 C1160,530 1155,580 1130,640 M1010,340 C1000,370 1010,420 1030,450 M960,400 L1030,430 L1050,470 L1000,480"/>
<path class="l" d="M1150,420 C1180,470 1185,520 1170,560 M1100,380 L1190,440 M1080,400 L1175,470 M980,380 L1040,395 L1050,440 M905,430 L920,470 L990,500 L1010,560"/>
<path class="b" d="M1000,375 l30,8 l-3,10 l-30,-8 Z M1085,540 l20,18 l-8,10 l-20,-18 Z"/>
<!-- bellows rings -->
<g class="fk">
<ellipse cx="960" cy="640" rx="130" ry="165" transform="rotate(-32 960 640)"/>
<ellipse cx="930" cy="665" rx="130" ry="165" transform="rotate(-32 930 665)"/>
<ellipse cx="900" cy="690" rx="130" ry="165" transform="rotate(-32 900 690)"/>
<ellipse cx="870" cy="712" rx="128" ry="162" transform="rotate(-32 870 712)"/>
<ellipse cx="845" cy="735" rx="125" ry="158" transform="rotate(-32 845 735)"/>
</g>
<ellipse class="k" cx="850" cy="735" rx="112" ry="145" transform="rotate(-32 850 735)"/>
<ellipse class="l" cx="870" cy="725" rx="88" ry="118" transform="rotate(-32 870 725)"/>
<ellipse class="l" cx="882" cy="718" rx="72" ry="100" transform="rotate(-32 882 718)"/>
<ellipse class="k" cx="892" cy="712" rx="56" ry="82" transform="rotate(-32 892 712)"/>
<ellipse class="b" cx="905" cy="705" rx="38" ry="62" transform="rotate(-32 905 705)" style="fill:#777;stroke:#444"/>
<!-- front lip ring -->
<ellipse class="k" cx="800" cy="750" rx="105" ry="150" transform="rotate(-32 800 750)" style="fill:none"/>
<ellipse class="l" cx="808" cy="748" rx="96" ry="140" transform="rotate(-32 808 748)"/>
<path class="l" d="M720,820 L765,785"/>
<!-- 73 clamp -->
<ellipse class="k" cx="262" cy="1110" rx="118" ry="165" transform="rotate(-32 262 1110)"/>
<ellipse class="l" cx="270" cy="1112" rx="108" ry="152" transform="rotate(-32 270 1112)"/>
<path class="k" d="M180,1190 C220,1240 290,1262 345,1240 M190,1205 C230,1250 290,1272 340,1252"/>
<path class="fk" d="M300,1060 L345,1035 L370,1020 L395,1050 L410,1120 L395,1135 L370,1100 L320,1100 Z"/>
<path class="b" d="M350,1030 l28,-12 l22,40 l10,60 l-14,10 l-10,-50 Z"/>
<path class="w" d="M362,1050 l22,-8 l2,5 l-22,8 Z M370,1072 l22,-8 l2,5 l-22,8 Z M376,1094 l22,-8 l2,5 l-22,8 Z"/>
<path class="l" d="M300,1060 L305,1098 L335,1092 L332,1048"/>
</g>
<!-- bolts 12 and clip 88 -->
<g transform="translate(1150,415) scale(.2)">
<g id="b12"><path class="fk" d="M1010,50 C1010,42 1035,42 1035,50 L1035,62 L1010,62 Z"/><path class="f" d="M1017,62 L1017,105 L1029,105 L1029,62"/></g>
<use href="#b12" x="148" y="98"/>
</g>
<g transform="translate(1130,400) scale(.243)">
<path class="k" d="M625,1245 C620,1230 640,1220 655,1232 C668,1245 660,1265 645,1268 L630,1262 M640,1232 L650,1215 M632,1250 L622,1258"/>
</g>
<!-- 40_mountL.svg -->
<defs>
<g id="boltV"><!-- vertical bolt, head top center at 0,0 ; zoom4 units -->
<path class="f" d="M-11,8 L-11,95 L11,95 L11,8 Z"/>
<path class="fk" d="M-17,-2 C-17,-12 17,-12 17,-2 L17,10 C17,16 -17,16 -17,10 Z"/>
<path class="l" d="M-17,2 C-10,8 10,8 17,2 M-11,60 L11,60 M-11,70 L11,70"/>
</g>
<g id="wash13"><!-- thick washer centered 0,0 -->
<path class="fk" d="M-38,0 L-38,10 C-38,32 38,32 38,10 L38,0 Z"/>
<ellipse class="fk" cx="0" cy="0" rx="38" ry="19"/>
<ellipse class="l" cx="0" cy="-1" rx="10" ry="5"/>
</g>
<g id="wash10"><!-- flat washer centered 0,0 -->
<ellipse class="fk" cx="0" cy="3" rx="27" ry="15"/>
<ellipse class="fk" cx="0" cy="0" rx="27" ry="15"/>
<ellipse class="k" cx="0" cy="0" rx="11" ry="6"/>
</g>
</defs>
<g transform="translate(240,850) scale(.25)">
<use href="#boltV" x="470" y="405"/>
<use href="#boltV" x="606" y="440" />
<use href="#wash13" x="470" y="576"/>
<!-- tilted washer 10 -->
<g transform="translate(720,512) rotate(35)"><ellipse class="fk" cx="-3" cy="4" rx="32" ry="24"/><ellipse class="fk" cx="0" cy="0" rx="32" ry="24"/><ellipse class="k" cx="0" cy="0" rx="9" ry="7"/></g>
<!-- bolt 5 angled -->
<g transform="translate(798,398) rotate(32)"><path class="f" d="M-8,8 L-8,50 L8,50 L8,8 Z"/><path class="fk" d="M-15,-4 C-15,-14 15,-14 15,-4 L15,8 C15,14 -15,14 -15,8 Z"/></g>
<!-- mount 31 base plate -->
<path class="fk" d="M415,745 C410,730 425,715 440,708 L505,680 L560,700 L640,740 L668,715 L672,735 L650,760 L600,790 L480,782 L435,772 C422,765 415,755 415,745 Z"/>
<path class="l" d="M415,745 C420,760 440,765 470,765 L600,770 L668,715"/>
<ellipse class="k" cx="470" cy="728" rx="20" ry="11"/><ellipse class="l" cx="472" cy="730" rx="12" ry="6"/>
<!-- dome -->
<path class="fk" d="M560,612 C600,595 660,600 685,635 C700,665 690,705 670,730 C650,760 600,775 565,765 C530,750 505,720 505,685 C505,655 525,625 560,612 Z"/>
<path class="k" d="M560,612 C545,640 540,690 560,720 C580,745 620,750 650,740"/>
<ellipse class="k" cx="612" cy="655" rx="55" ry="50"/>
<ellipse class="l" cx="620" cy="655" rx="9" ry="8"/>
<path class="l" d="M520,725 C540,750 580,765 610,762 M635,640 L660,630"/>
<!-- bracket 22 -->
<path class="fk" d="M405,932 L555,842 L592,838 C590,825 598,815 612,814 C628,814 636,830 638,850 L680,870 C690,880 688,895 680,900 L600,932 L575,975 L545,992 L520,978 L470,987 L455,962 L490,952 C500,945 498,935 488,932 L470,930 L440,950 Z"/>
<path class="l" d="M600,820 C600,835 610,850 630,856"/>
<!-- plate 26 -->
<path class="fk" d="M376.8,1098.4 L395.7,1075.7 L444.9,1051.1 L471.4,1047.3 L531.9,1053.0 L641.6,1053.0 L679.5,1062.4 L736.2,1090.8 L774.1,1128.7 L819.5,1196.8 L825.2,1219.5 L819.5,1242.2 L793.0,1261.1 L747.6,1285.7 L717.3,1287.6 L660.6,1321.6 L603.8,1351.9 L596.2,1372.7 L547.0,1410.6 L535.7,1420.0 L524.3,1416.2 L486.5,1386.0 L482.7,1363.3 L460.0,1355.7 L444.9,1336.8 L450.5,1317.9 L460.0,1310.3 L433.5,1257.3 L388.1,1227.0 L380.5,1200.6 L357.8,1185.4 L338.9,1176.0 L342.7,1162.7 L361.6,1158.9 L376.8,1147.6 Z"/>
<path class="l" d="M531.9,1056.8 L566.0,1096.5 L660.6,1104.1 L732.5,1134.3 L766.5,1177.8 L787.3,1221.4"/>
<path class="l" d="M537.6,1054.9 L571.6,1090.8 L662.5,1097.6 L736.2,1127.9 L772.2,1172.2 L793.0,1217.6"/>
<path class="l" d="M384.3,1145.7 C433.5,1128.7 482.7,1113.5 516.8,1075.7 L528.1,1056.8"/>
<path class="l" d="M391.9,1151.4 C441.1,1134.3 490.3,1119.2 524.3,1081.4"/>
<path class="l" d="M391.9,1196.8 L471.4,1170.3 L566.0,1096.5"/>
<path class="l" d="M395.7,1202.4 L475.1,1176.0 L569.7,1102.2"/>
<path class="l" d="M384.3,1145.7 L391.9,1196.8 L388.1,1227.0"/>
<path class="l" d="M399.5,1227.0 L444.9,1261.1 L471.4,1302.7"/>
<path class="l" d="M410.8,1223.3 L452.4,1253.5 L478.9,1295.2"/>
<path class="l" d="M471.4,1302.7 C482.7,1280.0 509.2,1270.6 531.9,1270.6 C554.6,1270.6 577.3,1281.9 584.9,1302.7 L594.3,1340.6"/>
<path class="l" d="M497.8,1302.7 C505.4,1287.6 547.0,1283.8 562.2,1298.9 L567.9,1340.6"/>
<path class="l" d="M497.8,1302.7 L501.6,1340.6"/>
<path class="l" d="M584.9,1287.6 L649.2,1249.7 L698.4,1211.9 L721.1,1204.3"/>
<path class="l" d="M589.4,1295.2 L653.0,1257.3 L702.2,1219.5 L724.9,1211.9"/>
<path class="l" d="M694.6,1166.5 C698.4,1153.3 721.1,1149.5 736.2,1158.9 L755.2,1177.8 L785.4,1219.5"/>
<path class="l" d="M694.6,1166.5 L698.4,1211.9"/>
<path class="l" d="M709.8,1177.8 L732.5,1261.1"/>
<path class="l" d="M728.7,1166.5 L751.4,1234.6"/>
<path class="l" d="M600.0,1342.5 L660.6,1311.0 L717.3,1280.8 L747.6,1278.1"/>
<path class="l" d="M653.0,1251.6 L654.9,1314.1"/>
<path class="l" d="M721.1,1206.2 L721.1,1280.0"/>
<path class="l" d="M787.3,1221.4 L747.6,1242.2 L732.5,1261.1"/>
<path class="l" d="M444.9,1336.8 L471.4,1333.0 L486.5,1386.0"/>
<path class="l" d="M524.3,1416.2 L526.2,1393.5 L596.2,1372.7"/>
<ellipse class="k" cx="444.9" cy="1088.9" rx="29.5" ry="18.2"/>
<ellipse class="l" cx="444.9" cy="1083.2" rx="17.0" ry="10.6"/>
<path class="l" d="M427.8,1083.2 L427.8,1092.7 L437.3,1099.1 L452.4,1099.1 L461.9,1092.7 L461.9,1083.2"/>
<ellipse class="k" cx="537.6" cy="1368.9" rx="23.5" ry="15.1"/>
<ellipse class="l" cx="537.6" cy="1364.0" rx="15.1" ry="9.5"/>
<path class="l" d="M522.4,1364.0 L522.4,1372.7 L531.1,1378.4 L544.0,1378.4 L552.7,1372.7 L552.7,1364.0"/>
<ellipse class="k" cx="762.7" cy="1239.1" rx="15.9" ry="9.1"/>
<ellipse class="l" cx="762.7" cy="1240.7" rx="9.8" ry="5.3"/>
<ellipse class="l" cx="628.4" cy="1145.7" rx="7.6" ry="4.5"/>
<ellipse class="l" cx="471.4" cy="1237.6" rx="8.3" ry="4.5"/>
<ellipse class="b" cx="353.3" cy="1170.3" rx="8.3" ry="6.8"/>
<ellipse class="k" cx="465.7" cy="1334.9" rx="14.4" ry="15.1"/>
<ellipse class="b" cx="466.8" cy="1334.9" rx="6.1" ry="7.6"/>
<path class="k" d="M531.9,1418.1 L533.8,1423.8 L543.3,1423.1 L544.0,1414.3"/>
<!-- bolt 15 + washer 10 -->
<g transform="translate(760,905)"><path class="f" d="M-9,10 L-9,62 L9,62 L9,10 Z"/><path class="fk" d="M-16,-2 C-16,-10 16,-10 16,-2 L16,10 C16,15 -16,15 -16,10 Z"/><path class="l" d="M-9,45 L9,45"/></g>
<use href="#wash10" x="762" y="1033"/>
<!-- part 77 key -->
<path class="fk" d="M962,700 C965,690 985,688 992,696 L990,708 L970,716 L962,712 Z"/>
<path class="b" d="M964,703 L988,698 L988,707 L970,714 L964,711 Z"/>
</g>
<!-- 41_mountC.svg -->
<g transform="translate(590,1010) scale(.2)">
<!-- bolts 1 -->
<g transform="translate(656,66) scale(1.25)"><use href="#boltV"/></g>
<g transform="translate(845,272) scale(1.1)"><use href="#boltV"/></g>
<path class="w" d="M640,196 h34 v40 h-34 Z"/>
<path class="f" d="M642,190 L642,205 C642,214 670,214 670,205 L670,190"/>
<!-- bolt 5 angled -->
<g transform="translate(533,312) rotate(-14)"><path class="f" d="M-10,8 L-10,85 C-10,92 10,92 10,85 L10,8 Z"/><path class="fk" d="M-20,-2 C-20,-10 20,-10 20,-2 L20,8 C20,13 -20,13 -20,8 Z"/></g>
<!-- thin washer 10 -->
<g transform="translate(610,515) rotate(-25)"><ellipse class="fk" cx="0" cy="3" rx="36" ry="9"/><ellipse class="fk" cx="0" cy="0" rx="36" ry="9"/><ellipse class="l" cx="0" cy="0" rx="14" ry="3.5"/></g>
<!-- washer 13 -->
<g transform="translate(848,558) scale(1.3)"><use href="#wash13"/></g>
<!-- mount 31 base plate -->
<path class="fk" d="M583,868 C580,850 585,835 600,825 L800,715 C830,698 880,700 905,725 C920,745 918,770 900,785 L700,895 C680,908 650,918 625,912 C600,905 585,890 583,868 Z"/>
<path class="l" d="M583,868 C590,885 610,895 640,892 C670,888 690,875 705,865 L905,750 M600,825 C590,840 595,860 615,870"/>
<ellipse class="k" cx="850" cy="740" rx="28" ry="16"/><ellipse class="l" cx="854" cy="744" rx="18" ry="9"/>
<!-- lower rubber + ring -->
<path class="fk" d="M600,770 C610,800 660,810 700,800 C750,785 790,750 800,720 L790,770 C780,800 740,820 700,825 L640,820 Z"/>
<path class="l" d="M700,800 C720,790 760,790 780,800 M720,820 C730,800 760,790 790,770 M760,760 C775,770 780,790 770,810"/>
<!-- cone -->
<path class="fk" d="M625,660 C625,640 660,625 700,628 C730,630 745,645 740,660 L800,705 C805,730 760,770 700,785 C650,795 605,785 598,765 L590,700 Z"/>
<path class="k" d="M590,700 C600,730 660,745 720,730 C760,718 795,700 800,705 M598,765 C605,785 650,795 700,785"/>
<ellipse class="l" cx="682" cy="655" rx="58" ry="24" transform="rotate(-8 682 655)"/>
<ellipse class="l" cx="660" cy="660" rx="12" ry="5"/>
<path class="l" d="M690,680 L730,735 M640,676 L625,740"/>
<!-- nut -->
<ellipse class="fk" cx="650" cy="842" rx="45" ry="26"/>
<path class="fk" d="M622,828 C622,815 678,815 678,828 L678,845 C678,858 622,858 622,845 Z"/>
<ellipse class="l" cx="650" cy="828" rx="18" ry="9"/>
<path class="f" d="M640,918 L640,942 L660,942 L660,915"/>
<!-- bracket 22 -->
<path class="fk" d="M730,935 L760,920 L790,935 L845,925 C860,935 862,955 845,970 L818,982 C812,990 820,998 832,995 L872,985 L895,962 L925,987 L702,1115 L692,1106 L652,1090 C640,1088 635,1100 645,1105 L682,1120 C695,1128 690,1140 675,1135 L640,1122 L592,1087 C578,1070 585,1045 602,1036 L680,1010 Z"/>
<!-- plate 26 -->
<path class="fk" d="M404.7,1441.9 L414.9,1418.3 L448.7,1401.4 L509.5,1391.2 L533.1,1347.3 L597.3,1320.3 L637.8,1283.1 L705.4,1249.3 L732.4,1239.2 L759.5,1249.3 L786.5,1212.2 L840.6,1178.4 L874.3,1168.2 L887.9,1175.0 L921.6,1202.0 L948.7,1239.2 L968.9,1266.2 L1009.5,1276.4 L1006.1,1293.3 L975.7,1289.9 L965.6,1306.8 L975.7,1367.6 L948.7,1401.4 L894.6,1435.1 L827.0,1448.7 L786.5,1479.1 L759.5,1489.2 L678.4,1482.4 L583.8,1472.3 L536.5,1455.4 L502.7,1475.7 L475.7,1482.4 L435.1,1468.9 Z"/>
<path class="l" d="M533.1,1347.3 L570.3,1401.4 L624.3,1428.4 L773.0,1428.4 L800.0,1374.3 L840.6,1347.3 L894.6,1333.8 L948.7,1320.3 L965.6,1306.8"/>
<path class="l" d="M536.5,1401.4 L597.3,1431.8 L651.4,1443.3 L813.5,1443.3 L894.6,1435.1"/>
<path class="l" d="M854.1,1215.5 L908.1,1252.7 L941.9,1286.5 L975.7,1289.9"/>
<path class="l" d="M786.5,1212.2 L813.5,1239.2 L854.1,1215.5 L840.6,1178.4"/>
<path class="l" d="M759.5,1249.3 L813.5,1239.2"/>
<path class="l" d="M509.5,1391.2 L536.5,1401.4"/>
<path class="l" d="M462.2,1445.3 L482.4,1428.4 L516.2,1436.5 L526.4,1455.4 L536.5,1455.4"/>
<path class="l" d="M462.2,1445.3 L455.4,1462.2 L475.7,1472.3"/>
<path class="l" d="M533.1,1347.3 L556.8,1350.7 L577.0,1367.6 L570.3,1401.4"/>
<path class="l" d="M651.4,1443.3 L651.4,1475.7"/>
<path class="l" d="M827.0,1448.7 L773.0,1428.4"/>
<path class="l" d="M921.6,1202.0 L928.4,1252.7 L948.7,1273.0"/>
<ellipse class="k" cx="881.1" cy="1377.7" rx="37.2" ry="24.3"/>
<ellipse class="l" cx="879.8" cy="1368.9" rx="21.6" ry="13.5"/>
<ellipse class="l" cx="847.3" cy="1298.0" rx="8.1" ry="5.4"/>
<ellipse class="l" cx="648.0" cy="1414.9" rx="9.5" ry="6.1"/>
<ellipse class="l" cx="989.2" cy="1283.1" rx="9.5" ry="6.8"/>
<path class="l" d="M858.1,1368.9 L858.1,1382.4 L871.0,1391.2 L891.2,1391.2 L901.4,1382.4 L901.4,1368.9"/>
<!-- bolt 15 & washer 10 -->
<g transform="translate(488,1126) scale(1.15)"><path class="f" d="M-9,10 L-9,62 C-9,68 9,68 9,62 L9,10 Z"/><path class="fk" d="M-18,-2 C-18,-12 18,-12 18,-2 L18,10 C18,15 -18,15 -18,10 Z"/></g>
<g transform="translate(487,1288) scale(1.4)"><use href="#wash10"/></g>
</g>
<!-- 42_mountR.svg -->
<g transform="translate(900,840) scale(.16216)">
<g transform="translate(376,72) scale(1.6)"><use href="#boltV"/></g>
<g transform="translate(646,428) scale(1.45)"><use href="#boltV"/></g>
<g transform="translate(526,602) scale(1.5)"><path class="f" d="M-10,8 L-10,62 L10,62 L10,8 Z"/><path class="fk" d="M-18,-2 C-18,-12 18,-12 18,-2 L18,10 C18,15 -18,15 -18,10 Z"/></g>
<g transform="translate(525,768) scale(1.65)"><use href="#wash10"/></g>
<g transform="translate(647,770) scale(1.5)"><use href="#wash13"/></g>
<!-- mount 32 base -->
<path class="fk" d="M318,1075 C318,1050 350,1030 395,1020 L620,1060 L740,1205 C745,1230 735,1255 690,1285 C660,1298 620,1292 600,1280 L400,1172 C350,1140 318,1110 318,1075 Z"/>
<path class="l" d="M330,1085 C340,1120 380,1150 420,1170 L600,1262 C630,1275 680,1270 735,1225 M345,1060 C350,1090 380,1115 420,1135 L540,1195"/>
<ellipse class="k" cx="647" cy="1215" rx="36" ry="22"/><ellipse class="l" cx="650" cy="1220" rx="24" ry="12"/>
<path class="fk" d="M450,1080 L450,1160 L490,1190 L540,1130 L600,1170 L620,1100 L560,1060 Z"/>
<path class="l" d="M450,1160 L380,1100 M490,1190 L480,1110 M540,1130 L570,1230 M600,1170 L640,1130 L650,1090 M440,1100 L360,1075 L380,1045"/>
<path class="k" d="M500,1120 L560,1230 M620,1080 L680,1170"/>
<!-- ring -->
<ellipse class="fk" cx="528" cy="1030" rx="138" ry="58" transform="rotate(-5 528 1030)"/>
<ellipse class="k" cx="528" cy="1022" rx="130" ry="52" transform="rotate(-5 528 1022)"/>
<!-- cone -->
<path class="fk" d="M440,880 C445,845 500,828 540,832 C580,836 612,855 612,885 L655,1005 C640,1050 560,1075 500,1068 C450,1060 405,1035 400,1010 Z"/>
<path class="l" d="M440,890 C460,925 560,935 612,890 M400,1010 C420,1045 500,1065 560,1060 C610,1052 645,1030 655,1005"/>
<ellipse class="l" cx="525" cy="885" rx="16" ry="9"/><path class="k" d="M478,860 L495,866"/>
<path class="l" d="M600,920 L625,1040"/>
</g>
<g transform="translate(850,1050) scale(.2)">
<!-- bracket 22 right -->
<path class="fk" d="M555,95 L600,82 L800,190 L820,225 L772,238 C762,242 762,252 772,250 L858,228 C870,228 872,240 862,245 L830,265 L740,290 L700,285 L680,260 L600,215 L520,205 L480,190 L490,160 L500,130 L540,120 L565,135 C570,148 580,152 595,148 L612,142 C612,130 600,118 585,112 Z"/>
<!-- plate 27 -->
<path class="fk" d="M35,355 L330,185 L350,190 L470,260 L520,310 L560,370 L620,420 L700,470 L880,580 L1000,640 L1080,670 L1150,710 L1230,780 L1390,865 L1396,890 L1372,897 L1088,1070 L1040,1076 L990,1040 L960,990 L880,930 L830,890 L780,830 L700,780 L420,640 L370,615 L300,600 L260,570 L240,530 L150,470 L60,420 Z"/>
<path class="l" d="M35,355 C60,380 110,400 170,430 L250,470 L400,520 L470,560 L700,690 L790,740 L850,830 L880,930 M250,470 L260,570 M400,520 L410,610 M170,430 L165,480 M470,560 L480,640 L500,680 M700,690 L710,780 M790,740 L790,830 M60,420 L45,380"/>
<path class="l" d="M80,340 L330,200 M560,370 L520,420 L470,560 M620,420 L640,470 M880,580 L820,640 L790,700 M1000,640 L940,670"/>
<!-- raised rectangle -->
<path class="k" d="M250,345 C250,330 270,318 290,312 L345,298 C360,296 375,300 390,308 L520,380 C535,390 540,405 530,415 L460,455 C445,465 425,465 410,458 L270,380 C255,372 250,360 250,345 Z"/>
<path class="l" d="M265,350 C268,338 285,328 300,324 L345,312 C358,310 370,314 385,322 L505,388 C518,396 520,405 512,412 L455,445 C442,452 428,452 415,446 L285,375 C272,368 265,360 265,350 Z M270,385 L410,465 L465,462 L535,422"/>
<!-- bolt heads -->
<g class="l"><ellipse cx="320" cy="225" rx="30" ry="18"/><ellipse cx="320" cy="218" rx="18" ry="10"/><path d="M302,218 L302,230 C302,240 338,240 338,230 L338,218"/>
<ellipse cx="125" cy="338" rx="30" ry="18"/><ellipse cx="125" cy="331" rx="18" ry="10"/><path d="M107,331 L107,343 C107,353 143,353 143,343 L143,331"/>
<ellipse cx="1100" cy="972" rx="32" ry="19"/><ellipse cx="1100" cy="965" rx="19" ry="11"/><path d="M1081,965 L1081,977 C1081,988 1119,988 1119,977 L1119,965"/>
<ellipse cx="260" cy="295" rx="13" ry="8"/><ellipse cx="160" cy="385" rx="6" ry="4"/><ellipse cx="690" cy="595" rx="13" ry="8"/><ellipse cx="1300" cy="860" rx="12" ry="8"/><ellipse cx="505" cy="665" rx="5" ry="3"/><ellipse cx="722" cy="790" rx="5" ry="3"/></g>
<!-- slots -->
<g id="slot27"><path class="fk" d="M470,545 C470,520 500,495 540,475 C580,458 620,462 632,480 C640,500 625,520 600,530 C570,540 540,550 520,565 L500,600 L478,590 Z"/>
<path class="k" d="M490,545 C500,525 540,500 575,492 C600,488 612,495 608,508 M500,600 L520,565"/>
<path class="b" d="M482,540 C490,520 520,500 550,488 L556,498 C528,510 502,528 495,548 Z" style="fill:#555"/>
<ellipse class="l" cx="575" cy="502" rx="14" ry="8"/></g>
<use href="#slot27" x="198" y="115"/>
<!-- diamond raised area -->
<path class="k" d="M790,705 C800,690 830,682 870,676 L940,668 C980,668 1040,690 1085,720 C1105,735 1110,770 1105,800 C1100,830 1060,880 1020,930 L990,970 M790,705 C810,740 840,800 860,860 C875,900 900,930 940,950 L990,970"/>
<path class="l" d="M810,712 C825,700 850,696 880,692 L938,684 C975,684 1030,705 1070,732 C1088,745 1092,772 1088,798 C1082,825 1045,872 1005,920 L985,945 M940,668 C930,690 935,710 960,730 L1080,800 M960,730 L1010,700 M1085,720 L1150,710 M1105,800 L1230,780 M1020,930 L1372,880"/>
<path class="l" d="M1040,1076 L1045,1030 L1372,880 M1088,1070 L1090,1040 L1120,1045 L1118,1025 M990,1040 L1000,960 M1150,710 L1160,760 M870,676 L880,700 M1045,1030 L990,970"/>
<path class="l" d="M1372,897 C1360,890 1362,876 1378,872"/>
<!-- nuts below -->
<g id="nut27"><path class="fk" d="M553,822 C553,808 597,808 597,822 L597,840 L590,862 C585,870 565,870 560,862 L553,840 Z"/><path class="b" d="M556,818 C560,810 590,810 594,818 L594,832 L556,832 Z"/><path class="l" d="M560,845 L590,845"/></g>
<use href="#nut27" x="200" y="145"/>
<!-- bolt 15 and washer 10 right -->
<g transform="translate(1300,548) scale(1.2)"><path class="f" d="M-9,10 L-9,55 C-9,62 9,62 9,55 L9,10 Z"/><path class="fk" d="M-18,-2 C-18,-12 18,-12 18,-2 L18,10 C18,15 -18,15 -18,10 Z"/></g>
<g transform="translate(1300,722) scale(1.4)"><use href="#wash10"/></g>
</g>
<!-- 85_dashed.svg -->
<path class="d" d="M588,313 L682,676"/>
<path class="d" d="M354.6,523.8 L487,546.8 L522.5,680 L615,700"/>
<path class="d" d="M347.8,649.5 L373.5,653.5 L407.5,787.5 L505,802.5"/>
<path class="d" d="M242.4,629.2 L258.6,631.9"/>
<path class="d" d="M1051.8,593.8 L872.3,724.3"/>
<path class="d" d="M973.8,516.9 L992.7,524.7"/>
<path class="d" d="M1013.9,531.4 L1024,536"/>
<path class="d" d="M1051.8,545.9 L1064.1,550.3"/>
<path class="d" d="M475,905 L441,950"/>
<path class="d" d="M418,982 L397,1012"/>
<path class="d" d="M830,868 L984,950"/>
<path class="d" d="M671.5,1016.7 L719.4,1133.8"/>
<path class="d" d="M357,975 L357,1160"/>
<path class="d" d="M396.25,988.75 L396.25,1137.5"/>
<path class="d" d="M430,1090 L430,1122.5"/>
<path class="d" d="M720.5,1052.4 L720.5,1296.6"/>
<path class="d" d="M759.1,1088 L759.1,1268.7"/>
<path class="d" d="M686.6,1249.7 L686.6,1287.6"/>
<path class="d" d="M959.7,879.7 L959.7,1215.4"/>
<path class="d" d="M1004.7,931 L1004.7,1243.4"/>
<path class="d" d="M1109.8,1173.4 L1109.8,1221.6"/>
<path class="d" d="M1356.5,432 L1356.5,458"/>
<path class="d" d="M1386,455 L1386,497"/>
<path class="d" d="M985.1,951.2 L985.1,980"/>
<!-- 90_labels.svg -->
<line class="ld" x1="814" y1="217.5" x2="950" y2="239"/>
<line class="ld" x1="1178" y1="225" x2="1176" y2="345"/>
<line class="ld" x1="1257.5" y1="237.5" x2="1261" y2="372.5"/>
<line class="ld" x1="1419" y1="336" x2="1356" y2="422.5"/>
<line class="ld" x1="749" y1="335" x2="796" y2="274"/>
<line class="ld" x1="895" y1="574" x2="997.5" y2="532.5"/>
<line class="ld" x1="792.5" y1="592.5" x2="786" y2="547.5"/>
<line class="ld" x1="784" y1="598.4" x2="694" y2="598.4"/>
<line class="ld" x1="917.5" y1="607.5" x2="1035" y2="545"/>
<line class="ld" x1="1119" y1="717.5" x2="1097.5" y2="597.5"/>
<line class="ld" x1="1026" y1="761" x2="1002.5" y2="655"/>
<line class="ld" x1="1465" y1="725" x2="1375" y2="630"/>
<line class="ld" x1="1322.5" y1="777.5" x2="1287.5" y2="705"/>
<line class="ld" x1="324" y1="282" x2="481" y2="286"/>
<line class="ld" x1="479" y1="451.5" x2="599.5" y2="524"/>
<line class="ld" x1="143" y1="524" x2="212.5" y2="590"/>
<line class="ld" x1="172" y1="712" x2="272.5" y2="655"/>
<line class="ld" x1="410" y1="881.25" x2="438.75" y2="948.75"/>
<line class="ld" x1="370" y1="907.5" x2="418" y2="976.25"/>
<line class="ld" x1="272.5" y1="948.75" x2="367.5" y2="935"/>
<line class="ld" x1="367.5" y1="935" x2="389.5" y2="960"/>
<line class="ld" x1="272.5" y1="949.5" x2="356.25" y2="952.5"/>
<line class="ld" x1="277.5" y1="995.75" x2="350" y2="995.75"/>
<line class="ld" x1="276.25" y1="1032" x2="347.5" y2="1032"/>
<line class="ld" x1="280" y1="1086.25" x2="343.75" y2="1082.5"/>
<line class="ld" x1="286.25" y1="1129.5" x2="335" y2="1127.5"/>
<line class="ld" x1="542.5" y1="1062.5" x2="487.5" y2="1028"/>
<line class="ld" x1="507.5" y1="1112.5" x2="433.75" y2="1077.5"/>
<line class="ld" x1="490" y1="1142.5" x2="435" y2="1110"/>
<line class="ld" x1="624.6" y1="1088.7" x2="697.1" y2="1075.8"/>
<line class="ld" x1="622.4" y1="1131.6" x2="712.7" y2="1112.6"/>
<line class="ld" x1="615.7" y1="1185" x2="712.7" y2="1176.1"/>
<line class="ld" x1="606.8" y1="1244.2" x2="685.9" y2="1234.1"/>
<line class="ld" x1="597.9" y1="1285.4" x2="682.6" y2="1267.6"/>
<line class="ld" x1="866.6" y1="1052.4" x2="726.1" y2="1024.5"/>
<line class="ld" x1="866.6" y1="1052.4" x2="762.9" y2="1066.9"/>
<line class="ld" x1="826.4" y1="1139.4" x2="767.3" y2="1120.4"/>
<line class="ld" x1="829.8" y1="1220.7" x2="774" y2="1208.5"/>
<line class="ld" x1="834.2" y1="1288.8" x2="772.9" y2="1263.1"/>
<line class="ld" x1="927" y1="875.1" x2="983.6" y2="935.7"/>
<line class="ld" x1="1100.5" y1="887.5" x2="961.2" y2="850.2"/>
<line class="ld" x1="1100.5" y1="887.5" x2="1006.3" y2="920.1"/>
<line class="ld" x1="874.8" y1="946.6" x2="978.3" y2="963.6"/>
<line class="ld" x1="1099.5" y1="942.5" x2="1009.4" y2="966.8"/>
<line class="ld" x1="859.3" y1="1006.2" x2="951.9" y2="1011.8"/>
<line class="ld" x1="1099.5" y1="1060" x2="1017.2" y2="1095.7"/>
<line class="ld" x1="1102.6" y1="1120.6" x2="1026.5" y2="1167.2"/>
<line class="ld" x1="1197.4" y1="1131.5" x2="1113.5" y2="1157.9"/>
<line class="ld" x1="1202.1" y1="1183.7" x2="1115.1" y2="1194.3"/>
<text x="806" y="221.2" text-anchor="middle">53</text>
<text x="1178" y="222.2" text-anchor="middle">49</text>
<text x="1256.5" y="233.7" text-anchor="middle">50</text>
<text x="317" y="287.2" text-anchor="middle">17</text>
<text x="745" y="346.2" text-anchor="middle">7</text>
<text x="1423" y="333.7" text-anchor="middle">12</text>
<text x="470.5" y="451.2" text-anchor="middle">30</text>
<text x="136" y="522.7" text-anchor="middle">84</text>
<text x="886" y="583.2" text-anchor="middle">70</text>
<text x="792.5" y="604.2" text-anchor="middle">65</text>
<text x="909" y="618.2" text-anchor="middle">35</text>
<text x="164" y="722.2" text-anchor="middle">64</text>
<text x="1120" y="730.7" text-anchor="middle">51</text>
<text x="1027.5" y="773.7" text-anchor="middle">73</text>
<text x="1472.5" y="738.2" text-anchor="middle">54</text>
<text x="1326.5" y="790.7" text-anchor="middle">88</text>
<text x="405.75" y="879.7" text-anchor="middle">5</text>
<text x="364.25" y="905.45" text-anchor="middle">10</text>
<text x="267.5" y="954.7" text-anchor="middle">1</text>
<text x="269.5" y="1000.45" text-anchor="middle">13</text>
<text x="268" y="1036.7" text-anchor="middle">31</text>
<text x="271.75" y="1092.2" text-anchor="middle">22</text>
<text x="278.25" y="1134.2" text-anchor="middle">26</text>
<text x="548.75" y="1073.95" text-anchor="middle">77</text>
<text x="513.75" y="1122.2" text-anchor="middle">15</text>
<text x="495.75" y="1153.45" text-anchor="middle">10</text>
<text x="620.2" y="1094.6" text-anchor="middle">5</text>
<text x="615.3" y="1138" text-anchor="middle">10</text>
<text x="608.4" y="1190.9" text-anchor="middle">31</text>
<text x="599.4" y="1250" text-anchor="middle">15</text>
<text x="590.5" y="1291.9" text-anchor="middle">10</text>
<text x="870.4" y="1057.1" text-anchor="middle">1</text>
<text x="832" y="1147.4" text-anchor="middle">13</text>
<text x="837.1" y="1228.8" text-anchor="middle">22</text>
<text x="841.6" y="1297.5" text-anchor="middle">26</text>
<text x="851.6" y="1010.9" text-anchor="middle">32</text>
<text x="922.4" y="875.1" text-anchor="middle">5</text>
<text x="1104.2" y="892.2" text-anchor="middle">1</text>
<text x="867.4" y="950.6" text-anchor="middle">10</text>
<text x="1105.1" y="945" text-anchor="middle">13</text>
<text x="1104.2" y="1061" text-anchor="middle">22</text>
<text x="1108.2" y="1121.3" text-anchor="middle">27</text>
<text x="1203.6" y="1134.6" text-anchor="middle">15</text>
<text x="1209.2" y="1186.9" text-anchor="middle">10</text>
<text x="35.6" y="1308.7" style="font-size:14.4px">07S1512-13-14-15-16-17-19</text>
<!-- 95_watermark.svg -->
<defs><clipPath id="wmclip"><rect x="240" y="700" width="998.6" height="80"/></clipPath></defs>
<g clip-path="url(#wmclip)">
<path class="wm" transform="translate(231.4,727.8)" d="M17.200000000000003,0 V25.6 H2.4 V19.6"/>
<path class="wm" transform="translate(258.4,727.5)" d="M19.6,2.4 H2.4 V25.6 H19.6 M2.4,14.0 H18.6"/>
<path class="wm" transform="translate(280.0,727.3)" d="M0,2.4 H19 M9.5,2.4 V28.0"/>
<path class="wm" transform="translate(301.0,727.2)" d="M20.9,2.4 H2.4 V14.0 H18.5 V25.6 H0"/>
<path class="wm" transform="translate(326.0,726.9)" d="M2.4,0 V28.0 M2.4,14.0 H8.8 L18.6,0 M8.8,14.0 L19.6,28.0"/>
<path class="wm" transform="translate(352.3,726.7)" d="M2.4,0 V28.0"/>
<path class="wm" transform="translate(362.5,726.6)" d="M2.4,22.5 V28.0"/>
<path class="wm" transform="translate(370.6,726.6)" d="M17.5,2.4 H2.4 V25.6 H17.5"/>
<path class="wm" transform="translate(392.2,726.4)" d="M2.4,2.4 H16.200000000000003 V25.6 H2.4 Z"/>
<path class="wm" transform="translate(416.5,726.2)" d="M2.4,28.0 V2.4 H17.900000000000002 V28.0 M10.15,2.4 V28.0"/>
<path class="wm" transform="translate(473.4,725.7)" d="M2.4,28.0 V2.4 H15.799999999999999 V15.0 H2.4"/>
<path class="wm" transform="translate(496.3,725.5)" d="M2.4,28.0 V2.4 H17.900000000000002 V14.0 H2.4 M9.135,14.0 L17.900000000000002,22.0 V28.0"/>
<path class="wm" transform="translate(521.3,725.3)" d="M2.4,2.4 H16.6 V25.6 H2.4 Z"/>
<path class="wm" transform="translate(546.3,725.1)" d="M2.4,28.0 V2.4 H17.200000000000003 V28.0 M9.8,2.4 V28.0"/>
<path class="wm" transform="translate(573.3,724.8)" d="M2.4,2.4 H15.9 V25.6 H2.4 Z"/>
<path class="wm" transform="translate(597.7,724.6)" d="M0,15.0 H8.8"/>
<path class="wm" transform="translate(610.5,724.5)" d="M17.200000000000003,0 V25.6 H2.4 V19.6"/>
<path class="wm" transform="translate(637.5,724.3)" d="M19.6,2.4 H2.4 V25.6 H19.6 M2.4,14.0 H18.6"/>
<path class="wm" transform="translate(659.1,724.1)" d="M0,2.4 H19 M9.5,2.4 V28.0"/>
<path class="wm" transform="translate(680.1,723.9)" d="M20.9,2.4 H2.4 V14.0 H18.5 V25.6 H0"/>
<path class="wm" transform="translate(705.1,723.7)" d="M2.4,0 V28.0 M2.4,14.0 H8.8 L18.6,0 M8.8,14.0 L19.6,28.0"/>
<path class="wm" transform="translate(731.4,723.5)" d="M2.4,0 V28.0"/>
<path class="wm" transform="translate(741.6,723.4)" d="M2.4,22.5 V28.0"/>
<path class="wm" transform="translate(749.7,723.3)" d="M17.5,2.4 H2.4 V25.6 H17.5"/>
<path class="wm" transform="translate(771.3,723.1)" d="M2.4,2.4 H16.200000000000003 V25.6 H2.4 Z"/>
<path class="wm" transform="translate(795.6,722.9)" d="M2.4,28.0 V2.4 H17.900000000000002 V28.0 M10.15,2.4 V28.0"/>
<path class="wm" transform="translate(852.1,722.4)" d="M2.4,28.0 V2.4 H15.799999999999999 V15.0 H2.4"/>
<path class="wm" transform="translate(875.0,722.2)" d="M2.4,28.0 V2.4 H17.900000000000002 V14.0 H2.4 M9.135,14.0 L17.900000000000002,22.0 V28.0"/>
<path class="wm" transform="translate(900.0,722.0)" d="M2.4,2.4 H16.6 V25.6 H2.4 Z"/>
<path class="wm" transform="translate(925.0,721.8)" d="M2.4,28.0 V2.4 H17.200000000000003 V28.0 M9.8,2.4 V28.0"/>
<path class="wm" transform="translate(952.0,721.6)" d="M2.4,2.4 H15.9 V25.6 H2.4 Z"/>
<path class="wm" transform="translate(976.4,721.4)" d="M0,15.0 H8.8"/>
<path class="wm" transform="translate(989.2,721.2)" d="M17.200000000000003,0 V25.6 H2.4 V19.6"/>
<path class="wm" transform="translate(1016.2,721.0)" d="M19.6,2.4 H2.4 V25.6 H19.6 M2.4,14.0 H18.6"/>
<path class="wm" transform="translate(1037.8,720.8)" d="M0,2.4 H19 M9.5,2.4 V28.0"/>
<path class="wm" transform="translate(1058.8,720.6)" d="M20.9,2.4 H2.4 V14.0 H18.5 V25.6 H0"/>
<path class="wm" transform="translate(1083.8,720.4)" d="M2.4,0 V28.0 M2.4,14.0 H8.8 L18.6,0 M8.8,14.0 L19.6,28.0"/>
<path class="wm" transform="translate(1110.1,720.2)" d="M2.4,0 V28.0"/>
<path class="wm" transform="translate(1120.3,720.1)" d="M2.4,22.5 V28.0"/>
<path class="wm" transform="translate(1128.4,720.0)" d="M17.5,2.4 H2.4 V25.6 H17.5"/>
<path class="wm" transform="translate(1150.0,719.9)" d="M2.4,2.4 H16.200000000000003 V25.6 H2.4 Z"/>
<path class="wm" transform="translate(1174.3,719.7)" d="M2.4,28.0 V2.4 H17.900000000000002 V28.0 M10.15,2.4 V28.0"/>
</g>
<path d="M1238.6,720 V748" stroke="#ddd" stroke-width="1.2" fill="none"/>
</svg>
</body></html>
